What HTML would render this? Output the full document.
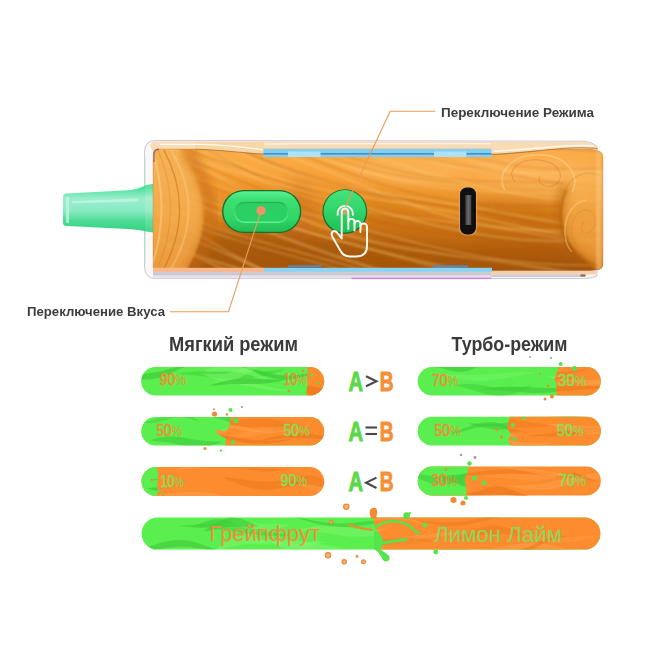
<!DOCTYPE html>
<html><head><meta charset="utf-8">
<style>
html,body{margin:0;padding:0;background:#fff;width:650px;height:650px;overflow:hidden}
svg{display:block}
text{font-family:"Liberation Sans",sans-serif}
</style></head><body>
<svg width="650" height="650" viewBox="0 0 650 650">
<defs>
  <linearGradient id="gBody" x1="0" y1="0" x2="0" y2="1">
    <stop offset="0" stop-color="#f8a63a"/>
    <stop offset="0.25" stop-color="#f39a2e"/>
    <stop offset="0.5" stop-color="#e48a22"/>
    <stop offset="0.75" stop-color="#c8701a"/>
    <stop offset="1" stop-color="#b86418"/>
  </linearGradient>
  <linearGradient id="gMouth" x1="0" y1="0" x2="0" y2="1">
    <stop offset="0" stop-color="#32da8a"/>
    <stop offset="0.1" stop-color="#52e19e"/>
    <stop offset="0.3" stop-color="#9aeecc"/>
    <stop offset="0.55" stop-color="#88eac2"/>
    <stop offset="0.76" stop-color="#4edc96"/>
    <stop offset="1" stop-color="#2cd27e"/>
  </linearGradient>
  <linearGradient id="gGreen" x1="0" y1="0" x2="0" y2="1">
    <stop offset="0" stop-color="#4fdf52"/>
    <stop offset="0.5" stop-color="#5eec5c"/>
    <stop offset="1" stop-color="#4fdc50"/>
  </linearGradient>
  <linearGradient id="gOrange" x1="0" y1="0" x2="0" y2="1">
    <stop offset="0" stop-color="#fb8a2a"/>
    <stop offset="0.5" stop-color="#fd9a44"/>
    <stop offset="1" stop-color="#f8862a"/>
  </linearGradient>
  <linearGradient id="gBtn" x1="0" y1="0" x2="0" y2="1">
    <stop offset="0" stop-color="#44e47c"/>
    <stop offset="0.5" stop-color="#30d468"/>
    <stop offset="1" stop-color="#1fbf55"/>
  </linearGradient>
  <clipPath id="cb1"><rect x="141" y="367" width="183" height="28" rx="14"/></clipPath>
  <clipPath id="cb2"><rect x="141" y="417" width="183" height="28" rx="14"/></clipPath>
  <clipPath id="cb3"><rect x="141" y="467" width="183" height="28" rx="14"/></clipPath>
  <clipPath id="cb4"><rect x="418" y="367" width="183" height="28" rx="14"/></clipPath>
  <clipPath id="cb5"><rect x="418" y="417" width="183" height="28" rx="14"/></clipPath>
  <clipPath id="cb6"><rect x="418" y="467" width="183" height="28" rx="14"/></clipPath>
  <clipPath id="cb7"><rect x="141" y="518" width="460" height="32" rx="16"/></clipPath>
  <clipPath id="cBody"><path d="M158 149 L590 149 L597 150.5 Q603 151.5 603 157 L603 264 Q603 269.5 597 269.8 L590 270.5 L158 271 Q153 271 153 265 L153 156 Q153 149 158 149 Z"/></clipPath>
  <filter id="blur6" x="-20%" y="-20%" width="140%" height="140%"><feGaussianBlur stdDeviation="6"/></filter>
  <filter id="blur2" x="-20%" y="-20%" width="140%" height="140%"><feGaussianBlur stdDeviation="2"/></filter>
  <linearGradient id="gCapL" x1="0" y1="0" x2="0" y2="1">
    <stop offset="0" stop-color="#f6b458"/>
    <stop offset="0.5" stop-color="#f5ae50"/>
    <stop offset="1" stop-color="#f0a040"/>
  </linearGradient>
  <linearGradient id="gCapR" x1="0" y1="0" x2="0" y2="1">
    <stop offset="0" stop-color="#f7b658" stop-opacity="0.9"/>
    <stop offset="0.4" stop-color="#f4a846" stop-opacity="0.95"/>
    <stop offset="1" stop-color="#ee9a36" stop-opacity="1"/>
  </linearGradient>
  <linearGradient id="gPill" x1="0" y1="0" x2="0" y2="1">
    <stop offset="0" stop-color="#58f090"/>
    <stop offset="0.2" stop-color="#3ee074"/>
    <stop offset="0.7" stop-color="#30d466"/>
    <stop offset="1" stop-color="#22bc56"/>
  </linearGradient>
  <linearGradient id="gPillIn" x1="0" y1="0" x2="0" y2="1">
    <stop offset="0" stop-color="#24b452"/>
    <stop offset="0.5" stop-color="#3ed874"/>
    <stop offset="1" stop-color="#5cf090"/>
  </linearGradient>
  <filter id="blur8" x="-20%" y="-20%" width="140%" height="140%"><feGaussianBlur stdDeviation="8"/></filter>
  <filter id="blur3" x="-20%" y="-20%" width="140%" height="140%"><feGaussianBlur stdDeviation="3"/></filter>
<!-- BARDEFS --><clipPath id="cL1"><rect x="141.2" y="367.0" width="183.0" height="28.5" rx="14.25"/></clipPath><clipPath id="cL2"><rect x="141.2" y="417.0" width="183.0" height="28.5" rx="14.25"/></clipPath><clipPath id="cL3"><rect x="141.5" y="467.0" width="182.7" height="29.0" rx="14.50"/></clipPath><clipPath id="cR1"><rect x="417.7" y="367.0" width="183.1" height="28.5" rx="14.25"/></clipPath><clipPath id="cR2"><rect x="417.7" y="416.8" width="183.1" height="28.7" rx="14.35"/></clipPath><clipPath id="cR3"><rect x="417.7" y="466.4" width="183.1" height="29.2" rx="14.60"/></clipPath><clipPath id="cB"><rect x="141.6" y="517.6" width="458.8" height="32.0" rx="16.00"/></clipPath><!-- /BARDEFS -->
  <filter id="blur1" x="-5%" y="-20%" width="110%" height="140%"><feGaussianBlur stdDeviation="0.9"/></filter>
  <filter id="blur05" x="-5%" y="-5%" width="110%" height="110%"><feGaussianBlur stdDeviation="0.5"/></filter>
  <filter id="blur4" x="-30%" y="-20%" width="160%" height="140%"><feGaussianBlur stdDeviation="4"/></filter>
  <linearGradient id="gUsb" x1="0" y1="0" x2="1" y2="0">
    <stop offset="0" stop-color="#3a3a3a"/>
    <stop offset="0.5" stop-color="#6a6a6a"/>
    <stop offset="1" stop-color="#404040"/>
  </linearGradient>
</defs>

<!-- ===== DEVICE ===== -->
<!-- outer shell -->
<path d="M156 140.5 L584 141.2 Q591 141.6 597 146 L597 276 Q591 278.5 583 278.5 L156 278.5 Q144.5 278.5 144.5 266 L144.5 152 Q144.5 140.5 156 140.5 Z" fill="#f6f1f4" fill-opacity="0.55" stroke="#cfc4d4" stroke-width="1"/>
<path d="M145 158 L145 264" stroke="#b8e8c8" stroke-width="1.2" fill="none"/>
<!-- mouthpiece -->
<path d="M66.5 193.5 Q63 193.5 63 197 L63 222.5 Q63 226 66.5 226 L128 229 Q140 229.8 146 231.5 L153 232.5 L153 184 L146 185 Q140 189 128 190.2 Z" fill="url(#gMouth)"/>
<rect x="145" y="184" width="8.5" height="49" fill="#ffffff" opacity="0.12"/>
<path d="M66 197 L69 196.8 L69 223 L66 223 Z" fill="#c8f6e4" opacity="0.7"/>
<path d="M72 201 L138 198.5 L138 201.5 L72 203.5 Z" fill="#d0f8ea" opacity="0.6"/>
<!-- top translucent face -->
<path d="M156 141.5 L584 142 Q591 142.5 597 147 L597 151 L153 151 L150 146 Q151 141.5 156 141.5 Z" fill="#f7d4a8" opacity="0.8"/>
<path d="M262 144 Q280 144 300 143.6 L491 143.6" fill="none" stroke="#fff6ea" stroke-width="1.4" opacity="0.9"/>
<!-- bottom band -->
<rect x="153" y="269.5" width="443" height="5" fill="#f6cfae"/>
<rect x="153" y="272.3" width="338" height="3.4" fill="#c9c9d3"/>
<rect x="491" y="274.5" width="94" height="2.5" fill="#cfcbd6"/>
<rect x="153" y="275.7" width="338" height="2.6" fill="#e6e3ec"/>
<ellipse cx="583" cy="275.5" rx="3" ry="1.2" fill="#6a4a3a" opacity="0.7"/>
<!-- body -->
<!-- BODY START -->
<g clip-path="url(#cBody)">
  <rect x="150" y="146" width="455" height="130" fill="url(#gBody)"/>
  <g filter="url(#blur8)">
    <path d="M185 236 Q260 222 330 236 Q420 250 560 246 L600 262 L600 285 L185 285 Z" fill="#8e4604" opacity="0.5"/>
    <path d="M190 140 L600 140 L600 192 Q520 200 430 186 Q330 172 190 178 Z" fill="#fdb050" opacity="0.55"/>
    <path d="M360 200 Q420 205 470 225 L470 260 L360 262 Z" fill="#b05c10" opacity="0.3"/>
    <path d="M470 150 Q540 150 600 165 L600 200 Q540 195 480 180 Z" fill="#fdba68" opacity="0.5"/>
    <ellipse cx="300" cy="212" rx="16" ry="36" fill="#c06410" opacity="0.35"/>
    <path d="M470 200 Q520 195 556 205 L560 262 L470 262 Z" fill="#b05808" opacity="0.4"/>
    <ellipse cx="410" cy="170" rx="60" ry="14" fill="#fdbc6a" opacity="0.45"/>
  </g>
  <g filter="url(#blur1)">
  <path d="M150 39.6 L160 45.0 L170 50.4 L180 55.6 L190 60.7 L200 65.6 L210 70.3 L220 74.9 L230 79.2 L240 83.3 L250 87.1 L260 90.7 L270 94.1 L280 97.2 L290 100.0 L300 102.7 L310 105.1 L320 107.4 L330 109.5 L340 111.4 L350 113.2 L360 114.9 L370 116.5 L380 118.1 L390 119.6 L400 121.1 L410 122.6 L420 124.2 L430 125.8 L440 127.4 L450 129.1 L460 130.8 L470 132.5 L480 134.3 L490 136.1 L500 137.9 L510 139.7 L520 141.5 L530 143.2 L540 144.9 L550 146.4 L560 147.8 L570 149.1 L580 150.2 L590 151.1 L600 151.8" fill="none" stroke="#a85810" stroke-opacity="0.22" stroke-width="2.0"/>
  <path d="M150 43.5 L160 48.7 L170 53.8 L180 58.9 L190 63.8 L200 68.7 L210 73.3 L220 77.8 L230 82.1 L240 86.2 L250 90.1 L260 93.8 L270 97.3 L280 100.5 L290 103.5 L300 106.3 L310 108.9 L320 111.3 L330 113.5 L340 115.5 L350 117.4 L360 119.2 L370 120.8 L380 122.3 L390 123.8 L400 125.3 L410 126.7 L420 128.1 L430 129.5 L440 130.9 L450 132.3 L460 133.7 L470 135.2 L480 136.7 L490 138.2 L500 139.8 L510 141.3 L520 142.8 L530 144.3 L540 145.7 L550 147.0 L560 148.3 L570 149.4 L580 150.4 L590 151.3 L600 151.9" fill="none" stroke="#ffd27a" stroke-opacity="0.3" stroke-width="2.2"/>
  <path d="M150 45.1 L160 49.5 L170 54.0 L180 58.5 L190 62.9 L200 67.4 L210 71.9 L220 76.4 L230 80.8 L240 85.2 L250 89.5 L260 93.7 L270 97.8 L280 101.7 L290 105.6 L300 109.2 L310 112.7 L320 116.0 L330 119.1 L340 122.0 L350 124.7 L360 127.1 L370 129.4 L380 131.4 L390 133.3 L400 134.9 L410 136.4 L420 137.7 L430 138.9 L440 139.9 L450 140.9 L460 141.7 L470 142.5 L480 143.2 L490 143.9 L500 144.6 L510 145.2 L520 145.9 L530 146.6 L540 147.3 L550 148.0 L560 148.7 L570 149.4 L580 150.1 L590 150.8 L600 151.5" fill="none" stroke="#a85810" stroke-opacity="0.22" stroke-width="1.4"/>
  <path d="M150 55.4 L160 59.2 L170 63.0 L180 66.6 L190 70.3 L200 73.9 L210 77.5 L220 81.1 L230 84.8 L240 88.6 L250 92.5 L260 96.4 L270 100.5 L280 104.6 L290 108.8 L300 113.0 L310 117.3 L320 121.6 L330 125.8 L340 130.1 L350 134.3 L360 138.3 L370 142.3 L380 146.0 L390 149.6 L400 153.0 L410 156.1 L420 159.0 L430 161.6 L440 163.9 L450 165.9 L460 167.7 L470 169.1 L480 170.3 L490 171.3 L500 172.0 L510 172.5 L520 172.8 L530 172.9 L540 173.0 L550 172.9 L560 172.8 L570 172.6 L580 172.5 L590 172.3 L600 172.2" fill="none" stroke="#ffd27a" stroke-opacity="0.3" stroke-width="2.1"/>
  <path d="M150 66.8 L160 71.6 L170 76.2 L180 80.5 L190 84.5 L200 88.2 L210 91.7 L220 95.0 L230 98.0 L240 100.8 L250 103.4 L260 105.9 L270 108.2 L280 110.5 L290 112.6 L300 114.8 L310 116.9 L320 119.0 L330 121.2 L340 123.4 L350 125.6 L360 128.0 L370 130.4 L380 132.9 L390 135.4 L400 138.0 L410 140.7 L420 143.4 L430 146.1 L440 148.7 L450 151.3 L460 153.9 L470 156.3 L480 158.6 L490 160.7 L500 162.6 L510 164.4 L520 165.9 L530 167.1 L540 168.1 L550 168.8 L560 169.2 L570 169.4 L580 169.3 L590 168.9 L600 168.3" fill="none" stroke="#a85810" stroke-opacity="0.22" stroke-width="1.4"/>
  <path d="M150 65.8 L160 71.4 L170 76.7 L180 81.9 L190 86.8 L200 91.4 L210 95.8 L220 99.9 L230 103.7 L240 107.3 L250 110.7 L260 113.7 L270 116.6 L280 119.3 L290 121.7 L300 124.1 L310 126.2 L320 128.3 L330 130.3 L340 132.3 L350 134.3 L360 136.2 L370 138.2 L380 140.2 L390 142.3 L400 144.4 L410 146.6 L420 148.9 L430 151.2 L440 153.6 L450 156.0 L460 158.5 L470 160.9 L480 163.4 L490 165.7 L500 168.1 L510 170.3 L520 172.3 L530 174.2 L540 176.0 L550 177.5 L560 178.8 L570 179.9 L580 180.7 L590 181.2 L600 181.4" fill="none" stroke="#ffd27a" stroke-opacity="0.3" stroke-width="2.4"/>
  <path d="M150 67.9 L160 73.5 L170 78.9 L180 84.2 L190 89.4 L200 94.5 L210 99.4 L220 104.0 L230 108.5 L240 112.8 L250 116.9 L260 120.7 L270 124.3 L280 127.6 L290 130.8 L300 133.7 L310 136.4 L320 138.9 L330 141.3 L340 143.5 L350 145.6 L360 147.5 L370 149.4 L380 151.2 L390 152.9 L400 154.7 L410 156.4 L420 158.1 L430 159.9 L440 161.6 L450 163.4 L460 165.2 L470 167.1 L480 169.0 L490 170.9 L500 172.8 L510 174.6 L520 176.5 L530 178.3 L540 180.0 L550 181.7 L560 183.2 L570 184.6 L580 185.8 L590 186.9 L600 187.7" fill="none" stroke="#a85810" stroke-opacity="0.22" stroke-width="1.3"/>
  <path d="M150 76.5 L160 81.6 L170 86.5 L180 91.2 L190 95.7 L200 100.0 L210 104.1 L220 107.9 L230 111.7 L240 115.2 L250 118.7 L260 122.0 L270 125.2 L280 128.3 L290 131.4 L300 134.4 L310 137.4 L320 140.3 L330 143.3 L340 146.3 L350 149.3 L360 152.3 L370 155.3 L380 158.3 L390 161.4 L400 164.4 L410 167.4 L420 170.4 L430 173.3 L440 176.2 L450 178.9 L460 181.6 L470 184.2 L480 186.6 L490 188.9 L500 190.9 L510 192.8 L520 194.5 L530 196.0 L540 197.3 L550 198.4 L560 199.3 L570 199.9 L580 200.3 L590 200.6 L600 200.7" fill="none" stroke="#ffd27a" stroke-opacity="0.3" stroke-width="2.4"/>
  <path d="M150 74.6 L160 78.5 L170 82.4 L180 86.4 L190 90.4 L200 94.4 L210 98.5 L220 102.7 L230 107.0 L240 111.3 L250 115.6 L260 120.0 L270 124.4 L280 128.7 L290 133.1 L300 137.3 L310 141.5 L320 145.6 L330 149.5 L340 153.3 L350 156.8 L360 160.2 L370 163.3 L380 166.1 L390 168.7 L400 171.1 L410 173.1 L420 175.0 L430 176.5 L440 177.8 L450 178.9 L460 179.8 L470 180.5 L480 181.0 L490 181.4 L500 181.7 L510 181.9 L520 182.1 L530 182.2 L540 182.4 L550 182.5 L560 182.7 L570 183.0 L580 183.3 L590 183.7 L600 184.1" fill="none" stroke="#a85810" stroke-opacity="0.22" stroke-width="1.5"/>
  <path d="M150 78.4 L160 82.5 L170 86.8 L180 91.0 L190 95.4 L200 99.8 L210 104.3 L220 108.9 L230 113.5 L240 118.2 L250 122.9 L260 127.6 L270 132.4 L280 137.1 L290 141.7 L300 146.2 L310 150.6 L320 154.9 L330 158.9 L340 162.8 L350 166.5 L360 169.9 L370 173.0 L380 175.9 L390 178.5 L400 180.8 L410 182.8 L420 184.6 L430 186.2 L440 187.5 L450 188.5 L460 189.4 L470 190.2 L480 190.8 L490 191.3 L500 191.8 L510 192.2 L520 192.5 L530 192.9 L540 193.3 L550 193.8 L560 194.3 L570 194.9 L580 195.6 L590 196.3 L600 197.2" fill="none" stroke="#ffd27a" stroke-opacity="0.3" stroke-width="1.9"/>
  <path d="M150 85.3 L160 89.5 L170 93.7 L180 97.9 L190 102.1 L200 106.4 L210 110.6 L220 114.8 L230 119.1 L240 123.3 L250 127.5 L260 131.7 L270 135.8 L280 139.8 L290 143.7 L300 147.5 L310 151.2 L320 154.7 L330 158.1 L340 161.3 L350 164.2 L360 167.0 L370 169.6 L380 171.9 L390 174.1 L400 176.0 L410 177.7 L420 179.3 L430 180.6 L440 181.8 L450 182.8 L460 183.7 L470 184.5 L480 185.1 L490 185.7 L500 186.2 L510 186.7 L520 187.2 L530 187.6 L540 188.0 L550 188.4 L560 188.9 L570 189.3 L580 189.8 L590 190.3 L600 190.7" fill="none" stroke="#a85810" stroke-opacity="0.22" stroke-width="1.4"/>
  <path d="M150 87.3 L160 91.4 L170 95.4 L180 99.6 L190 103.8 L200 108.0 L210 112.3 L220 116.6 L230 120.9 L240 125.3 L250 129.6 L260 133.9 L270 138.2 L280 142.3 L290 146.4 L300 150.3 L310 154.1 L320 157.7 L330 161.1 L340 164.4 L350 167.3 L360 170.1 L370 172.6 L380 174.8 L390 176.9 L400 178.6 L410 180.1 L420 181.5 L430 182.6 L440 183.5 L450 184.2 L460 184.8 L470 185.3 L480 185.7 L490 186.1 L500 186.4 L510 186.6 L520 186.9 L530 187.1 L540 187.4 L550 187.8 L560 188.2 L570 188.6 L580 189.1 L590 189.6 L600 190.1" fill="none" stroke="#ffd27a" stroke-opacity="0.3" stroke-width="2.4"/>
  <path d="M150 97.9 L160 101.7 L170 105.4 L180 109.1 L190 112.7 L200 116.3 L210 119.9 L220 123.5 L230 127.1 L240 130.8 L250 134.6 L260 138.4 L270 142.2 L280 146.1 L290 150.0 L300 153.9 L310 157.9 L320 161.8 L330 165.7 L340 169.5 L350 173.2 L360 176.8 L370 180.2 L380 183.5 L390 186.6 L400 189.5 L410 192.2 L420 194.6 L430 196.8 L440 198.7 L450 200.4 L460 201.8 L470 203.0 L480 204.0 L490 204.8 L500 205.3 L510 205.7 L520 205.9 L530 206.0 L540 206.0 L550 205.9 L560 205.8 L570 205.6 L580 205.4 L590 205.2 L600 205.1" fill="none" stroke="#a85810" stroke-opacity="0.22" stroke-width="2.0"/>
  <path d="M150 105.8 L160 110.1 L170 114.2 L180 118.1 L190 121.9 L200 125.5 L210 129.0 L220 132.4 L230 135.8 L240 139.2 L250 142.6 L260 146.0 L270 149.5 L280 153.1 L290 156.8 L300 160.5 L310 164.3 L320 168.2 L330 172.2 L340 176.2 L350 180.3 L360 184.4 L370 188.4 L380 192.4 L390 196.4 L400 200.2 L410 203.9 L420 207.4 L430 210.8 L440 213.9 L450 216.8 L460 219.4 L470 221.7 L480 223.8 L490 225.6 L500 227.1 L510 228.3 L520 229.2 L530 229.9 L540 230.4 L550 230.7 L560 230.7 L570 230.7 L580 230.5 L590 230.2 L600 229.8" fill="none" stroke="#ffd27a" stroke-opacity="0.3" stroke-width="2.5"/>
  <path d="M150 100.9 L160 106.6 L170 112.3 L180 117.9 L190 123.5 L200 129.0 L210 134.3 L220 139.6 L230 144.6 L240 149.5 L250 154.2 L260 158.6 L270 162.8 L280 166.8 L290 170.6 L300 174.1 L310 177.3 L320 180.3 L330 183.1 L340 185.7 L350 188.1 L360 190.3 L370 192.4 L380 194.4 L390 196.2 L400 198.0 L410 199.7 L420 201.3 L430 203.0 L440 204.7 L450 206.3 L460 208.1 L470 209.8 L480 211.6 L490 213.5 L500 215.4 L510 217.3 L520 219.2 L530 221.2 L540 223.1 L550 225.0 L560 226.9 L570 228.7 L580 230.4 L590 231.9 L600 233.3" fill="none" stroke="#a85810" stroke-opacity="0.22" stroke-width="2.4"/>
  <path d="M150 106.9 L160 112.4 L170 118.0 L180 123.4 L190 128.7 L200 134.0 L210 139.0 L220 144.0 L230 148.7 L240 153.2 L250 157.5 L260 161.6 L270 165.4 L280 168.9 L290 172.3 L300 175.3 L310 178.2 L320 180.8 L330 183.2 L340 185.4 L350 187.5 L360 189.4 L370 191.1 L380 192.8 L390 194.4 L400 196.0 L410 197.5 L420 199.0 L430 200.5 L440 202.0 L450 203.6 L460 205.2 L470 206.9 L480 208.6 L490 210.4 L500 212.2 L510 214.0 L520 215.8 L530 217.6 L540 219.4 L550 221.1 L560 222.8 L570 224.3 L580 225.7 L590 227.0 L600 228.1" fill="none" stroke="#ffd27a" stroke-opacity="0.3" stroke-width="2.2"/>
  <path d="M150 111.9 L160 116.2 L170 120.6 L180 124.8 L190 129.1 L200 133.3 L210 137.5 L220 141.6 L230 145.7 L240 149.8 L250 153.7 L260 157.6 L270 161.4 L280 165.2 L290 168.8 L300 172.3 L310 175.7 L320 178.9 L330 182.1 L340 185.0 L350 187.8 L360 190.5 L370 193.0 L380 195.3 L390 197.4 L400 199.4 L410 201.3 L420 203.0 L430 204.5 L440 205.9 L450 207.2 L460 208.4 L470 209.4 L480 210.4 L490 211.3 L500 212.1 L510 212.8 L520 213.5 L530 214.2 L540 214.7 L550 215.3 L560 215.8 L570 216.3 L580 216.7 L590 217.1 L600 217.5" fill="none" stroke="#a85810" stroke-opacity="0.22" stroke-width="1.4"/>
  <path d="M150 117.6 L160 123.4 L170 129.2 L180 134.7 L190 140.2 L200 145.4 L210 150.5 L220 155.3 L230 159.8 L240 164.1 L250 168.1 L260 171.9 L270 175.3 L280 178.5 L290 181.5 L300 184.2 L310 186.6 L320 188.9 L330 191.0 L340 192.9 L350 194.7 L360 196.4 L370 198.1 L380 199.7 L390 201.3 L400 202.9 L410 204.5 L420 206.2 L430 208.0 L440 209.8 L450 211.7 L460 213.7 L470 215.8 L480 217.9 L490 220.0 L500 222.2 L510 224.4 L520 226.5 L530 228.6 L540 230.6 L550 232.6 L560 234.3 L570 235.9 L580 237.3 L590 238.5 L600 239.5" fill="none" stroke="#ffd27a" stroke-opacity="0.3" stroke-width="2.2"/>
  <path d="M150 118.1 L160 123.3 L170 128.7 L180 134.1 L190 139.6 L200 145.0 L210 150.5 L220 156.0 L230 161.4 L240 166.8 L250 172.1 L260 177.2 L270 182.2 L280 187.0 L290 191.7 L300 196.0 L310 200.2 L320 204.1 L330 207.7 L340 211.1 L350 214.2 L360 217.0 L370 219.6 L380 222.0 L390 224.1 L400 226.0 L410 227.7 L420 229.3 L430 230.7 L440 232.1 L450 233.3 L460 234.6 L470 235.8 L480 237.0 L490 238.2 L500 239.5 L510 240.9 L520 242.3 L530 243.7 L540 245.3 L550 246.9 L560 248.5 L570 250.2 L580 251.9 L590 253.7 L600 255.4" fill="none" stroke="#a85810" stroke-opacity="0.22" stroke-width="1.6"/>
  <path d="M150 123.2 L160 128.6 L170 134.1 L180 139.5 L190 145.0 L200 150.4 L210 155.7 L220 160.9 L230 165.9 L240 170.8 L250 175.5 L260 180.0 L270 184.2 L280 188.2 L290 191.9 L300 195.3 L310 198.5 L320 201.4 L330 204.0 L340 206.3 L350 208.4 L360 210.3 L370 212.0 L380 213.5 L390 214.9 L400 216.2 L410 217.4 L420 218.5 L430 219.6 L440 220.7 L450 221.8 L460 223.0 L470 224.2 L480 225.5 L490 226.9 L500 228.3 L510 229.9 L520 231.4 L530 233.1 L540 234.8 L550 236.5 L560 238.2 L570 239.8 L580 241.4 L590 242.9 L600 244.3" fill="none" stroke="#ffd27a" stroke-opacity="0.3" stroke-width="1.7"/>
  <path d="M150 134.4 L160 138.6 L170 142.7 L180 146.7 L190 150.5 L200 154.2 L210 157.8 L220 161.3 L230 164.8 L240 168.2 L250 171.6 L260 174.9 L270 178.3 L280 181.6 L290 184.9 L300 188.1 L310 191.4 L320 194.7 L330 197.9 L340 201.1 L350 204.2 L360 207.3 L370 210.4 L380 213.3 L390 216.2 L400 218.9 L410 221.6 L420 224.1 L430 226.4 L440 228.6 L450 230.6 L460 232.4 L470 234.1 L480 235.6 L490 236.8 L500 237.9 L510 238.8 L520 239.6 L530 240.2 L540 240.6 L550 240.8 L560 241.0 L570 241.0 L580 240.9 L590 240.7 L600 240.4" fill="none" stroke="#a85810" stroke-opacity="0.22" stroke-width="2.0"/>
  <path d="M150 141.2 L160 145.5 L170 149.6 L180 153.6 L190 157.3 L200 160.9 L210 164.2 L220 167.5 L230 170.6 L240 173.5 L250 176.4 L260 179.2 L270 181.9 L280 184.6 L290 187.3 L300 189.9 L310 192.6 L320 195.2 L330 197.9 L340 200.5 L350 203.2 L360 205.9 L370 208.6 L380 211.3 L390 214.0 L400 216.6 L410 219.2 L420 221.7 L430 224.1 L440 226.5 L450 228.7 L460 230.7 L470 232.6 L480 234.4 L490 235.9 L500 237.3 L510 238.4 L520 239.4 L530 240.1 L540 240.6 L550 240.9 L560 241.0 L570 240.9 L580 240.6 L590 240.2 L600 239.6" fill="none" stroke="#ffd27a" stroke-opacity="0.3" stroke-width="2.3"/>
  <path d="M150 143.4 L160 147.7 L170 151.9 L180 156.0 L190 160.1 L200 164.2 L210 168.3 L220 172.4 L230 176.5 L240 180.6 L250 184.8 L260 189.0 L270 193.2 L280 197.4 L290 201.6 L300 205.8 L310 210.0 L320 214.1 L330 218.2 L340 222.1 L350 226.0 L360 229.7 L370 233.3 L380 236.7 L390 239.9 L400 242.9 L410 245.7 L420 248.3 L430 250.6 L440 252.7 L450 254.6 L460 256.3 L470 257.8 L480 259.0 L490 260.1 L500 261.0 L510 261.8 L520 262.5 L530 263.0 L540 263.5 L550 263.8 L560 264.2 L570 264.5 L580 264.8 L590 265.1 L600 265.5" fill="none" stroke="#a85810" stroke-opacity="0.22" stroke-width="2.1"/>
  <path d="M150 139.8 L160 145.2 L170 150.6 L180 156.0 L190 161.5 L200 167.1 L210 172.6 L220 178.1 L230 183.5 L240 188.8 L250 194.1 L260 199.2 L270 204.1 L280 208.9 L290 213.5 L300 217.8 L310 221.9 L320 225.7 L330 229.3 L340 232.6 L350 235.7 L360 238.5 L370 241.0 L380 243.4 L390 245.5 L400 247.4 L410 249.1 L420 250.7 L430 252.2 L440 253.6 L450 255.0 L460 256.3 L470 257.5 L480 258.8 L490 260.2 L500 261.5 L510 263.0 L520 264.4 L530 266.0 L540 267.6 L550 269.3 L560 271.0 L570 272.7 L580 274.5 L590 276.2 L600 277.9" fill="none" stroke="#ffd27a" stroke-opacity="0.3" stroke-width="2.7"/>
  <path d="M150 150.8 L160 155.2 L170 159.5 L180 163.7 L190 167.9 L200 172.0 L210 176.1 L220 180.1 L230 184.1 L240 188.1 L250 192.0 L260 196.0 L270 199.8 L280 203.7 L290 207.5 L300 211.2 L310 214.8 L320 218.4 L330 221.9 L340 225.3 L350 228.6 L360 231.7 L370 234.7 L380 237.6 L390 240.3 L400 242.9 L410 245.2 L420 247.5 L430 249.5 L440 251.4 L450 253.1 L460 254.7 L470 256.1 L480 257.3 L490 258.4 L500 259.4 L510 260.2 L520 261.0 L530 261.6 L540 262.2 L550 262.7 L560 263.1 L570 263.5 L580 263.9 L590 264.2 L600 264.4" fill="none" stroke="#a85810" stroke-opacity="0.22" stroke-width="1.3"/>
  <path d="M150 157.7 L160 162.3 L170 166.8 L180 171.0 L190 175.1 L200 179.1 L210 182.9 L220 186.5 L230 190.0 L240 193.3 L250 196.6 L260 199.7 L270 202.8 L280 205.8 L290 208.7 L300 211.6 L310 214.4 L320 217.2 L330 220.0 L340 222.7 L350 225.4 L360 228.1 L370 230.8 L380 233.5 L390 236.1 L400 238.6 L410 241.1 L420 243.6 L430 246.0 L440 248.2 L450 250.4 L460 252.5 L470 254.4 L480 256.2 L490 257.9 L500 259.4 L510 260.7 L520 261.9 L530 262.9 L540 263.7 L550 264.3 L560 264.7 L570 265.0 L580 265.1 L590 265.1 L600 264.9" fill="none" stroke="#ffd27a" stroke-opacity="0.3" stroke-width="1.6"/>
  <path d="M150 161.8 L160 166.3 L170 170.7 L180 174.9 L190 178.9 L200 182.8 L210 186.5 L220 190.1 L230 193.5 L240 196.9 L250 200.2 L260 203.3 L270 206.4 L280 209.4 L290 212.4 L300 215.3 L310 218.2 L320 221.0 L330 223.8 L340 226.5 L350 229.3 L360 232.0 L370 234.7 L380 237.3 L390 239.9 L400 242.4 L410 244.8 L420 247.2 L430 249.5 L440 251.7 L450 253.8 L460 255.7 L470 257.5 L480 259.2 L490 260.7 L500 262.1 L510 263.3 L520 264.3 L530 265.2 L540 265.9 L550 266.4 L560 266.8 L570 267.0 L580 267.1 L590 267.0 L600 266.8" fill="none" stroke="#a85810" stroke-opacity="0.22" stroke-width="1.2"/>
  <path d="M150 168.7 L160 173.9 L170 178.9 L180 183.8 L190 188.4 L200 192.9 L210 197.3 L220 201.4 L230 205.4 L240 209.2 L250 212.9 L260 216.4 L270 219.8 L280 223.1 L290 226.3 L300 229.4 L310 232.4 L320 235.4 L330 238.2 L340 241.1 L350 243.9 L360 246.7 L370 249.4 L380 252.1 L390 254.8 L400 257.5 L410 260.1 L420 262.7 L430 265.3 L440 267.8 L450 270.3 L460 272.7 L470 275.0 L480 277.2 L490 279.2 L500 281.2 L510 283.0 L520 284.7 L530 286.2 L540 287.6 L550 288.8 L560 289.8 L570 290.7 L580 291.4 L590 291.9 L600 292.2" fill="none" stroke="#ffd27a" stroke-opacity="0.3" stroke-width="2.0"/>
  <path d="M150 165.5 L160 170.9 L170 176.3 L180 181.6 L190 186.9 L200 192.1 L210 197.1 L220 202.1 L230 206.8 L240 211.3 L250 215.7 L260 219.7 L270 223.6 L280 227.1 L290 230.4 L300 233.4 L310 236.2 L320 238.6 L330 240.9 L340 242.9 L350 244.7 L360 246.3 L370 247.7 L380 249.0 L390 250.2 L400 251.4 L410 252.5 L420 253.5 L430 254.6 L440 255.7 L450 256.9 L460 258.1 L470 259.3 L480 260.7 L490 262.1 L500 263.5 L510 265.1 L520 266.7 L530 268.3 L540 269.9 L550 271.5 L560 273.1 L570 274.5 L580 275.9 L590 277.2 L600 278.3" fill="none" stroke="#a85810" stroke-opacity="0.22" stroke-width="1.9"/>
  <path d="M150 177.1 L160 181.6 L170 185.9 L180 190.1 L190 194.1 L200 198.0 L210 201.7 L220 205.3 L230 208.7 L240 212.0 L250 215.2 L260 218.3 L270 221.3 L280 224.3 L290 227.1 L300 230.0 L310 232.7 L320 235.5 L330 238.1 L340 240.8 L350 243.4 L360 246.0 L370 248.6 L380 251.1 L390 253.6 L400 256.0 L410 258.4 L420 260.7 L430 262.9 L440 265.1 L450 267.1 L460 269.0 L470 270.8 L480 272.5 L490 274.0 L500 275.4 L510 276.6 L520 277.6 L530 278.5 L540 279.2 L550 279.7 L560 280.1 L570 280.3 L580 280.3 L590 280.2 L600 280.0" fill="none" stroke="#ffd27a" stroke-opacity="0.3" stroke-width="1.9"/>
  <path d="M150 178.4 L160 183.2 L170 188.0 L180 192.7 L190 197.3 L200 201.8 L210 206.2 L220 210.5 L230 214.8 L240 218.9 L250 222.8 L260 226.7 L270 230.3 L280 233.9 L290 237.3 L300 240.5 L310 243.6 L320 246.5 L330 249.2 L340 251.8 L350 254.3 L360 256.6 L370 258.8 L380 260.8 L390 262.7 L400 264.6 L410 266.3 L420 267.9 L430 269.5 L440 271.0 L450 272.4 L460 273.8 L470 275.1 L480 276.4 L490 277.7 L500 278.9 L510 280.0 L520 281.1 L530 282.2 L540 283.2 L550 284.2 L560 285.1 L570 285.9 L580 286.6 L590 287.2 L600 287.7" fill="none" stroke="#a85810" stroke-opacity="0.22" stroke-width="1.9"/>
  <path d="M150 183.7 L160 188.3 L170 192.7 L180 197.1 L190 201.3 L200 205.4 L210 209.5 L220 213.5 L230 217.4 L240 221.3 L250 225.1 L260 228.9 L270 232.6 L280 236.3 L290 240.0 L300 243.6 L310 247.1 L320 250.6 L330 254.1 L340 257.5 L350 260.8 L360 264.0 L370 267.2 L380 270.2 L390 273.1 L400 275.9 L410 278.6 L420 281.1 L430 283.5 L440 285.8 L450 287.9 L460 289.8 L470 291.6 L480 293.2 L490 294.6 L500 295.9 L510 297.1 L520 298.1 L530 299.0 L540 299.7 L550 300.4 L560 300.9 L570 301.3 L580 301.7 L590 301.9 L600 302.1" fill="none" stroke="#ffd27a" stroke-opacity="0.3" stroke-width="3.0"/>
  <path d="M150 192.8 L160 197.7 L170 202.5 L180 207.0 L190 211.4 L200 215.6 L210 219.6 L220 223.5 L230 227.3 L240 231.0 L250 234.5 L260 238.0 L270 241.4 L280 244.8 L290 248.1 L300 251.3 L310 254.6 L320 257.8 L330 261.0 L340 264.2 L350 267.4 L360 270.6 L370 273.8 L380 276.9 L390 280.1 L400 283.1 L410 286.2 L420 289.1 L430 291.9 L440 294.7 L450 297.3 L460 299.8 L470 302.2 L480 304.4 L490 306.4 L500 308.3 L510 310.0 L520 311.4 L530 312.7 L540 313.8 L550 314.7 L560 315.5 L570 316.0 L580 316.4 L590 316.6 L600 316.7" fill="none" stroke="#a85810" stroke-opacity="0.22" stroke-width="1.4"/>
  <path d="M150 199.6 L160 204.6 L170 209.3 L180 213.7 L190 217.9 L200 221.8 L210 225.5 L220 229.0 L230 232.3 L240 235.5 L250 238.5 L260 241.4 L270 244.2 L280 247.0 L290 249.7 L300 252.4 L310 255.1 L320 257.9 L330 260.7 L340 263.5 L350 266.4 L360 269.4 L370 272.5 L380 275.6 L390 278.7 L400 281.9 L410 285.0 L420 288.2 L430 291.3 L440 294.3 L450 297.3 L460 300.1 L470 302.8 L480 305.4 L490 307.7 L500 309.8 L510 311.7 L520 313.3 L530 314.7 L540 315.8 L550 316.6 L560 317.2 L570 317.5 L580 317.6 L590 317.5 L600 317.2" fill="none" stroke="#ffd27a" stroke-opacity="0.3" stroke-width="1.8"/>
  <path d="M150 192.6 L160 197.6 L170 202.6 L180 207.8 L190 213.0 L200 218.3 L210 223.6 L220 229.0 L230 234.3 L240 239.7 L250 245.0 L260 250.3 L270 255.5 L280 260.6 L290 265.5 L300 270.2 L310 274.7 L320 279.1 L330 283.1 L340 287.0 L350 290.5 L360 293.8 L370 296.8 L380 299.5 L390 302.0 L400 304.2 L410 306.2 L420 308.0 L430 309.6 L440 311.1 L450 312.4 L460 313.6 L470 314.7 L480 315.7 L490 316.8 L500 317.9 L510 318.9 L520 320.1 L530 321.2 L540 322.5 L550 323.8 L560 325.2 L570 326.7 L580 328.2 L590 329.8 L600 331.3" fill="none" stroke="#a85810" stroke-opacity="0.22" stroke-width="2.3"/>
  <path d="M150 207.5 L160 212.1 L170 216.4 L180 220.6 L190 224.5 L200 228.2 L210 231.7 L220 235.1 L230 238.3 L240 241.3 L250 244.3 L260 247.2 L270 250.0 L280 252.8 L290 255.5 L300 258.2 L310 261.0 L320 263.7 L330 266.4 L340 269.2 L350 272.0 L360 274.9 L370 277.7 L380 280.6 L390 283.5 L400 286.3 L410 289.1 L420 291.9 L430 294.6 L440 297.2 L450 299.6 L460 302.0 L470 304.2 L480 306.2 L490 308.0 L500 309.6 L510 311.0 L520 312.2 L530 313.2 L540 313.9 L550 314.4 L560 314.7 L570 314.8 L580 314.7 L590 314.4 L600 313.9" fill="none" stroke="#ffd27a" stroke-opacity="0.3" stroke-width="1.5"/>
  <path d="M150 203.7 L160 207.9 L170 212.1 L180 216.3 L190 220.4 L200 224.5 L210 228.6 L220 232.7 L230 236.8 L240 240.9 L250 245.0 L260 249.0 L270 253.0 L280 257.0 L290 260.8 L300 264.7 L310 268.4 L320 272.0 L330 275.5 L340 278.8 L350 282.1 L360 285.1 L370 288.0 L380 290.7 L390 293.2 L400 295.5 L410 297.6 L420 299.6 L430 301.3 L440 302.9 L450 304.3 L460 305.6 L470 306.6 L480 307.6 L490 308.4 L500 309.2 L510 309.8 L520 310.3 L530 310.8 L540 311.3 L550 311.7 L560 312.1 L570 312.4 L580 312.8 L590 313.1 L600 313.5" fill="none" stroke="#a85810" stroke-opacity="0.22" stroke-width="2.5"/>
  <path d="M150 205.6 L160 211.5 L170 217.5 L180 223.5 L190 229.5 L200 235.4 L210 241.3 L220 247.0 L230 252.6 L240 258.1 L250 263.3 L260 268.3 L270 273.0 L280 277.5 L290 281.8 L300 285.7 L310 289.3 L320 292.6 L330 295.7 L340 298.5 L350 301.0 L360 303.3 L370 305.4 L380 307.3 L390 309.1 L400 310.7 L410 312.3 L420 313.8 L430 315.3 L440 316.8 L450 318.3 L460 319.8 L470 321.5 L480 323.2 L490 325.0 L500 326.9 L510 328.9 L520 330.9 L530 333.1 L540 335.3 L550 337.5 L560 339.7 L570 341.9 L580 344.0 L590 346.1 L600 348.0" fill="none" stroke="#ffd27a" stroke-opacity="0.3" stroke-width="2.0"/>
  <path d="M150 216.9 L160 221.9 L170 226.8 L180 231.4 L190 235.9 L200 240.3 L210 244.4 L220 248.4 L230 252.2 L240 255.8 L250 259.2 L260 262.5 L270 265.6 L280 268.6 L290 271.5 L300 274.2 L310 276.8 L320 279.4 L330 281.9 L340 284.3 L350 286.6 L360 289.0 L370 291.2 L380 293.5 L390 295.7 L400 298.0 L410 300.2 L420 302.4 L430 304.5 L440 306.7 L450 308.8 L460 310.8 L470 312.8 L480 314.7 L490 316.5 L500 318.3 L510 319.9 L520 321.4 L530 322.7 L540 323.9 L550 324.9 L560 325.8 L570 326.5 L580 327.0 L590 327.3 L600 327.5" fill="none" stroke="#a85810" stroke-opacity="0.22" stroke-width="2.1"/>
  <path d="M150 220.5 L160 225.0 L170 229.4 L180 233.7 L190 238.1 L200 242.4 L210 246.8 L220 251.2 L230 255.6 L240 260.0 L250 264.5 L260 268.9 L270 273.4 L280 277.8 L290 282.2 L300 286.6 L310 291.0 L320 295.2 L330 299.4 L340 303.4 L350 307.3 L360 311.0 L370 314.6 L380 318.0 L390 321.2 L400 324.1 L410 326.9 L420 329.4 L430 331.7 L440 333.8 L450 335.6 L460 337.3 L470 338.8 L480 340.1 L490 341.3 L500 342.3 L510 343.2 L520 344.0 L530 344.7 L540 345.3 L550 345.9 L560 346.5 L570 347.1 L580 347.7 L590 348.3 L600 348.9" fill="none" stroke="#ffd27a" stroke-opacity="0.3" stroke-width="2.7"/>
  <path d="M150 218.1 L160 222.7 L170 227.3 L180 232.0 L190 236.9 L200 241.7 L210 246.7 L220 251.7 L230 256.7 L240 261.8 L250 266.9 L260 271.9 L270 276.9 L280 281.7 L290 286.5 L300 291.1 L310 295.5 L320 299.7 L330 303.6 L340 307.4 L350 310.8 L360 314.0 L370 316.9 L380 319.5 L390 321.9 L400 324.0 L410 325.8 L420 327.4 L430 328.8 L440 329.9 L450 331.0 L460 331.9 L470 332.7 L480 333.4 L490 334.1 L500 334.7 L510 335.4 L520 336.1 L530 336.8 L540 337.7 L550 338.6 L560 339.5 L570 340.6 L580 341.7 L590 342.9 L600 344.2" fill="none" stroke="#a85810" stroke-opacity="0.22" stroke-width="2.3"/>
  <path d="M150 235.6 L160 240.3 L170 244.7 L180 248.8 L190 252.7 L200 256.3 L210 259.7 L220 262.9 L230 265.9 L240 268.8 L250 271.5 L260 274.1 L270 276.6 L280 279.1 L290 281.5 L300 283.9 L310 286.4 L320 288.9 L330 291.4 L340 294.0 L350 296.7 L360 299.4 L370 302.1 L380 305.0 L390 307.8 L400 310.7 L410 313.7 L420 316.5 L430 319.4 L440 322.2 L450 324.8 L460 327.4 L470 329.8 L480 332.0 L490 334.1 L500 335.9 L510 337.5 L520 338.8 L530 339.9 L540 340.7 L550 341.2 L560 341.5 L570 341.5 L580 341.3 L590 340.9 L600 340.3" fill="none" stroke="#ffd27a" stroke-opacity="0.3" stroke-width="2.7"/>
  <path d="M150 232.4 L160 237.6 L170 242.8 L180 247.9 L190 253.0 L200 258.0 L210 262.9 L220 267.7 L230 272.4 L240 277.0 L250 281.4 L260 285.7 L270 289.8 L280 293.7 L290 297.3 L300 300.8 L310 304.1 L320 307.1 L330 310.0 L340 312.6 L350 315.1 L360 317.3 L370 319.4 L380 321.4 L390 323.2 L400 324.9 L410 326.5 L420 328.0 L430 329.5 L440 330.9 L450 332.3 L460 333.7 L470 335.0 L480 336.4 L490 337.8 L500 339.2 L510 340.6 L520 342.0 L530 343.4 L540 344.8 L550 346.2 L560 347.5 L570 348.8 L580 350.0 L590 351.1 L600 352.2" fill="none" stroke="#a85810" stroke-opacity="0.22" stroke-width="2.2"/>
  <path d="M150 235.4 L160 240.1 L170 244.8 L180 249.5 L190 254.1 L200 258.6 L210 263.1 L220 267.5 L230 271.8 L240 276.0 L250 280.1 L260 284.1 L270 287.9 L280 291.5 L290 295.0 L300 298.4 L310 301.6 L320 304.5 L330 307.4 L340 310.0 L350 312.5 L360 314.8 L370 316.9 L380 318.9 L390 320.7 L400 322.5 L410 324.1 L420 325.6 L430 327.0 L440 328.3 L450 329.5 L460 330.7 L470 331.9 L480 333.0 L490 334.0 L500 335.1 L510 336.1 L520 337.1 L530 338.1 L540 339.0 L550 339.9 L560 340.8 L570 341.6 L580 342.4 L590 343.1 L600 343.7" fill="none" stroke="#ffd27a" stroke-opacity="0.3" stroke-width="2.7"/>
  </g>
  <path d="M150 148 L178 148 Q226 211 184 274 L150 274 Z" fill="url(#gCapL)" opacity="0.9" filter="url(#blur1)"/>
  <path d="M186 150 Q232 211 190 272" fill="none" stroke="#c46a10" stroke-opacity="0.55" stroke-width="13" filter="url(#blur4)"/>
  <g fill="none" filter="url(#blur05)">
    <path d="M152 150 Q172 211 150 272" stroke="#ffdca0" stroke-opacity="0.4" stroke-width="2"/>
    <path d="M158 150 Q184 211 156 272" stroke="#c87a28" stroke-opacity="0.3" stroke-width="1.2"/>
    <path d="M164 150 Q196 211 162 272" stroke="#c06a18" stroke-opacity="0.5" stroke-width="1.4"/>
    <path d="M171 150 Q207 211 169 272" stroke="#ffd49a" stroke-opacity="0.35" stroke-width="2"/>
  </g>
  <path d="M606 170 L566 170 Q560 185 562 200 Q558 232 578 255 Q590 264 600 272 L606 272 Z" fill="url(#gCapR)" opacity="0.85" filter="url(#blur1)"/>
  <path d="M566 185 Q556 205 562 230 Q566 246 578 255 Q588 263 598 268" fill="none" stroke="#a85206" stroke-opacity="0.45" stroke-width="9" filter="url(#blur4)"/>
  <path d="M566 190 Q558 208 562.5 230 Q566.5 245 578 254.5 Q588 262.5 598 267.5" fill="none" stroke="#b05a0a" stroke-opacity="0.5" stroke-width="3" filter="url(#blur1)"/>
  <g fill="none" filter="url(#blur05)">
    <path d="M515 182 C505 170 520 158 540 160 C558 162 566 176 556 184 C548 190 536 184 540 176" stroke="#c87a28" stroke-opacity="0.4" stroke-width="1.2"/>
    <path d="M505 190 C495 175 510 152 545 155 C570 158 580 178 572 192" stroke="#ffe0a0" stroke-opacity="0.4" stroke-width="1.6"/>
    <path d="M578 246 C568 236 570 214 584 210 C596 208 600 226 590 232 C584 236 578 228 584 222" stroke="#d8842c" stroke-opacity="0.4" stroke-width="1.2"/>
    <path d="M572 252 C560 240 562 205 586 200" stroke="#ffd898" stroke-opacity="0.4" stroke-width="1.6"/>
    <path d="M600 175 C585 170 570 176 566 190" stroke="#d08028" stroke-opacity="0.3" stroke-width="1.2"/>
  </g>
  <rect x="596" y="150" width="5" height="120" fill="#ffd8a0" opacity="0.35" filter="url(#blur1)"/>
</g>
<!-- BODY END -->
<path d="M158 149 L590 149 L597 150.5 Q603 151.5 603 157 L603 264 Q603 269.5 597 269.8 L590 270.5 L158 271 Q153 271 153 265 L153 156 Q153 149 158 149 Z" fill="none" stroke="#a06038" stroke-opacity="0.3" stroke-width="0.8"/>

<!-- top left face -->
<path d="M195 147 L195 149.2 C220 149.6 238 152.6 264 154 L264 142 L195 142 Z" fill="#f8d6a6"/>
<path d="M160 144.3 L205 144.3 C226 144.6 242 147.6 263 149.6" fill="none" stroke="#fffaf0" stroke-width="1.3"/>
<path d="M195 149.2 C220 149.6 238 152.6 264 154" fill="none" stroke="#a8703c" stroke-width="1.1" opacity="0.8"/>
<path d="M154 162 L154 154 Q154 149.5 159 149.3" fill="none" stroke="#7a4a6a" stroke-width="1.4" opacity="0.7"/>
<!-- top right face -->
<path d="M491 149 L491 154.2 C515 153.5 535 150.5 560 148.5 C580 147 590 147.2 597.5 148.5 L597.5 146 Q591 142.5 584 142 L491 142 Z" fill="#f9dcb4"/>
<path d="M494 151.2 C515 150.5 535 148 560 146.4 C578 145.2 588 145.2 594 146" fill="none" stroke="#fffaf0" stroke-width="1.4"/>
<path d="M491 154.4 C515 153.7 535 150.7 560 148.7 C580 147.2 590 147.4 597.5 148.7" fill="none" stroke="#a8703c" stroke-width="1.1" opacity="0.8"/>
<!-- blue strips -->
<rect x="263.5" y="149" width="228" height="8" fill="#80d0f4"/>
<rect x="263.5" y="153.2" width="228" height="1.3" fill="#3c7fbc"/>
<rect x="288" y="151.5" width="32.5" height="5.5" fill="#aee2f9"/>
<rect x="434" y="151.5" width="32.3" height="5.5" fill="#aee2f9"/>
<rect x="153" y="267.8" width="111" height="4" fill="#f8b890"/>
<rect x="264" y="267.8" width="228" height="4" fill="#88d4f6"/>
<rect x="288.2" y="265.3" width="33.2" height="1.8" fill="#4a88d0"/>
<rect x="433" y="265.3" width="35" height="1.8" fill="#4a88d0"/>
<rect x="351.5" y="277.6" width="140" height="1.5" fill="#d870e8" opacity="0.85"/>

<!-- buttons -->
<rect x="222" y="190" width="79.3" height="43" rx="21.5" fill="#186e2c"/>
<rect x="223.4" y="191.2" width="76.5" height="40.6" rx="20.3" fill="url(#gPill)"/>
<rect x="234.7" y="202.5" width="53.3" height="19.8" rx="9.9" fill="#2cd062" stroke="url(#gPillIn)" stroke-width="1.4"/>
<circle cx="261" cy="210.6" r="4.6" fill="#f0926a"/>

<circle cx="344.8" cy="211.6" r="22.4" fill="#186e2c"/>
<circle cx="344.8" cy="211.3" r="21.2" fill="url(#gBtn)"/>
<circle cx="345" cy="211.8" r="3" fill="#f09a6a" opacity="0.8"/>
<!-- hand -->
<g fill="none" stroke="#fffaf4" stroke-width="1.9" stroke-linecap="round" stroke-linejoin="round">
  <path d="M337.6 214.8 A7.7 7.7 0 1 1 352.8 214.8"/>
  <path d="M341.7 238 L341.7 211.8 A3.3 3.3 0 0 1 348.3 211.8 L348.3 229"/>
  <path d="M348.3 222 A3.1 3.1 0 0 1 354.5 222 L354.5 230.5"/>
  <path d="M354.5 224 A2.95 2.95 0 0 1 360.4 224 L360.4 232"/>
  <path d="M360.4 226.8 A3.3 3.3 0 0 1 367 226.8 L367 246 Q367 256.5 356 256.5 L350 256.5 Q343 256.5 340 250 L332.2 236.5 Q330.8 233 332.8 231.5 Q334.8 230.2 337 232.5 L341.7 238.5"/>
</g>

<!-- usb-c -->
<rect x="459" y="186.5" width="18" height="49" rx="7" fill="#f8b070" opacity="0.6"/>
<rect x="460" y="187.5" width="16" height="47" rx="6.5" fill="#101010"/>
<rect x="465.3" y="195" width="6" height="30" fill="url(#gUsb)"/>

<!-- callouts -->
<polyline points="435.4,111.3 390.2,111.3 345.3,207" fill="none" stroke="#eb9a55" stroke-width="1.1"/>
<polyline points="170,311.7 228.5,311.7 261,210.7" fill="none" stroke="#ee9c58" stroke-width="1.1"/>
<text x="441" y="117" font-size="13" font-weight="bold" fill="#3c3c3c" textLength="153" lengthAdjust="spacingAndGlyphs">Переключение Режима</text>
<text x="27" y="316" font-size="13" font-weight="bold" fill="#3c3c3c" textLength="138" lengthAdjust="spacingAndGlyphs">Переключение Вкуса</text>

<!-- ===== HEADERS ===== -->
<text x="169" y="350.6" font-size="20" font-weight="bold" fill="#3a3a3a" textLength="129" lengthAdjust="spacingAndGlyphs">Мягкий режим</text>
<text x="451.5" y="350.6" font-size="20" font-weight="bold" fill="#3a3a3a" textLength="116" lengthAdjust="spacingAndGlyphs">Турбо-режим</text>

<!-- ===== BARS ===== -->
<g clip-path="url(#cL1)">
  <rect x="139.2" y="365.0" width="187.0" height="32.5" fill="#5aee4e"/>
  <path d="M177.3 373.9 L181.8 372.9 L186.3 372.2 L190.9 371.7 L195.4 371.4 L199.9 371.2 L204.4 371.2 L208.9 371.2 L213.4 371.4 L217.9 371.6 L222.4 371.8 L226.9 372.0 L231.4 372.2 L235.9 372.3 L240.4 372.4 L244.9 372.4 L249.5 372.3 L254.0 372.1 L258.5 371.8 L263.0 371.4 L267.5 371.0 L272.0 370.6 L276.5 370.1 L281.0 369.7 L285.5 369.4 L285.5 369.4 L281.0 371.1 L276.5 372.6 L272.0 373.9 L267.5 375.2 L263.0 376.3 L258.5 377.3 L254.0 378.1 L249.5 378.7 L244.9 379.1 L240.4 379.4 L235.9 379.5 L231.4 379.4 L226.9 379.2 L222.4 378.8 L217.9 378.3 L213.4 377.8 L208.9 377.2 L204.4 376.6 L199.9 376.1 L195.4 375.5 L190.9 375.1 L186.3 374.6 L181.8 374.3 L177.3 373.9 Z" fill="#40cc3a" fill-opacity="0.47"/>
  <path d="M203.4 371.0 L206.1 370.0 L208.7 369.1 L211.4 368.1 L214.0 367.2 L216.7 366.3 L219.4 365.5 L222.0 364.8 L224.7 364.2 L227.3 363.9 L230.0 363.7 L232.6 363.7 L235.3 364.0 L237.9 364.5 L240.6 365.2 L243.2 366.1 L245.9 367.2 L248.6 368.4 L251.2 369.8 L253.9 371.3 L256.5 372.8 L259.2 374.4 L261.8 375.9 L264.5 377.4 L267.1 379.0 L267.1 379.0 L264.5 378.9 L261.8 378.5 L259.2 378.0 L256.5 377.3 L253.9 376.5 L251.2 375.7 L248.6 374.9 L245.9 374.1 L243.2 373.4 L240.6 372.7 L237.9 372.2 L235.3 371.7 L232.6 371.4 L230.0 371.2 L227.3 371.1 L224.7 371.2 L222.0 371.2 L219.4 371.4 L216.7 371.5 L214.0 371.6 L211.4 371.7 L208.7 371.7 L206.1 371.5 L203.4 371.0 Z" fill="#7cf66e" fill-opacity="0.55"/>
  <path d="M112.6 372.6 L115.8 372.4 L119.0 372.4 L122.2 372.5 L125.4 372.7 L128.6 373.0 L131.8 373.2 L135.0 373.4 L138.2 373.6 L141.4 373.6 L144.6 373.6 L147.8 373.4 L151.0 373.1 L154.2 372.6 L157.4 372.0 L160.6 371.3 L163.8 370.5 L167.0 369.6 L170.2 368.7 L173.4 367.9 L176.6 367.0 L179.8 366.2 L183.0 365.6 L186.2 365.1 L189.4 364.9 L189.4 364.9 L186.2 366.3 L183.0 367.7 L179.8 369.1 L176.6 370.5 L173.4 372.0 L170.2 373.4 L167.0 374.8 L163.8 376.0 L160.6 377.1 L157.4 378.0 L154.2 378.7 L151.0 379.2 L147.8 379.5 L144.6 379.6 L141.4 379.4 L138.2 379.1 L135.0 378.5 L131.8 377.9 L128.6 377.1 L125.4 376.2 L122.2 375.4 L119.0 374.5 L115.8 373.6 L112.6 372.6 Z" fill="#40cc3a" fill-opacity="0.70"/>
  <path d="M211.5 383.0 L214.8 382.3 L218.0 381.8 L221.3 381.3 L224.6 380.9 L227.8 380.7 L231.1 380.5 L234.3 380.5 L237.6 380.6 L240.9 380.9 L244.1 381.3 L247.4 381.8 L250.6 382.4 L253.9 383.1 L257.2 383.8 L260.4 384.6 L263.7 385.4 L266.9 386.2 L270.2 387.0 L273.4 387.7 L276.7 388.4 L280.0 389.0 L283.2 389.6 L286.5 390.0 L289.7 390.5 L289.7 390.5 L286.5 390.8 L283.2 391.0 L280.0 391.0 L276.7 390.8 L273.4 390.5 L270.2 390.2 L266.9 389.7 L263.7 389.1 L260.4 388.5 L257.2 387.9 L253.9 387.2 L250.6 386.6 L247.4 385.9 L244.1 385.4 L240.9 384.8 L237.6 384.4 L234.3 384.0 L231.1 383.7 L227.8 383.5 L224.6 383.3 L221.3 383.2 L218.0 383.2 L214.8 383.2 L211.5 383.0 Z" fill="#7cf66e" fill-opacity="0.49"/>
  <path d="M239.4 366.2 L242.7 366.5 L246.0 367.1 L249.3 367.8 L252.6 368.6 L255.8 369.5 L259.1 370.5 L262.4 371.4 L265.7 372.3 L269.0 373.2 L272.2 373.9 L275.5 374.5 L278.8 375.0 L282.1 375.3 L285.4 375.4 L288.6 375.4 L291.9 375.3 L295.2 375.1 L298.5 374.7 L301.8 374.3 L305.0 373.9 L308.3 373.6 L311.6 373.2 L314.9 373.0 L318.2 373.0 L318.2 373.0 L314.9 373.9 L311.6 374.7 L308.3 375.6 L305.0 376.5 L301.8 377.3 L298.5 378.0 L295.2 378.7 L291.9 379.2 L288.6 379.5 L285.4 379.7 L282.1 379.6 L278.8 379.3 L275.5 378.8 L272.2 378.1 L269.0 377.3 L265.7 376.2 L262.4 375.1 L259.1 373.8 L255.8 372.5 L252.6 371.1 L249.3 369.8 L246.0 368.6 L242.7 367.4 L239.4 366.2 Z" fill="#40cc3a" fill-opacity="0.75"/>
  <path d="M202.8 374.0 L205.4 373.8 L208.0 373.8 L210.6 373.8 L213.2 373.9 L215.8 374.0 L218.4 373.9 L221.0 373.8 L223.6 373.6 L226.2 373.2 L228.9 372.7 L231.5 372.1 L234.1 371.3 L236.7 370.5 L239.3 369.6 L241.9 368.6 L244.5 367.7 L247.1 366.7 L249.7 365.9 L252.3 365.1 L254.9 364.5 L257.5 364.1 L260.1 363.9 L262.7 363.9 L265.3 364.3 L265.3 364.3 L262.7 365.6 L260.1 366.8 L257.5 368.0 L254.9 369.4 L252.3 370.8 L249.7 372.3 L247.1 373.8 L244.5 375.3 L241.9 376.6 L239.3 377.9 L236.7 379.0 L234.1 379.9 L231.5 380.5 L228.9 381.0 L226.2 381.2 L223.6 381.2 L221.0 380.9 L218.4 380.4 L215.8 379.7 L213.2 378.8 L210.6 377.8 L208.0 376.7 L205.4 375.4 L202.8 374.0 Z" fill="#7cf66e" fill-opacity="0.53"/>
  <path d="M209.2 385.6 L212.4 384.4 L215.6 383.4 L218.7 382.4 L221.9 381.6 L225.1 380.9 L228.3 380.3 L231.4 379.7 L234.6 379.3 L237.8 379.0 L240.9 378.8 L244.1 378.7 L247.3 378.7 L250.4 378.7 L253.6 378.8 L256.8 378.9 L259.9 379.0 L263.1 379.2 L266.3 379.3 L269.4 379.4 L272.6 379.5 L275.8 379.6 L279.0 379.6 L282.1 379.6 L285.3 379.6 L285.3 379.6 L282.1 380.6 L279.0 381.4 L275.8 382.0 L272.6 382.6 L269.4 383.0 L266.3 383.3 L263.1 383.6 L259.9 383.8 L256.8 383.9 L253.6 383.9 L250.4 384.0 L247.3 384.0 L244.1 384.0 L240.9 384.0 L237.8 384.0 L234.6 384.1 L231.4 384.1 L228.3 384.3 L225.1 384.5 L221.9 384.7 L218.7 384.9 L215.6 385.2 L212.4 385.4 L209.2 385.6 Z" fill="#40cc3a" fill-opacity="0.75"/>
  <defs><clipPath id="sL1"><path d="M307.5 360 L335 360 L335 400 L307 400 Q306 390 307.8 384 Q306.2 378 307.6 372 Z"/></clipPath></defs>
  <g clip-path="url(#sL1)"><rect x="139.2" y="365.0" width="187.0" height="32.5" fill="#fc8c2e"/>
    <path d="M292.9 388.5 L296.3 388.4 L299.7 388.4 L303.1 388.4 L306.5 388.3 L309.9 388.2 L313.3 388.1 L316.8 387.8 L320.2 387.6 L323.6 387.3 L327.0 386.9 L330.4 386.6 L333.8 386.3 L337.2 386.0 L340.7 385.7 L344.1 385.6 L347.5 385.5 L350.9 385.5 L354.3 385.7 L357.7 386.0 L361.1 386.4 L364.6 387.0 L368.0 387.7 L371.4 388.6 L374.8 389.7 L374.8 389.7 L371.4 389.9 L368.0 390.0 L364.6 390.1 L361.1 390.3 L357.7 390.6 L354.3 390.9 L350.9 391.2 L347.5 391.6 L344.1 392.0 L340.7 392.4 L337.2 392.7 L333.8 393.1 L330.4 393.4 L327.0 393.6 L323.6 393.7 L320.2 393.6 L316.8 393.5 L313.3 393.2 L309.9 392.8 L306.5 392.3 L303.1 391.6 L299.7 390.7 L296.3 389.8 L292.9 388.5 Z" fill="#ee7a1e" fill-opacity="0.49"/>
    <path d="M182.1 393.6 L186.8 392.6 L191.5 391.7 L196.2 390.8 L200.8 389.9 L205.5 389.0 L210.2 388.1 L214.9 387.2 L219.5 386.4 L224.2 385.5 L228.9 384.8 L233.6 384.1 L238.3 383.5 L242.9 383.1 L247.6 382.7 L252.3 382.5 L257.0 382.4 L261.7 382.5 L266.3 382.6 L271.0 382.9 L275.7 383.3 L280.4 383.8 L285.0 384.4 L289.7 385.1 L294.4 386.0 L294.4 386.0 L289.7 386.7 L285.0 387.1 L280.4 387.5 L275.7 387.9 L271.0 388.3 L266.3 388.7 L261.7 389.1 L257.0 389.6 L252.3 390.1 L247.6 390.6 L242.9 391.1 L238.3 391.6 L233.6 392.1 L228.9 392.6 L224.2 393.1 L219.5 393.5 L214.9 393.9 L210.2 394.2 L205.5 394.4 L200.8 394.6 L196.2 394.6 L191.5 394.4 L186.8 394.2 L182.1 393.6 Z" fill="#fea24e" fill-opacity="0.36"/>
    <path d="M153.0 371.8 L155.4 370.7 L157.8 369.7 L160.2 368.8 L162.6 368.0 L165.0 367.2 L167.4 366.5 L169.8 365.9 L172.2 365.5 L174.5 365.2 L176.9 365.0 L179.3 365.0 L181.7 365.1 L184.1 365.3 L186.5 365.7 L188.9 366.2 L191.3 366.8 L193.7 367.5 L196.1 368.2 L198.5 369.0 L200.9 369.8 L203.3 370.6 L205.7 371.4 L208.1 372.2 L210.5 373.1 L210.5 373.1 L208.1 373.6 L205.7 373.9 L203.3 374.1 L200.9 374.1 L198.5 374.0 L196.1 373.9 L193.7 373.7 L191.3 373.5 L188.9 373.3 L186.5 373.0 L184.1 372.8 L181.7 372.6 L179.3 372.4 L176.9 372.3 L174.5 372.2 L172.2 372.2 L169.8 372.2 L167.4 372.2 L165.0 372.3 L162.6 372.3 L160.2 372.3 L157.8 372.3 L155.4 372.1 L153.0 371.8 Z" fill="#ee7a1e" fill-opacity="0.67"/>
    <path d="M188.2 385.1 L192.6 384.2 L197.0 383.6 L201.3 382.9 L205.7 382.2 L210.1 381.6 L214.5 381.1 L218.8 380.6 L223.2 380.3 L227.6 380.1 L232.0 380.0 L236.3 380.0 L240.7 380.2 L245.1 380.6 L249.5 381.1 L253.9 381.7 L258.2 382.5 L262.6 383.3 L267.0 384.2 L271.4 385.2 L275.7 386.3 L280.1 387.3 L284.5 388.4 L288.9 389.5 L293.2 390.6 L293.2 390.6 L288.9 390.8 L284.5 390.7 L280.1 390.4 L275.7 390.1 L271.4 389.7 L267.0 389.3 L262.6 388.9 L258.2 388.4 L253.9 388.0 L249.5 387.6 L245.1 387.2 L240.7 386.9 L236.3 386.7 L232.0 386.5 L227.6 386.3 L223.2 386.3 L218.8 386.2 L214.5 386.2 L210.1 386.1 L205.7 386.1 L201.3 386.0 L197.0 385.8 L192.6 385.6 L188.2 385.1 Z" fill="#fea24e" fill-opacity="0.59"/>
    <path d="M225.9 374.0 L229.4 373.5 L232.9 373.2 L236.3 372.9 L239.8 372.7 L243.3 372.5 L246.7 372.2 L250.2 371.9 L253.7 371.5 L257.1 371.1 L260.6 370.7 L264.1 370.2 L267.5 369.7 L271.0 369.2 L274.5 368.7 L278.0 368.2 L281.4 367.8 L284.9 367.5 L288.4 367.2 L291.8 367.0 L295.3 367.0 L298.8 367.1 L302.2 367.3 L305.7 367.7 L309.2 368.5 L309.2 368.5 L305.7 369.4 L302.2 370.2 L298.8 371.0 L295.3 371.8 L291.8 372.7 L288.4 373.5 L284.9 374.4 L281.4 375.3 L278.0 376.1 L274.5 376.8 L271.0 377.5 L267.5 378.1 L264.1 378.5 L260.6 378.8 L257.1 379.0 L253.7 379.0 L250.2 378.8 L246.7 378.5 L243.3 378.1 L239.8 377.5 L236.3 376.8 L232.9 376.0 L229.4 375.1 L225.9 374.0 Z" fill="#ee7a1e" fill-opacity="0.72"/>
    <path d="M209.3 376.4 L213.4 375.5 L217.6 374.8 L221.7 374.0 L225.9 373.3 L230.0 372.7 L234.2 372.1 L238.3 371.7 L242.5 371.3 L246.6 371.1 L250.8 370.9 L254.9 370.9 L259.1 371.0 L263.2 371.3 L267.4 371.6 L271.5 372.0 L275.7 372.5 L279.8 373.0 L284.0 373.6 L288.1 374.2 L292.3 374.8 L296.4 375.4 L300.6 376.0 L304.7 376.5 L308.9 377.1 L308.9 377.1 L304.7 377.5 L300.6 377.7 L296.4 377.7 L292.3 377.6 L288.1 377.5 L284.0 377.3 L279.8 377.1 L275.7 376.9 L271.5 376.6 L267.4 376.3 L263.2 376.1 L259.1 375.9 L254.9 375.8 L250.8 375.7 L246.6 375.7 L242.5 375.7 L238.3 375.7 L234.2 375.9 L230.0 376.0 L225.9 376.1 L221.7 376.3 L217.6 376.4 L213.4 376.5 L209.3 376.4 Z" fill="#fea24e" fill-opacity="0.37"/>
    <path d="M281.8 390.3 L284.2 389.2 L286.5 388.3 L288.9 387.6 L291.3 386.9 L293.6 386.3 L296.0 385.9 L298.4 385.6 L300.7 385.4 L303.1 385.4 L305.5 385.5 L307.8 385.7 L310.2 386.1 L312.6 386.5 L314.9 387.1 L317.3 387.8 L319.6 388.5 L322.0 389.3 L324.4 390.1 L326.7 390.9 L329.1 391.7 L331.5 392.5 L333.8 393.4 L336.2 394.2 L338.6 395.1 L338.6 395.1 L336.2 395.9 L333.8 396.4 L331.5 396.7 L329.1 396.9 L326.7 396.9 L324.4 396.9 L322.0 396.7 L319.6 396.5 L317.3 396.2 L314.9 395.9 L312.6 395.5 L310.2 395.1 L307.8 394.6 L305.5 394.2 L303.1 393.8 L300.7 393.4 L298.4 393.1 L296.0 392.7 L293.6 392.4 L291.3 392.1 L288.9 391.7 L286.5 391.4 L284.2 391.0 L281.8 390.3 Z" fill="#ee7a1e" fill-opacity="0.75"/>
  </g>
</g>
<g clip-path="url(#cL2)">
  <rect x="139.2" y="415.0" width="187.0" height="32.5" fill="#5aee4e"/>
  <path d="M279.2 437.0 L283.3 436.2 L287.4 435.6 L291.5 435.3 L295.6 435.1 L299.7 435.1 L303.8 435.2 L307.8 435.4 L311.9 435.8 L316.0 436.3 L320.1 437.0 L324.2 437.6 L328.3 438.4 L332.3 439.2 L336.4 439.9 L340.5 440.7 L344.6 441.5 L348.7 442.2 L352.8 442.9 L356.9 443.5 L360.9 444.1 L365.0 444.6 L369.1 445.1 L373.2 445.6 L377.3 446.3 L377.3 446.3 L373.2 447.3 L369.1 448.0 L365.0 448.5 L360.9 449.0 L356.9 449.2 L352.8 449.3 L348.7 449.3 L344.6 449.0 L340.5 448.7 L336.4 448.2 L332.3 447.6 L328.3 446.9 L324.2 446.1 L320.1 445.2 L316.0 444.3 L311.9 443.4 L307.8 442.5 L303.8 441.6 L299.7 440.8 L295.6 440.0 L291.5 439.2 L287.4 438.5 L283.3 437.8 L279.2 437.0 Z" fill="#40cc3a" fill-opacity="0.71"/>
  <path d="M217.5 430.4 L220.1 429.7 L222.7 429.1 L225.2 428.6 L227.8 428.1 L230.4 427.6 L233.0 427.2 L235.6 426.8 L238.1 426.5 L240.7 426.3 L243.3 426.3 L245.9 426.3 L248.4 426.5 L251.0 426.8 L253.6 427.3 L256.2 427.9 L258.7 428.6 L261.3 429.5 L263.9 430.4 L266.5 431.5 L269.1 432.6 L271.6 433.8 L274.2 435.1 L276.8 436.4 L279.4 437.9 L279.4 437.9 L276.8 438.1 L274.2 438.1 L271.6 437.9 L269.1 437.7 L266.5 437.4 L263.9 437.1 L261.3 436.7 L258.7 436.4 L256.2 436.1 L253.6 435.8 L251.0 435.5 L248.4 435.2 L245.9 435.0 L243.3 434.7 L240.7 434.5 L238.1 434.3 L235.6 434.1 L233.0 433.8 L230.4 433.5 L227.8 433.1 L225.2 432.6 L222.7 432.1 L220.1 431.4 L217.5 430.4 Z" fill="#7cf66e" fill-opacity="0.46"/>
  <path d="M149.9 440.7 L152.9 439.5 L155.9 438.5 L158.9 437.8 L161.9 437.2 L165.0 436.8 L168.0 436.6 L171.0 436.5 L174.0 436.6 L177.0 436.9 L180.0 437.2 L183.0 437.6 L186.0 438.1 L189.0 438.6 L192.0 439.2 L195.0 439.7 L198.0 440.1 L201.0 440.6 L204.1 440.9 L207.1 441.1 L210.1 441.3 L213.1 441.4 L216.1 441.4 L219.1 441.4 L222.1 441.6 L222.1 441.6 L219.1 443.0 L216.1 444.1 L213.1 445.1 L210.1 445.9 L207.1 446.5 L204.1 446.9 L201.0 447.1 L198.0 447.2 L195.0 447.1 L192.0 446.9 L189.0 446.5 L186.0 446.1 L183.0 445.5 L180.0 444.9 L177.0 444.3 L174.0 443.7 L171.0 443.1 L168.0 442.6 L165.0 442.1 L161.9 441.7 L158.9 441.4 L155.9 441.2 L152.9 441.0 L149.9 440.7 Z" fill="#40cc3a" fill-opacity="0.60"/>
  <path d="M126.3 416.0 L130.1 415.1 L133.8 414.4 L137.6 413.9 L141.3 413.5 L145.1 413.3 L148.8 413.1 L152.6 413.0 L156.4 413.0 L160.1 413.1 L163.9 413.2 L167.6 413.3 L171.4 413.4 L175.1 413.5 L178.9 413.6 L182.6 413.6 L186.4 413.6 L190.2 413.5 L193.9 413.3 L197.7 413.1 L201.4 412.8 L205.2 412.5 L208.9 412.2 L212.7 411.8 L216.4 411.6 L216.4 411.6 L212.7 412.8 L208.9 413.9 L205.2 414.8 L201.4 415.7 L197.7 416.5 L193.9 417.1 L190.2 417.7 L186.4 418.1 L182.6 418.3 L178.9 418.5 L175.1 418.5 L171.4 418.5 L167.6 418.3 L163.9 418.1 L160.1 417.8 L156.4 417.6 L152.6 417.2 L148.8 416.9 L145.1 416.7 L141.3 416.5 L137.6 416.3 L133.8 416.2 L130.1 416.1 L126.3 416.0 Z" fill="#7cf66e" fill-opacity="0.52"/>
  <path d="M141.5 422.1 L143.9 421.8 L146.4 421.5 L148.8 421.0 L151.2 420.4 L153.6 419.7 L156.1 418.8 L158.5 417.9 L160.9 417.0 L163.3 416.1 L165.8 415.2 L168.2 414.5 L170.6 413.8 L173.1 413.4 L175.5 413.1 L177.9 413.0 L180.3 413.2 L182.8 413.6 L185.2 414.2 L187.6 415.1 L190.0 416.1 L192.5 417.2 L194.9 418.6 L197.3 420.0 L199.7 421.5 L199.7 421.5 L197.3 420.9 L194.9 420.2 L192.5 419.5 L190.0 418.8 L187.6 418.3 L185.2 417.9 L182.8 417.6 L180.3 417.5 L177.9 417.6 L175.5 417.8 L173.1 418.1 L170.6 418.6 L168.2 419.2 L165.8 419.9 L163.3 420.6 L160.9 421.3 L158.5 421.9 L156.1 422.5 L153.6 422.9 L151.2 423.2 L148.8 423.3 L146.4 423.1 L143.9 422.8 L141.5 422.1 Z" fill="#40cc3a" fill-opacity="0.45"/>
  <path d="M230.9 422.1 L233.8 421.0 L236.8 420.0 L239.7 419.1 L242.7 418.3 L245.7 417.6 L248.6 417.0 L251.6 416.5 L254.5 416.2 L257.5 416.1 L260.5 416.2 L263.4 416.5 L266.4 417.0 L269.3 417.6 L272.3 418.3 L275.3 419.2 L278.2 420.1 L281.2 421.1 L284.1 422.1 L287.1 423.0 L290.1 424.0 L293.0 424.8 L296.0 425.6 L298.9 426.2 L301.9 426.8 L301.9 426.8 L298.9 427.1 L296.0 427.1 L293.0 426.8 L290.1 426.5 L287.1 426.0 L284.1 425.4 L281.2 424.7 L278.2 424.0 L275.3 423.2 L272.3 422.5 L269.3 421.9 L266.4 421.3 L263.4 420.8 L260.5 420.5 L257.5 420.2 L254.5 420.1 L251.6 420.1 L248.6 420.3 L245.7 420.5 L242.7 420.8 L239.7 421.2 L236.8 421.5 L233.8 421.9 L230.9 422.1 Z" fill="#7cf66e" fill-opacity="0.51"/>
  <path d="M214.3 417.5 L217.7 416.6 L221.0 416.2 L224.3 416.1 L227.7 416.2 L231.0 416.6 L234.4 417.1 L237.7 417.9 L241.1 418.7 L244.4 419.8 L247.8 420.8 L251.1 421.9 L254.5 423.0 L257.8 424.1 L261.2 425.1 L264.5 426.0 L267.8 426.7 L271.2 427.3 L274.5 427.8 L277.9 428.2 L281.2 428.4 L284.6 428.5 L287.9 428.6 L291.3 428.6 L294.6 428.9 L294.6 428.9 L291.3 430.4 L287.9 431.6 L284.6 432.7 L281.2 433.5 L277.9 434.2 L274.5 434.6 L271.2 434.8 L267.8 434.7 L264.5 434.4 L261.2 433.8 L257.8 433.0 L254.5 432.0 L251.1 430.9 L247.8 429.6 L244.4 428.2 L241.1 426.8 L237.7 425.3 L234.4 423.9 L231.0 422.6 L227.7 421.4 L224.3 420.2 L221.0 419.3 L217.7 418.4 L214.3 417.5 Z" fill="#40cc3a" fill-opacity="0.62"/>
  <defs><clipPath id="sL2"><path d="M232 410 L335 410 L335 450 L226 450 Q224.5 443 226.5 439 Q222.5 436.5 218.5 434.5 Q215 432.8 216.6 430.6 Q219 429.4 224 431.2 Q228.6 430 229.6 425.5 Q230.6 420 232 410 Z"/></clipPath></defs>
  <g clip-path="url(#sL2)"><rect x="139.2" y="415.0" width="187.0" height="32.5" fill="#fc8c2e"/>
    <path d="M181.1 437.6 L185.9 436.5 L190.7 435.7 L195.5 435.1 L200.3 434.7 L205.1 434.5 L209.9 434.6 L214.7 434.8 L219.4 435.2 L224.2 435.8 L229.0 436.4 L233.8 437.2 L238.6 437.9 L243.4 438.6 L248.2 439.3 L252.9 439.9 L257.7 440.3 L262.5 440.6 L267.3 440.7 L272.1 440.7 L276.9 440.5 L281.7 440.1 L286.4 439.5 L291.2 438.9 L296.0 438.2 L296.0 438.2 L291.2 439.6 L286.4 440.8 L281.7 441.8 L276.9 442.6 L272.1 443.2 L267.3 443.6 L262.5 443.7 L257.7 443.6 L252.9 443.4 L248.2 442.9 L243.4 442.3 L238.6 441.6 L233.8 440.9 L229.0 440.1 L224.2 439.3 L219.4 438.6 L214.7 437.9 L209.9 437.4 L205.1 437.0 L200.3 436.8 L195.5 436.8 L190.7 436.9 L185.9 437.2 L181.1 437.6 Z" fill="#ee7a1e" fill-opacity="0.74"/>
    <path d="M158.6 427.3 L161.6 426.5 L164.6 425.9 L167.6 425.5 L170.5 425.2 L173.5 425.1 L176.5 425.1 L179.5 425.2 L182.4 425.4 L185.4 425.7 L188.4 426.0 L191.4 426.4 L194.3 426.8 L197.3 427.2 L200.3 427.6 L203.3 428.0 L206.3 428.3 L209.2 428.7 L212.2 429.0 L215.2 429.2 L218.2 429.5 L221.1 429.7 L224.1 430.0 L227.1 430.2 L230.1 430.7 L230.1 430.7 L227.1 431.8 L224.1 432.7 L221.1 433.5 L218.2 434.1 L215.2 434.7 L212.2 435.1 L209.2 435.4 L206.3 435.5 L203.3 435.5 L200.3 435.4 L197.3 435.2 L194.3 434.8 L191.4 434.4 L188.4 433.8 L185.4 433.2 L182.4 432.6 L179.5 431.9 L176.5 431.2 L173.5 430.6 L170.5 429.9 L167.6 429.3 L164.6 428.6 L161.6 428.0 L158.6 427.3 Z" fill="#fea24e" fill-opacity="0.48"/>
    <path d="M258.6 441.0 L262.5 439.9 L266.4 438.8 L270.3 437.8 L274.2 436.8 L278.1 436.0 L282.0 435.3 L286.0 434.7 L289.9 434.2 L293.8 433.9 L297.7 433.8 L301.6 433.8 L305.5 433.9 L309.4 434.1 L313.3 434.5 L317.2 434.9 L321.1 435.3 L325.0 435.8 L328.9 436.3 L332.8 436.8 L336.7 437.2 L340.6 437.5 L344.5 437.8 L348.5 438.0 L352.4 438.1 L352.4 438.1 L348.5 438.8 L344.5 439.2 L340.6 439.4 L336.7 439.5 L332.8 439.5 L328.9 439.4 L325.0 439.2 L321.1 439.0 L317.2 438.7 L313.3 438.4 L309.4 438.2 L305.5 438.0 L301.6 437.8 L297.7 437.8 L293.8 437.8 L289.9 437.9 L286.0 438.1 L282.0 438.4 L278.1 438.7 L274.2 439.2 L270.3 439.7 L266.4 440.2 L262.5 440.7 L258.6 441.0 Z" fill="#ee7a1e" fill-opacity="0.74"/>
    <path d="M229.2 435.4 L231.6 435.0 L234.0 434.6 L236.3 434.2 L238.7 433.7 L241.1 433.2 L243.4 432.6 L245.8 432.0 L248.2 431.4 L250.5 430.8 L252.9 430.2 L255.3 429.6 L257.7 429.1 L260.0 428.7 L262.4 428.3 L264.8 428.1 L267.1 428.0 L269.5 428.0 L271.9 428.1 L274.2 428.4 L276.6 428.8 L279.0 429.4 L281.4 430.0 L283.7 430.8 L286.1 431.7 L286.1 431.7 L283.7 431.9 L281.4 432.0 L279.0 432.2 L276.6 432.3 L274.2 432.5 L271.9 432.7 L269.5 433.0 L267.1 433.4 L264.8 433.8 L262.4 434.2 L260.0 434.7 L257.7 435.1 L255.3 435.6 L252.9 436.1 L250.5 436.5 L248.2 436.8 L245.8 437.1 L243.4 437.2 L241.1 437.3 L238.7 437.2 L236.3 437.0 L234.0 436.7 L231.6 436.2 L229.2 435.4 Z" fill="#fea24e" fill-opacity="0.37"/>
    <path d="M215.7 422.1 L219.3 421.7 L222.8 421.4 L226.4 421.1 L230.0 420.9 L233.6 420.6 L237.2 420.3 L240.8 420.0 L244.4 419.7 L247.9 419.4 L251.5 419.2 L255.1 419.0 L258.7 418.9 L262.3 418.9 L265.9 419.0 L269.5 419.2 L273.0 419.5 L276.6 419.9 L280.2 420.5 L283.8 421.1 L287.4 421.9 L291.0 422.8 L294.6 423.8 L298.1 425.0 L301.7 426.3 L301.7 426.3 L298.1 426.5 L294.6 426.6 L291.0 426.5 L287.4 426.5 L283.8 426.5 L280.2 426.5 L276.6 426.6 L273.0 426.6 L269.5 426.7 L265.9 426.8 L262.3 426.8 L258.7 426.9 L255.1 426.9 L251.5 427.0 L247.9 426.9 L244.4 426.8 L240.8 426.6 L237.2 426.3 L233.6 426.0 L230.0 425.5 L226.4 424.9 L222.8 424.1 L219.3 423.2 L215.7 422.1 Z" fill="#ee7a1e" fill-opacity="0.52"/>
    <path d="M189.9 429.8 L193.6 428.7 L197.3 427.8 L201.1 426.9 L204.8 426.1 L208.5 425.5 L212.2 425.0 L215.9 424.6 L219.6 424.4 L223.4 424.4 L227.1 424.5 L230.8 424.8 L234.5 425.3 L238.2 425.8 L241.9 426.5 L245.6 427.2 L249.4 428.0 L253.1 428.8 L256.8 429.5 L260.5 430.2 L264.2 430.9 L267.9 431.4 L271.7 431.9 L275.4 432.2 L279.1 432.5 L279.1 432.5 L275.4 433.0 L271.7 433.2 L267.9 433.2 L264.2 433.1 L260.5 432.8 L256.8 432.4 L253.1 431.9 L249.4 431.4 L245.6 430.8 L241.9 430.2 L238.2 429.6 L234.5 429.1 L230.8 428.6 L227.1 428.2 L223.4 428.0 L219.6 427.8 L215.9 427.8 L212.2 427.9 L208.5 428.0 L204.8 428.3 L201.1 428.7 L197.3 429.1 L193.6 429.5 L189.9 429.8 Z" fill="#fea24e" fill-opacity="0.55"/>
    <path d="M163.7 429.6 L165.9 428.5 L168.1 427.5 L170.4 426.5 L172.6 425.7 L174.8 425.0 L177.0 424.5 L179.2 424.1 L181.5 423.9 L183.7 423.9 L185.9 424.2 L188.1 424.6 L190.4 425.2 L192.6 426.0 L194.8 426.9 L197.0 427.9 L199.2 429.0 L201.5 430.2 L203.7 431.4 L205.9 432.5 L208.1 433.7 L210.4 434.7 L212.6 435.7 L214.8 436.5 L217.0 437.4 L217.0 437.4 L214.8 437.7 L212.6 437.7 L210.4 437.5 L208.1 437.2 L205.9 436.7 L203.7 436.0 L201.5 435.3 L199.2 434.5 L197.0 433.7 L194.8 432.8 L192.6 432.1 L190.4 431.3 L188.1 430.7 L185.9 430.1 L183.7 429.7 L181.5 429.4 L179.2 429.2 L177.0 429.1 L174.8 429.1 L172.6 429.2 L170.4 429.4 L168.1 429.5 L165.9 429.7 L163.7 429.6 Z" fill="#ee7a1e" fill-opacity="0.52"/>
  </g>
</g>
<g clip-path="url(#cL3)">
  <rect x="139.5" y="465.0" width="186.7" height="33.0" fill="#fc8c2e"/>
  <path d="M216.2 467.2 L219.3 466.5 L222.3 465.9 L225.4 465.5 L228.5 465.2 L231.5 465.1 L234.6 465.0 L237.7 465.1 L240.8 465.3 L243.8 465.5 L246.9 465.9 L250.0 466.3 L253.0 466.7 L256.1 467.1 L259.2 467.5 L262.2 467.9 L265.3 468.2 L268.4 468.5 L271.4 468.7 L274.5 468.8 L277.6 468.8 L280.6 468.8 L283.7 468.6 L286.8 468.5 L289.8 468.4 L289.8 468.4 L286.8 469.2 L283.7 469.9 L280.6 470.5 L277.6 471.0 L274.5 471.3 L271.4 471.5 L268.4 471.6 L265.3 471.6 L262.2 471.4 L259.2 471.2 L256.1 470.8 L253.0 470.4 L250.0 470.0 L246.9 469.5 L243.8 469.1 L240.8 468.6 L237.7 468.2 L234.6 467.9 L231.5 467.6 L228.5 467.4 L225.4 467.2 L222.3 467.2 L219.3 467.2 L216.2 467.2 Z" fill="#ee7a1e" fill-opacity="0.51"/>
  <path d="M171.5 471.1 L175.6 469.5 L179.6 468.1 L183.7 466.7 L187.7 465.4 L191.8 464.2 L195.8 463.2 L199.8 462.3 L203.9 461.6 L207.9 461.0 L212.0 460.7 L216.0 460.5 L220.1 460.5 L224.1 460.7 L228.1 461.0 L232.2 461.4 L236.2 462.0 L240.3 462.6 L244.3 463.2 L248.4 463.8 L252.4 464.4 L256.4 464.9 L260.5 465.4 L264.5 465.8 L268.6 466.2 L268.6 466.2 L264.5 467.0 L260.5 467.4 L256.4 467.7 L252.4 467.8 L248.4 467.8 L244.3 467.7 L240.3 467.5 L236.2 467.3 L232.2 467.0 L228.1 466.8 L224.1 466.6 L220.1 466.4 L216.0 466.4 L212.0 466.4 L207.9 466.6 L203.9 466.9 L199.8 467.2 L195.8 467.7 L191.8 468.2 L187.7 468.8 L183.7 469.5 L179.6 470.1 L175.6 470.7 L171.5 471.1 Z" fill="#fea24e" fill-opacity="0.37"/>
  <path d="M282.6 486.5 L285.0 484.5 L287.3 482.6 L289.7 481.0 L292.1 479.5 L294.5 478.1 L296.9 477.1 L299.3 476.2 L301.7 475.6 L304.1 475.2 L306.5 475.1 L308.8 475.3 L311.2 475.6 L313.6 476.2 L316.0 476.8 L318.4 477.6 L320.8 478.5 L323.2 479.4 L325.6 480.3 L328.0 481.1 L330.3 481.8 L332.7 482.5 L335.1 483.0 L337.5 483.4 L339.9 483.8 L339.9 483.8 L337.5 485.1 L335.1 486.0 L332.7 486.6 L330.3 487.0 L328.0 487.1 L325.6 487.0 L323.2 486.8 L320.8 486.5 L318.4 486.0 L316.0 485.5 L313.6 485.0 L311.2 484.6 L308.8 484.2 L306.5 483.9 L304.1 483.7 L301.7 483.6 L299.3 483.6 L296.9 483.8 L294.5 484.2 L292.1 484.6 L289.7 485.1 L287.3 485.7 L285.0 486.2 L282.6 486.5 Z" fill="#ee7a1e" fill-opacity="0.47"/>
  <path d="M294.1 483.0 L298.2 483.2 L302.2 483.7 L306.2 484.4 L310.3 485.2 L314.3 486.1 L318.3 487.0 L322.4 487.9 L326.4 488.7 L330.4 489.5 L334.5 490.2 L338.5 490.7 L342.5 491.0 L346.6 491.2 L350.6 491.2 L354.6 491.1 L358.7 490.8 L362.7 490.5 L366.8 490.1 L370.8 489.6 L374.8 489.2 L378.9 488.8 L382.9 488.5 L386.9 488.4 L391.0 488.7 L391.0 488.7 L386.9 489.9 L382.9 491.1 L378.9 492.3 L374.8 493.5 L370.8 494.6 L366.8 495.7 L362.7 496.7 L358.7 497.5 L354.6 498.1 L350.6 498.5 L346.6 498.6 L342.5 498.5 L338.5 498.1 L334.5 497.4 L330.4 496.5 L326.4 495.4 L322.4 494.1 L318.3 492.6 L314.3 491.1 L310.3 489.5 L306.2 487.8 L302.2 486.2 L298.2 484.6 L294.1 483.0 Z" fill="#fea24e" fill-opacity="0.38"/>
  <path d="M221.7 477.1 L225.2 477.2 L228.7 477.5 L232.3 477.9 L235.8 478.4 L239.3 478.9 L242.8 479.4 L246.3 479.9 L249.8 480.4 L253.4 480.8 L256.9 481.1 L260.4 481.3 L263.9 481.5 L267.4 481.6 L270.9 481.6 L274.4 481.5 L278.0 481.4 L281.5 481.3 L285.0 481.2 L288.5 481.2 L292.0 481.2 L295.5 481.3 L299.1 481.6 L302.6 482.0 L306.1 482.8 L306.1 482.8 L302.6 483.6 L299.1 484.4 L295.5 485.1 L292.0 485.9 L288.5 486.7 L285.0 487.4 L281.5 488.1 L278.0 488.7 L274.4 489.2 L270.9 489.5 L267.4 489.7 L263.9 489.7 L260.4 489.5 L256.9 489.1 L253.4 488.5 L249.8 487.7 L246.3 486.8 L242.8 485.7 L239.3 484.4 L235.8 483.1 L232.3 481.7 L228.7 480.3 L225.2 478.8 L221.7 477.1 Z" fill="#ee7a1e" fill-opacity="0.60"/>
  <path d="M146.5 496.1 L150.2 495.6 L153.9 495.2 L157.5 494.8 L161.2 494.3 L164.9 493.9 L168.6 493.5 L172.3 493.0 L176.0 492.7 L179.6 492.3 L183.3 492.1 L187.0 491.9 L190.7 491.8 L194.4 491.8 L198.1 491.9 L201.8 492.1 L205.4 492.5 L209.1 493.0 L212.8 493.6 L216.5 494.3 L220.2 495.1 L223.9 496.0 L227.5 497.0 L231.2 498.0 L234.9 499.3 L234.9 499.3 L231.2 499.5 L227.5 499.5 L223.9 499.4 L220.2 499.3 L216.5 499.2 L212.8 499.1 L209.1 499.1 L205.4 499.0 L201.8 499.0 L198.1 499.0 L194.4 499.0 L190.7 499.1 L187.0 499.1 L183.3 499.2 L179.6 499.2 L176.0 499.2 L172.3 499.1 L168.6 499.0 L164.9 498.8 L161.2 498.5 L157.5 498.1 L153.9 497.6 L150.2 497.0 L146.5 496.1 Z" fill="#fea24e" fill-opacity="0.57"/>
  <path d="M119.6 471.8 L123.8 470.6 L128.0 469.4 L132.2 468.1 L136.3 466.8 L140.5 465.5 L144.7 464.3 L148.9 463.1 L153.1 462.0 L157.3 461.2 L161.5 460.4 L165.7 459.9 L169.9 459.6 L174.1 459.6 L178.3 459.7 L182.4 460.1 L186.6 460.6 L190.8 461.3 L195.0 462.1 L199.2 463.0 L203.4 464.0 L207.6 465.0 L211.8 465.9 L216.0 466.8 L220.2 467.7 L220.2 467.7 L216.0 467.8 L211.8 467.5 L207.6 467.2 L203.4 466.8 L199.2 466.3 L195.0 465.8 L190.8 465.3 L186.6 464.9 L182.4 464.6 L178.3 464.4 L174.1 464.4 L169.9 464.5 L165.7 464.7 L161.5 465.1 L157.3 465.7 L153.1 466.4 L148.9 467.1 L144.7 467.9 L140.5 468.7 L136.3 469.6 L132.2 470.3 L128.0 471.0 L123.8 471.5 L119.6 471.8 Z" fill="#ee7a1e" fill-opacity="0.53"/>
  <defs><clipPath id="sL3"><path d="M130 460 L156.3 460 Q158.6 474 157.8 481 Q157 489 157.2 500 L130 500 Z"/></clipPath></defs>
  <g clip-path="url(#sL3)"><rect x="139.5" y="465.0" width="186.7" height="33.0" fill="#5aee4e"/>
    <path d="M147.3 488.7 L149.6 488.2 L151.9 487.8 L154.2 487.5 L156.4 487.4 L158.7 487.4 L161.0 487.5 L163.3 487.7 L165.6 488.0 L167.8 488.4 L170.1 488.8 L172.4 489.4 L174.7 490.0 L176.9 490.6 L179.2 491.3 L181.5 492.0 L183.8 492.6 L186.1 493.3 L188.3 493.9 L190.6 494.5 L192.9 495.1 L195.2 495.6 L197.4 496.0 L199.7 496.5 L202.0 497.1 L202.0 497.1 L199.7 497.7 L197.4 498.1 L195.2 498.3 L192.9 498.5 L190.6 498.5 L188.3 498.4 L186.1 498.2 L183.8 497.9 L181.5 497.5 L179.2 497.1 L176.9 496.5 L174.7 495.9 L172.4 495.3 L170.1 494.6 L167.8 493.9 L165.6 493.2 L163.3 492.6 L161.0 492.0 L158.7 491.4 L156.4 490.8 L154.2 490.3 L151.9 489.8 L149.6 489.3 L147.3 488.7 Z" fill="#40cc3a" fill-opacity="0.74"/>
    <path d="M176.8 479.9 L179.6 479.8 L182.5 480.1 L185.4 480.5 L188.2 481.0 L191.1 481.6 L193.9 482.2 L196.8 482.8 L199.7 483.4 L202.5 483.8 L205.4 484.1 L208.3 484.3 L211.1 484.3 L214.0 484.1 L216.9 483.7 L219.7 483.2 L222.6 482.5 L225.5 481.7 L228.3 480.8 L231.2 479.8 L234.0 478.9 L236.9 478.0 L239.8 477.2 L242.6 476.5 L245.5 476.1 L245.5 476.1 L242.6 477.6 L239.8 479.0 L236.9 480.5 L234.0 482.0 L231.2 483.5 L228.3 484.9 L225.5 486.2 L222.6 487.4 L219.7 488.3 L216.9 489.0 L214.0 489.5 L211.1 489.7 L208.3 489.7 L205.4 489.5 L202.5 488.9 L199.7 488.2 L196.8 487.4 L193.9 486.4 L191.1 485.3 L188.2 484.1 L185.4 483.0 L182.5 481.9 L179.6 480.9 L176.8 479.9 Z" fill="#7cf66e" fill-opacity="0.56"/>
    <path d="M147.9 480.0 L152.7 479.3 L157.4 478.9 L162.2 478.7 L166.9 478.7 L171.7 478.9 L176.4 479.3 L181.2 479.7 L185.9 480.3 L190.7 480.9 L195.4 481.4 L200.2 482.0 L204.9 482.4 L209.7 482.7 L214.4 482.9 L219.2 482.9 L223.9 482.7 L228.6 482.4 L233.4 481.9 L238.1 481.2 L242.9 480.4 L247.6 479.5 L252.4 478.6 L257.1 477.6 L261.9 476.7 L261.9 476.7 L257.1 478.4 L252.4 479.9 L247.6 481.4 L242.9 482.7 L238.1 483.9 L233.4 484.9 L228.6 485.7 L223.9 486.2 L219.2 486.6 L214.4 486.7 L209.7 486.6 L204.9 486.3 L200.2 485.8 L195.4 485.2 L190.7 484.5 L185.9 483.8 L181.2 483.0 L176.4 482.2 L171.7 481.5 L166.9 480.9 L162.2 480.5 L157.4 480.2 L152.7 480.0 L147.9 480.0 Z" fill="#40cc3a" fill-opacity="0.52"/>
    <path d="M282.9 494.4 L285.1 492.9 L287.2 491.4 L289.3 489.9 L291.5 488.4 L293.6 487.0 L295.8 485.8 L297.9 484.7 L300.0 483.7 L302.2 483.0 L304.3 482.5 L306.5 482.3 L308.6 482.3 L310.7 482.5 L312.9 482.9 L315.0 483.6 L317.2 484.4 L319.3 485.3 L321.5 486.3 L323.6 487.4 L325.7 488.5 L327.9 489.5 L330.0 490.4 L332.2 491.3 L334.3 492.1 L334.3 492.1 L332.2 492.4 L330.0 492.4 L327.9 492.2 L325.7 491.8 L323.6 491.3 L321.5 490.7 L319.3 490.1 L317.2 489.6 L315.0 489.0 L312.9 488.6 L310.7 488.3 L308.6 488.1 L306.5 488.0 L304.3 488.2 L302.2 488.5 L300.0 488.9 L297.9 489.5 L295.8 490.2 L293.6 491.0 L291.5 491.8 L289.3 492.6 L287.2 493.3 L285.1 494.0 L282.9 494.4 Z" fill="#7cf66e" fill-opacity="0.49"/>
    <path d="M278.5 470.5 L281.9 469.6 L285.2 468.7 L288.5 467.9 L291.8 467.0 L295.2 466.2 L298.5 465.4 L301.8 464.7 L305.1 464.1 L308.5 463.6 L311.8 463.3 L315.1 463.1 L318.4 463.1 L321.8 463.3 L325.1 463.6 L328.4 464.1 L331.7 464.7 L335.1 465.3 L338.4 466.1 L341.7 466.9 L345.0 467.8 L348.4 468.6 L351.7 469.4 L355.0 470.1 L358.3 470.8 L358.3 470.8 L355.0 470.8 L351.7 470.6 L348.4 470.3 L345.0 469.8 L341.7 469.4 L338.4 468.9 L335.1 468.4 L331.7 467.9 L328.4 467.5 L325.1 467.1 L321.8 466.9 L318.4 466.7 L315.1 466.7 L311.8 466.8 L308.5 467.0 L305.1 467.3 L301.8 467.7 L298.5 468.1 L295.2 468.6 L291.8 469.1 L288.5 469.6 L285.2 470.0 L281.9 470.3 L278.5 470.5 Z" fill="#40cc3a" fill-opacity="0.52"/>
    <path d="M233.4 493.6 L235.6 492.4 L237.8 491.2 L240.0 490.0 L242.2 488.8 L244.4 487.6 L246.6 486.6 L248.8 485.6 L251.0 484.8 L253.2 484.3 L255.4 483.9 L257.6 483.7 L259.8 483.8 L262.0 484.1 L264.2 484.7 L266.4 485.4 L268.6 486.2 L270.8 487.2 L273.0 488.3 L275.2 489.4 L277.4 490.4 L279.6 491.5 L281.8 492.5 L284.0 493.3 L286.2 494.1 L286.2 494.1 L284.0 494.0 L281.8 493.6 L279.6 493.1 L277.4 492.5 L275.2 491.7 L273.0 490.9 L270.8 490.1 L268.6 489.4 L266.4 488.7 L264.2 488.1 L262.0 487.6 L259.8 487.4 L257.6 487.3 L255.4 487.3 L253.2 487.6 L251.0 488.0 L248.8 488.6 L246.6 489.2 L244.4 490.0 L242.2 490.8 L240.0 491.7 L237.8 492.4 L235.6 493.1 L233.4 493.6 Z" fill="#7cf66e" fill-opacity="0.36"/>
    <path d="M223.7 474.4 L228.1 474.2 L232.5 474.0 L236.9 473.7 L241.3 473.3 L245.7 472.8 L250.1 472.1 L254.5 471.4 L258.9 470.5 L263.3 469.5 L267.7 468.4 L272.2 467.3 L276.6 466.2 L281.0 465.2 L285.4 464.2 L289.8 463.3 L294.2 462.6 L298.6 462.0 L303.0 461.6 L307.4 461.3 L311.8 461.3 L316.2 461.5 L320.6 461.8 L325.0 462.4 L329.4 463.2 L329.4 463.2 L325.0 463.4 L320.6 463.6 L316.2 463.9 L311.8 464.3 L307.4 464.9 L303.0 465.5 L298.6 466.3 L294.2 467.3 L289.8 468.3 L285.4 469.3 L281.0 470.4 L276.6 471.5 L272.2 472.5 L267.7 473.5 L263.3 474.4 L258.9 475.1 L254.5 475.7 L250.1 476.1 L245.7 476.3 L241.3 476.3 L236.9 476.2 L232.5 475.8 L228.1 475.2 L223.7 474.4 Z" fill="#40cc3a" fill-opacity="0.74"/>
  </g>
</g>
<g clip-path="url(#cR1)">
  <rect x="415.7" y="365.0" width="187.1" height="32.5" fill="#5aee4e"/>
  <path d="M481.6 389.5 L485.7 388.6 L489.7 388.0 L493.7 387.5 L497.8 387.1 L501.8 386.8 L505.8 386.7 L509.9 386.6 L513.9 386.7 L517.9 386.8 L522.0 386.9 L526.0 387.1 L530.0 387.3 L534.1 387.5 L538.1 387.7 L542.1 387.8 L546.2 387.9 L550.2 388.0 L554.3 388.0 L558.3 387.9 L562.3 387.8 L566.4 387.6 L570.4 387.5 L574.4 387.3 L578.5 387.2 L578.5 387.2 L574.4 388.3 L570.4 389.3 L566.4 390.2 L562.3 390.9 L558.3 391.5 L554.3 392.1 L550.2 392.5 L546.2 392.8 L542.1 392.9 L538.1 392.9 L534.1 392.9 L530.0 392.7 L526.0 392.5 L522.0 392.2 L517.9 391.8 L513.9 391.5 L509.9 391.1 L505.8 390.8 L501.8 390.5 L497.8 390.2 L493.7 390.0 L489.7 389.8 L485.7 389.7 L481.6 389.5 Z" fill="#40cc3a" fill-opacity="0.66"/>
  <path d="M545.2 376.4 L547.5 376.2 L549.8 376.2 L552.0 376.3 L554.3 376.3 L556.5 376.4 L558.8 376.4 L561.0 376.3 L563.3 376.2 L565.5 376.0 L567.8 375.7 L570.1 375.4 L572.3 374.9 L574.6 374.4 L576.8 373.8 L579.1 373.2 L581.3 372.6 L583.6 372.0 L585.9 371.4 L588.1 370.8 L590.4 370.4 L592.6 370.0 L594.9 369.7 L597.1 369.6 L599.4 369.7 L599.4 369.7 L597.1 370.5 L594.9 371.3 L592.6 372.1 L590.4 373.0 L588.1 373.9 L585.9 374.9 L583.6 375.8 L581.3 376.7 L579.1 377.5 L576.8 378.3 L574.6 379.0 L572.3 379.5 L570.1 379.9 L567.8 380.2 L565.5 380.3 L563.3 380.3 L561.0 380.2 L558.8 379.9 L556.5 379.5 L554.3 379.0 L552.0 378.4 L549.8 377.8 L547.5 377.1 L545.2 376.4 Z" fill="#7cf66e" fill-opacity="0.45"/>
  <path d="M423.1 366.1 L425.7 365.0 L428.2 364.2 L430.7 363.7 L433.2 363.4 L435.7 363.3 L438.3 363.4 L440.8 363.6 L443.3 364.0 L445.8 364.4 L448.3 364.9 L450.9 365.4 L453.4 365.9 L455.9 366.3 L458.4 366.6 L460.9 366.9 L463.5 366.9 L466.0 366.8 L468.5 366.6 L471.0 366.2 L473.5 365.7 L476.0 365.1 L478.6 364.4 L481.1 363.6 L483.6 363.0 L483.6 363.0 L481.1 364.7 L478.6 366.2 L476.0 367.6 L473.5 368.8 L471.0 369.8 L468.5 370.7 L466.0 371.3 L463.5 371.7 L460.9 371.9 L458.4 371.9 L455.9 371.7 L453.4 371.3 L450.9 370.8 L448.3 370.2 L445.8 369.5 L443.3 368.8 L440.8 368.1 L438.3 367.5 L435.7 366.9 L433.2 366.5 L430.7 366.2 L428.2 366.0 L425.7 366.0 L423.1 366.1 Z" fill="#40cc3a" fill-opacity="0.68"/>
  <path d="M559.2 387.5 L562.0 386.3 L564.9 385.2 L567.7 384.1 L570.5 383.0 L573.3 381.9 L576.2 380.9 L579.0 379.9 L581.8 379.1 L584.6 378.4 L587.5 377.8 L590.3 377.4 L593.1 377.1 L596.0 377.0 L598.8 377.0 L601.6 377.2 L604.4 377.5 L607.3 377.9 L610.1 378.3 L612.9 378.9 L615.7 379.4 L618.6 380.0 L621.4 380.6 L624.2 381.2 L627.0 381.8 L627.0 381.8 L624.2 382.4 L621.4 382.7 L618.6 382.8 L615.7 382.9 L612.9 382.9 L610.1 382.9 L607.3 382.9 L604.4 382.8 L601.6 382.9 L598.8 382.9 L596.0 383.0 L593.1 383.2 L590.3 383.4 L587.5 383.7 L584.6 384.1 L581.8 384.5 L579.0 385.0 L576.2 385.4 L573.3 385.9 L570.5 386.4 L567.7 386.9 L564.9 387.2 L562.0 387.5 L559.2 387.5 Z" fill="#7cf66e" fill-opacity="0.51"/>
  <path d="M455.9 385.4 L459.1 384.6 L462.2 384.1 L465.4 383.9 L468.5 383.9 L471.7 384.0 L474.8 384.3 L478.0 384.7 L481.1 385.2 L484.3 385.7 L487.4 386.2 L490.6 386.7 L493.7 387.2 L496.9 387.5 L500.0 387.8 L503.2 388.0 L506.3 388.0 L509.5 388.0 L512.6 387.8 L515.8 387.5 L518.9 387.2 L522.1 386.9 L525.2 386.5 L528.4 386.2 L531.5 386.1 L531.5 386.1 L528.4 387.9 L525.2 389.4 L522.1 390.8 L518.9 392.1 L515.8 393.2 L512.6 394.2 L509.5 395.0 L506.3 395.6 L503.2 395.9 L500.0 396.1 L496.9 396.0 L493.7 395.6 L490.6 395.1 L487.4 394.5 L484.3 393.6 L481.1 392.7 L478.0 391.7 L474.8 390.7 L471.7 389.7 L468.5 388.7 L465.4 387.8 L462.2 387.0 L459.1 386.2 L455.9 385.4 Z" fill="#40cc3a" fill-opacity="0.52"/>
  <path d="M433.7 373.7 L438.0 373.6 L442.3 373.7 L446.5 373.8 L450.8 374.0 L455.1 374.2 L459.4 374.4 L463.7 374.6 L468.0 374.7 L472.3 374.7 L476.6 374.7 L480.9 374.6 L485.1 374.4 L489.4 374.1 L493.7 373.9 L498.0 373.5 L502.3 373.2 L506.6 372.9 L510.9 372.5 L515.2 372.3 L519.4 372.1 L523.7 372.0 L528.0 372.0 L532.3 372.2 L536.6 372.6 L536.6 372.6 L532.3 373.4 L528.0 374.1 L523.7 374.9 L519.4 375.7 L515.2 376.5 L510.9 377.3 L506.6 378.0 L502.3 378.8 L498.0 379.4 L493.7 379.9 L489.4 380.3 L485.1 380.6 L480.9 380.8 L476.6 380.7 L472.3 380.6 L468.0 380.2 L463.7 379.7 L459.4 379.1 L455.1 378.4 L450.8 377.6 L446.5 376.7 L442.3 375.8 L438.0 374.8 L433.7 373.7 Z" fill="#7cf66e" fill-opacity="0.40"/>
  <path d="M555.6 372.4 L557.8 371.9 L559.9 371.7 L562.0 371.6 L564.2 371.7 L566.3 371.9 L568.5 372.2 L570.6 372.6 L572.7 373.0 L574.9 373.3 L577.0 373.7 L579.1 374.1 L581.3 374.4 L583.4 374.6 L585.6 374.8 L587.7 374.9 L589.8 375.0 L592.0 375.1 L594.1 375.1 L596.2 375.1 L598.4 375.0 L600.5 375.1 L602.7 375.2 L604.8 375.3 L606.9 375.8 L606.9 375.8 L604.8 377.1 L602.7 378.2 L600.5 379.2 L598.4 380.2 L596.2 381.0 L594.1 381.8 L592.0 382.5 L589.8 383.0 L587.7 383.3 L585.6 383.5 L583.4 383.5 L581.3 383.3 L579.1 382.9 L577.0 382.4 L574.9 381.7 L572.7 380.9 L570.6 380.0 L568.5 379.0 L566.3 377.9 L564.2 376.8 L562.0 375.8 L559.9 374.7 L557.8 373.6 L555.6 372.4 Z" fill="#40cc3a" fill-opacity="0.61"/>
  <defs><clipPath id="sR1"><path d="M559 360 L610 360 L610 400 L557 400 Q556 390 556.6 384 Q553.6 379 555.4 376.5 Q558.4 372 559 360 Z"/></clipPath></defs>
  <g clip-path="url(#sR1)"><rect x="415.7" y="365.0" width="187.1" height="32.5" fill="#fc8c2e"/>
    <path d="M461.3 390.0 L466.2 389.6 L471.2 389.3 L476.1 388.8 L481.1 388.2 L486.0 387.5 L491.0 386.6 L495.9 385.7 L500.8 384.7 L505.8 383.6 L510.7 382.6 L515.7 381.5 L520.6 380.5 L525.6 379.6 L530.5 378.8 L535.5 378.1 L540.4 377.5 L545.4 377.1 L550.3 376.9 L555.3 376.9 L560.2 377.0 L565.2 377.3 L570.1 377.8 L575.1 378.4 L580.0 379.1 L580.0 379.1 L575.1 379.1 L570.1 379.1 L565.2 379.1 L560.2 379.2 L555.3 379.4 L550.3 379.8 L545.4 380.3 L540.4 380.9 L535.5 381.6 L530.5 382.4 L525.6 383.3 L520.6 384.3 L515.7 385.3 L510.7 386.2 L505.8 387.2 L500.8 388.0 L495.9 388.8 L491.0 389.5 L486.0 390.0 L481.1 390.4 L476.1 390.5 L471.2 390.6 L466.2 390.4 L461.3 390.0 Z" fill="#ee7a1e" fill-opacity="0.70"/>
    <path d="M570.9 387.0 L574.5 386.2 L578.1 385.5 L581.7 384.8 L585.3 384.0 L588.9 383.2 L592.5 382.4 L596.1 381.7 L599.7 380.9 L603.3 380.3 L606.9 379.7 L610.5 379.1 L614.1 378.7 L617.7 378.4 L621.3 378.1 L624.9 378.0 L628.6 378.0 L632.2 378.1 L635.8 378.2 L639.4 378.5 L643.0 378.8 L646.6 379.1 L650.2 379.5 L653.8 379.9 L657.4 380.4 L657.4 380.4 L653.8 380.6 L650.2 380.8 L646.6 380.9 L643.0 381.0 L639.4 381.1 L635.8 381.2 L632.2 381.3 L628.6 381.4 L624.9 381.7 L621.3 381.9 L617.7 382.2 L614.1 382.6 L610.5 383.0 L606.9 383.4 L603.3 383.9 L599.7 384.4 L596.1 384.9 L592.5 385.4 L588.9 385.8 L585.3 386.2 L581.7 386.6 L578.1 386.8 L574.5 387.0 L570.9 387.0 Z" fill="#fea24e" fill-opacity="0.54"/>
    <path d="M417.5 368.4 L420.9 367.1 L424.3 366.0 L427.8 365.0 L431.2 364.1 L434.7 363.4 L438.1 362.8 L441.6 362.3 L445.0 362.0 L448.5 361.8 L451.9 361.8 L455.3 361.9 L458.8 362.1 L462.2 362.4 L465.7 362.8 L469.1 363.2 L472.6 363.7 L476.0 364.2 L479.5 364.6 L482.9 365.1 L486.3 365.4 L489.8 365.7 L493.2 365.9 L496.7 366.0 L500.1 366.2 L500.1 366.2 L496.7 367.0 L493.2 367.6 L489.8 368.1 L486.3 368.3 L482.9 368.5 L479.5 368.5 L476.0 368.4 L472.6 368.3 L469.1 368.0 L465.7 367.8 L462.2 367.5 L458.8 367.2 L455.3 366.9 L451.9 366.7 L448.5 366.6 L445.0 366.5 L441.6 366.5 L438.1 366.6 L434.7 366.8 L431.2 367.1 L427.8 367.4 L424.3 367.7 L420.9 368.1 L417.5 368.4 Z" fill="#ee7a1e" fill-opacity="0.62"/>
    <path d="M499.8 379.4 L502.3 378.7 L504.9 378.3 L507.4 378.1 L510.0 378.1 L512.5 378.2 L515.1 378.3 L517.6 378.5 L520.2 378.7 L522.7 378.9 L525.3 379.0 L527.8 379.1 L530.4 379.1 L532.9 379.0 L535.5 378.7 L538.1 378.4 L540.6 377.9 L543.2 377.4 L545.7 376.9 L548.3 376.2 L550.8 375.6 L553.4 375.0 L555.9 374.5 L558.5 374.2 L561.0 374.1 L561.0 374.1 L558.5 375.9 L555.9 377.5 L553.4 379.1 L550.8 380.6 L548.3 382.1 L545.7 383.4 L543.2 384.6 L540.6 385.7 L538.1 386.5 L535.5 387.1 L532.9 387.6 L530.4 387.7 L527.8 387.7 L525.3 387.5 L522.7 387.0 L520.2 386.4 L517.6 385.7 L515.1 384.9 L512.5 384.0 L510.0 383.1 L507.4 382.1 L504.9 381.2 L502.3 380.4 L499.8 379.4 Z" fill="#fea24e" fill-opacity="0.57"/>
    <path d="M497.2 387.4 L502.0 387.3 L506.9 387.4 L511.7 387.4 L516.5 387.4 L521.4 387.4 L526.2 387.4 L531.0 387.3 L535.9 387.2 L540.7 387.0 L545.5 386.8 L550.4 386.6 L555.2 386.3 L560.1 386.1 L564.9 385.9 L569.7 385.8 L574.6 385.7 L579.4 385.6 L584.2 385.7 L589.1 385.8 L593.9 386.0 L598.7 386.3 L603.6 386.8 L608.4 387.3 L613.3 388.1 L613.3 388.1 L608.4 388.3 L603.6 388.4 L598.7 388.6 L593.9 388.8 L589.1 389.1 L584.2 389.4 L579.4 389.7 L574.6 390.0 L569.7 390.4 L564.9 390.7 L560.1 391.0 L555.2 391.2 L550.4 391.4 L545.5 391.6 L540.7 391.6 L535.9 391.5 L531.0 391.4 L526.2 391.1 L521.4 390.7 L516.5 390.3 L511.7 389.7 L506.9 389.0 L502.0 388.3 L497.2 387.4 Z" fill="#ee7a1e" fill-opacity="0.72"/>
    <path d="M554.9 379.8 L559.3 379.7 L563.8 379.7 L568.3 379.8 L572.8 379.9 L577.3 379.9 L581.7 379.9 L586.2 379.9 L590.7 379.7 L595.2 379.5 L599.7 379.2 L604.2 378.8 L608.6 378.4 L613.1 377.8 L617.6 377.2 L622.1 376.6 L626.6 375.9 L631.0 375.3 L635.5 374.7 L640.0 374.1 L644.5 373.6 L649.0 373.3 L653.5 373.1 L657.9 373.0 L662.4 373.1 L662.4 373.1 L657.9 373.9 L653.5 374.7 L649.0 375.5 L644.5 376.4 L640.0 377.3 L635.5 378.3 L631.0 379.3 L626.6 380.2 L622.1 381.1 L617.6 381.9 L613.1 382.6 L608.6 383.2 L604.2 383.6 L599.7 383.9 L595.2 384.1 L590.7 384.0 L586.2 383.9 L581.7 383.6 L577.3 383.2 L572.8 382.6 L568.3 382.0 L563.8 381.3 L559.3 380.6 L554.9 379.8 Z" fill="#fea24e" fill-opacity="0.57"/>
    <path d="M501.3 372.2 L504.9 371.9 L508.6 371.8 L512.3 371.8 L515.9 371.9 L519.6 372.1 L523.2 372.2 L526.9 372.4 L530.5 372.6 L534.2 372.8 L537.9 372.9 L541.5 373.0 L545.2 373.0 L548.8 372.9 L552.5 372.8 L556.1 372.5 L559.8 372.2 L563.5 371.9 L567.1 371.4 L570.8 371.0 L574.4 370.5 L578.1 370.1 L581.8 369.7 L585.4 369.3 L589.1 369.1 L589.1 369.1 L585.4 370.1 L581.8 370.9 L578.1 371.8 L574.4 372.7 L570.8 373.5 L567.1 374.2 L563.5 374.9 L559.8 375.5 L556.1 376.0 L552.5 376.3 L548.8 376.6 L545.2 376.7 L541.5 376.7 L537.9 376.5 L534.2 376.3 L530.5 375.9 L526.9 375.5 L523.2 375.0 L519.6 374.5 L515.9 374.0 L512.3 373.5 L508.6 373.0 L504.9 372.6 L501.3 372.2 Z" fill="#ee7a1e" fill-opacity="0.56"/>
  </g>
</g>
<g clip-path="url(#cR2)">
  <rect x="415.7" y="414.8" width="187.1" height="32.7" fill="#5aee4e"/>
  <path d="M544.9 417.9 L548.0 416.8 L551.2 416.0 L554.3 415.3 L557.4 414.8 L560.5 414.5 L563.7 414.3 L566.8 414.2 L569.9 414.3 L573.1 414.6 L576.2 414.9 L579.3 415.4 L582.4 416.0 L585.6 416.6 L588.7 417.3 L591.8 417.9 L594.9 418.6 L598.1 419.2 L601.2 419.8 L604.3 420.4 L607.5 420.9 L610.6 421.3 L613.7 421.6 L616.8 421.9 L620.0 422.4 L620.0 422.4 L616.8 423.3 L613.7 424.0 L610.6 424.5 L607.5 424.9 L604.3 425.1 L601.2 425.2 L598.1 425.1 L594.9 424.9 L591.8 424.5 L588.7 424.1 L585.6 423.6 L582.4 423.0 L579.3 422.4 L576.2 421.8 L573.1 421.2 L569.9 420.6 L566.8 420.1 L563.7 419.6 L560.5 419.2 L557.4 418.9 L554.3 418.6 L551.2 418.4 L548.0 418.2 L544.9 417.9 Z" fill="#40cc3a" fill-opacity="0.49"/>
  <path d="M544.7 424.6 L548.2 423.2 L551.7 422.1 L555.2 421.2 L558.7 420.4 L562.2 419.8 L565.7 419.5 L569.2 419.3 L572.7 419.4 L576.2 419.7 L579.6 420.3 L583.1 421.0 L586.6 421.8 L590.1 422.9 L593.6 424.0 L597.1 425.1 L600.6 426.2 L604.1 427.4 L607.6 428.4 L611.1 429.3 L614.6 430.1 L618.1 430.7 L621.6 431.2 L625.1 431.5 L628.6 431.8 L628.6 431.8 L625.1 432.5 L621.6 432.9 L618.1 433.0 L614.6 432.9 L611.1 432.6 L607.6 432.1 L604.1 431.4 L600.6 430.6 L597.1 429.7 L593.6 428.7 L590.1 427.7 L586.6 426.8 L583.1 425.8 L579.6 425.0 L576.2 424.3 L572.7 423.8 L569.2 423.4 L565.7 423.2 L562.2 423.1 L558.7 423.2 L555.2 423.5 L551.7 423.8 L548.2 424.2 L544.7 424.6 Z" fill="#7cf66e" fill-opacity="0.51"/>
  <path d="M468.4 423.4 L473.2 423.5 L477.9 423.7 L482.7 423.9 L487.4 423.9 L492.1 423.8 L496.9 423.6 L501.6 423.3 L506.4 422.8 L511.1 422.2 L515.8 421.6 L520.6 420.8 L525.3 420.1 L530.1 419.3 L534.8 418.5 L539.5 417.9 L544.3 417.3 L549.0 416.9 L553.8 416.7 L558.5 416.6 L563.2 416.8 L568.0 417.2 L572.7 417.8 L577.5 418.7 L582.2 419.9 L582.2 419.9 L577.5 420.2 L572.7 420.4 L568.0 420.7 L563.2 421.2 L558.5 421.7 L553.8 422.4 L549.0 423.2 L544.3 424.1 L539.5 425.0 L534.8 425.9 L530.1 426.8 L525.3 427.6 L520.6 428.4 L515.8 429.0 L511.1 429.4 L506.4 429.6 L501.6 429.6 L496.9 429.4 L492.1 428.9 L487.4 428.3 L482.7 427.4 L477.9 426.3 L473.2 425.0 L468.4 423.4 Z" fill="#40cc3a" fill-opacity="0.63"/>
  <path d="M500.0 416.4 L504.2 415.9 L508.5 415.6 L512.7 415.4 L516.9 415.3 L521.2 415.3 L525.4 415.2 L529.7 415.1 L533.9 415.1 L538.1 414.9 L542.4 414.7 L546.6 414.5 L550.8 414.2 L555.1 413.8 L559.3 413.4 L563.6 412.9 L567.8 412.4 L572.0 411.9 L576.3 411.4 L580.5 411.0 L584.8 410.6 L589.0 410.3 L593.2 410.2 L597.5 410.1 L601.7 410.4 L601.7 410.4 L597.5 411.6 L593.2 412.7 L589.0 413.9 L584.8 415.0 L580.5 416.1 L576.3 417.2 L572.0 418.3 L567.8 419.2 L563.6 420.1 L559.3 420.8 L555.1 421.4 L550.8 421.8 L546.6 422.0 L542.4 422.1 L538.1 422.1 L533.9 421.9 L529.7 421.5 L525.4 421.0 L521.2 420.4 L516.9 419.7 L512.7 419.0 L508.5 418.2 L504.2 417.4 L500.0 416.4 Z" fill="#7cf66e" fill-opacity="0.47"/>
  <path d="M447.7 433.8 L450.9 432.9 L454.0 432.0 L457.2 430.9 L460.3 429.7 L463.4 428.5 L466.6 427.4 L469.7 426.2 L472.8 425.1 L476.0 424.2 L479.1 423.4 L482.3 422.8 L485.4 422.4 L488.5 422.3 L491.7 422.3 L494.8 422.6 L498.0 423.2 L501.1 423.9 L504.2 424.8 L507.4 425.8 L510.5 426.9 L513.6 428.1 L516.8 429.2 L519.9 430.4 L523.1 431.6 L523.1 431.6 L519.9 431.2 L516.8 430.6 L513.6 429.9 L510.5 429.1 L507.4 428.4 L504.2 427.7 L501.1 427.1 L498.0 426.6 L494.8 426.3 L491.7 426.1 L488.5 426.1 L485.4 426.3 L482.3 426.7 L479.1 427.2 L476.0 427.8 L472.8 428.6 L469.7 429.4 L466.6 430.3 L463.4 431.2 L460.3 432.0 L457.2 432.7 L454.0 433.3 L450.9 433.7 L447.7 433.8 Z" fill="#40cc3a" fill-opacity="0.64"/>
  <path d="M532.0 422.3 L534.1 421.4 L536.2 420.9 L538.3 420.7 L540.4 420.6 L542.5 420.8 L544.6 421.2 L546.7 421.8 L548.8 422.6 L550.9 423.5 L553.0 424.5 L555.1 425.6 L557.2 426.8 L559.3 427.9 L561.4 429.0 L563.5 430.0 L565.6 430.9 L567.7 431.7 L569.8 432.4 L571.9 432.9 L574.0 433.3 L576.1 433.6 L578.2 433.8 L580.4 434.0 L582.5 434.2 L582.5 434.2 L580.4 435.4 L578.2 436.4 L576.1 437.1 L574.0 437.6 L571.9 438.0 L569.8 438.1 L567.7 437.9 L565.6 437.6 L563.5 437.0 L561.4 436.3 L559.3 435.3 L557.2 434.3 L555.1 433.1 L553.0 431.8 L550.9 430.6 L548.8 429.3 L546.7 428.1 L544.6 426.9 L542.5 425.9 L540.4 424.9 L538.3 424.1 L536.2 423.5 L534.1 422.9 L532.0 422.3 Z" fill="#7cf66e" fill-opacity="0.57"/>
  <path d="M546.6 421.8 L549.0 420.6 L551.5 419.5 L553.9 418.5 L556.3 417.6 L558.8 416.9 L561.2 416.3 L563.6 415.8 L566.1 415.6 L568.5 415.5 L570.9 415.5 L573.4 415.7 L575.8 416.0 L578.2 416.4 L580.7 416.9 L583.1 417.4 L585.5 418.0 L588.0 418.5 L590.4 419.1 L592.8 419.6 L595.3 420.0 L597.7 420.3 L600.1 420.6 L602.6 420.7 L605.0 420.9 L605.0 420.9 L602.6 421.8 L600.1 422.3 L597.7 422.7 L595.3 423.0 L592.8 423.1 L590.4 423.0 L588.0 422.9 L585.5 422.6 L583.1 422.3 L580.7 421.9 L578.2 421.6 L575.8 421.2 L573.4 420.9 L570.9 420.6 L568.5 420.3 L566.1 420.2 L563.6 420.2 L561.2 420.2 L558.8 420.4 L556.3 420.6 L553.9 420.9 L551.5 421.2 L549.0 421.6 L546.6 421.8 Z" fill="#40cc3a" fill-opacity="0.69"/>
  <defs><clipPath id="sR2"><path d="M510.5 410 L610 410 L610 450 L513.5 450 Q509 443 508.2 440 Q511 436.5 510.5 433.6 Q507 429 507.6 425 Q509.6 420 510.5 410 Z"/></clipPath></defs>
  <g clip-path="url(#sR2)"><rect x="415.7" y="414.8" width="187.1" height="32.7" fill="#fc8c2e"/>
    <path d="M528.7 435.5 L533.2 435.0 L537.7 434.6 L542.2 434.2 L546.7 433.7 L551.2 433.1 L555.7 432.4 L560.2 431.7 L564.7 431.0 L569.2 430.2 L573.7 429.5 L578.2 428.9 L582.7 428.3 L587.2 427.8 L591.7 427.4 L596.2 427.1 L600.7 427.0 L605.2 427.0 L609.7 427.1 L614.2 427.4 L618.7 427.8 L623.2 428.4 L627.7 429.1 L632.2 429.8 L636.7 430.8 L636.7 430.8 L632.2 430.9 L627.7 430.9 L623.2 430.9 L618.7 430.9 L614.2 431.0 L609.7 431.2 L605.2 431.4 L600.7 431.7 L596.2 432.1 L591.7 432.6 L587.2 433.1 L582.7 433.6 L578.2 434.2 L573.7 434.7 L569.2 435.2 L564.7 435.7 L560.2 436.1 L555.7 436.4 L551.2 436.6 L546.7 436.7 L542.2 436.7 L537.7 436.4 L533.2 436.1 L528.7 435.5 Z" fill="#ee7a1e" fill-opacity="0.64"/>
    <path d="M548.2 424.5 L552.1 424.2 L556.0 424.2 L559.9 424.3 L563.8 424.5 L567.7 424.8 L571.6 425.1 L575.5 425.3 L579.4 425.6 L583.2 425.8 L587.1 425.9 L591.0 425.9 L594.9 425.8 L598.8 425.7 L602.7 425.4 L606.6 425.1 L610.5 424.7 L614.4 424.3 L618.3 423.8 L622.1 423.4 L626.0 423.1 L629.9 422.8 L633.8 422.7 L637.7 422.7 L641.6 423.1 L641.6 423.1 L637.7 424.4 L633.8 425.5 L629.9 426.7 L626.0 427.9 L622.1 429.1 L618.3 430.2 L614.4 431.2 L610.5 432.2 L606.6 432.9 L602.7 433.6 L598.8 434.0 L594.9 434.2 L591.0 434.2 L587.1 434.0 L583.2 433.6 L579.4 433.1 L575.5 432.3 L571.6 431.4 L567.7 430.4 L563.8 429.3 L559.9 428.2 L556.0 427.0 L552.1 425.8 L548.2 424.5 Z" fill="#fea24e" fill-opacity="0.53"/>
    <path d="M430.3 439.2 L434.2 437.9 L438.1 436.6 L442.0 435.4 L445.8 434.1 L449.7 432.9 L453.6 431.6 L457.5 430.5 L461.4 429.4 L465.2 428.5 L469.1 427.6 L473.0 427.0 L476.9 426.5 L480.7 426.1 L484.6 425.9 L488.5 425.9 L492.4 426.1 L496.2 426.4 L500.1 426.9 L504.0 427.4 L507.9 428.1 L511.7 428.8 L515.6 429.5 L519.5 430.3 L523.4 431.3 L523.4 431.3 L519.5 431.9 L515.6 432.2 L511.7 432.4 L507.9 432.6 L504.0 432.7 L500.1 432.9 L496.2 433.0 L492.4 433.2 L488.5 433.4 L484.6 433.6 L480.7 434.0 L476.9 434.4 L473.0 434.8 L469.1 435.4 L465.2 435.9 L461.4 436.5 L457.5 437.1 L453.6 437.7 L449.7 438.2 L445.8 438.7 L442.0 439.0 L438.1 439.3 L434.2 439.4 L430.3 439.2 Z" fill="#ee7a1e" fill-opacity="0.65"/>
    <path d="M452.9 431.5 L457.3 431.0 L461.6 430.9 L465.9 431.0 L470.3 431.3 L474.6 431.9 L478.9 432.6 L483.3 433.5 L487.6 434.5 L491.9 435.6 L496.3 436.8 L500.6 437.9 L504.9 439.0 L509.3 440.0 L513.6 440.9 L518.0 441.7 L522.3 442.3 L526.6 442.7 L531.0 443.0 L535.3 443.1 L539.6 443.0 L544.0 442.8 L548.3 442.6 L552.6 442.2 L557.0 442.0 L557.0 442.0 L552.6 443.1 L548.3 444.1 L544.0 444.9 L539.6 445.6 L535.3 446.1 L531.0 446.4 L526.6 446.5 L522.3 446.3 L518.0 445.9 L513.6 445.3 L509.3 444.5 L504.9 443.5 L500.6 442.4 L496.3 441.2 L491.9 439.9 L487.6 438.6 L483.3 437.3 L478.9 436.1 L474.6 434.9 L470.3 434.0 L465.9 433.1 L461.6 432.4 L457.3 431.9 L452.9 431.5 Z" fill="#fea24e" fill-opacity="0.56"/>
    <path d="M404.6 440.9 L407.2 440.9 L409.9 441.2 L412.6 441.6 L415.2 442.1 L417.9 442.7 L420.5 443.4 L423.2 444.1 L425.9 444.7 L428.5 445.4 L431.2 446.0 L433.9 446.5 L436.5 446.9 L439.2 447.2 L441.8 447.4 L444.5 447.5 L447.2 447.4 L449.8 447.3 L452.5 447.1 L455.2 446.8 L457.8 446.5 L460.5 446.2 L463.1 445.9 L465.8 445.7 L468.5 445.7 L468.5 445.7 L465.8 446.5 L463.1 447.3 L460.5 448.1 L457.8 448.9 L455.2 449.6 L452.5 450.3 L449.8 450.8 L447.2 451.2 L444.5 451.4 L441.8 451.5 L439.2 451.3 L436.5 451.1 L433.9 450.6 L431.2 450.0 L428.5 449.3 L425.9 448.4 L423.2 447.5 L420.5 446.5 L417.9 445.5 L415.2 444.5 L412.6 443.5 L409.9 442.6 L407.2 441.7 L404.6 440.9 Z" fill="#ee7a1e" fill-opacity="0.63"/>
    <path d="M448.9 441.2 L451.9 440.2 L454.9 439.3 L458.0 438.5 L461.0 437.6 L464.0 436.8 L467.0 435.9 L470.1 435.1 L473.1 434.4 L476.1 433.7 L479.1 433.1 L482.1 432.6 L485.2 432.2 L488.2 431.9 L491.2 431.7 L494.2 431.6 L497.3 431.7 L500.3 431.9 L503.3 432.2 L506.3 432.6 L509.3 433.1 L512.4 433.6 L515.4 434.3 L518.4 435.0 L521.4 435.9 L521.4 435.9 L518.4 436.5 L515.4 436.9 L512.4 437.3 L509.3 437.6 L506.3 437.9 L503.3 438.1 L500.3 438.4 L497.3 438.7 L494.2 439.0 L491.2 439.3 L488.2 439.7 L485.2 440.0 L482.1 440.4 L479.1 440.7 L476.1 441.1 L473.1 441.4 L470.1 441.7 L467.0 441.9 L464.0 442.0 L461.0 442.1 L458.0 442.1 L454.9 442.0 L451.9 441.8 L448.9 441.2 Z" fill="#fea24e" fill-opacity="0.45"/>
    <path d="M434.4 424.0 L439.2 422.8 L444.1 421.8 L449.0 420.9 L453.9 420.0 L458.8 419.3 L463.7 418.7 L468.6 418.2 L473.5 417.8 L478.4 417.6 L483.3 417.5 L488.2 417.5 L493.1 417.7 L498.0 418.0 L502.9 418.4 L507.8 419.0 L512.7 419.6 L517.6 420.3 L522.5 421.0 L527.4 421.8 L532.3 422.6 L537.2 423.3 L542.1 424.1 L547.0 424.9 L551.9 425.9 L551.9 425.9 L547.0 426.6 L542.1 427.1 L537.2 427.4 L532.3 427.5 L527.4 427.6 L522.5 427.6 L517.6 427.5 L512.7 427.3 L507.8 427.1 L502.9 426.9 L498.0 426.6 L493.1 426.4 L488.2 426.2 L483.3 425.9 L478.4 425.7 L473.5 425.6 L468.6 425.4 L463.7 425.3 L458.8 425.2 L453.9 425.0 L449.0 424.9 L444.1 424.7 L439.2 424.5 L434.4 424.0 Z" fill="#ee7a1e" fill-opacity="0.48"/>
  </g>
</g>
<g clip-path="url(#cR3)">
  <rect x="415.7" y="464.4" width="187.1" height="33.2" fill="#fc8c2e"/>
  <path d="M457.8 475.3 L461.9 474.5 L466.0 473.9 L470.1 473.2 L474.2 472.5 L478.3 471.9 L482.4 471.3 L486.5 470.8 L490.6 470.3 L494.7 469.9 L498.8 469.6 L502.9 469.4 L507.0 469.3 L511.1 469.3 L515.2 469.4 L519.3 469.6 L523.4 469.9 L527.5 470.3 L531.6 470.7 L535.7 471.2 L539.8 471.7 L543.9 472.3 L548.0 472.8 L552.1 473.3 L556.2 474.0 L556.2 474.0 L552.1 474.2 L548.0 474.3 L543.9 474.4 L539.8 474.3 L535.7 474.3 L531.6 474.2 L527.5 474.1 L523.4 474.0 L519.3 473.9 L515.2 473.8 L511.1 473.8 L507.0 473.8 L502.9 473.9 L498.8 474.0 L494.7 474.2 L490.6 474.3 L486.5 474.5 L482.4 474.7 L478.3 475.0 L474.2 475.1 L470.1 475.3 L466.0 475.4 L461.9 475.4 L457.8 475.3 Z" fill="#ee7a1e" fill-opacity="0.56"/>
  <path d="M497.9 467.2 L502.8 467.0 L507.7 467.0 L512.5 467.1 L517.4 467.4 L522.2 467.8 L527.1 468.3 L532.0 468.9 L536.8 469.6 L541.7 470.3 L546.5 471.1 L551.4 471.8 L556.3 472.6 L561.1 473.3 L566.0 474.0 L570.8 474.5 L575.7 475.1 L580.6 475.5 L585.4 475.8 L590.3 476.1 L595.1 476.3 L600.0 476.5 L604.9 476.6 L609.7 476.7 L614.6 477.0 L614.6 477.0 L609.7 477.7 L604.9 478.2 L600.0 478.6 L595.1 479.0 L590.3 479.2 L585.4 479.4 L580.6 479.3 L575.7 479.2 L570.8 478.9 L566.0 478.5 L561.1 477.9 L556.3 477.2 L551.4 476.4 L546.5 475.6 L541.7 474.7 L536.8 473.7 L532.0 472.8 L527.1 471.8 L522.2 470.9 L517.4 470.1 L512.5 469.3 L507.7 468.6 L502.8 467.9 L497.9 467.2 Z" fill="#fea24e" fill-opacity="0.48"/>
  <path d="M414.7 494.0 L419.4 494.1 L424.2 494.1 L429.0 494.2 L433.8 494.1 L438.6 494.0 L443.4 493.9 L448.1 493.7 L452.9 493.5 L457.7 493.2 L462.5 492.9 L467.3 492.7 L472.1 492.5 L476.8 492.3 L481.6 492.1 L486.4 492.1 L491.2 492.1 L496.0 492.2 L500.8 492.4 L505.6 492.7 L510.3 493.2 L515.1 493.7 L519.9 494.3 L524.7 495.0 L529.5 495.8 L529.5 495.8 L524.7 495.7 L519.9 495.5 L515.1 495.3 L510.3 495.2 L505.6 495.1 L500.8 495.1 L496.0 495.1 L491.2 495.2 L486.4 495.4 L481.6 495.5 L476.8 495.8 L472.1 496.0 L467.3 496.2 L462.5 496.4 L457.7 496.5 L452.9 496.6 L448.1 496.6 L443.4 496.6 L438.6 496.4 L433.8 496.1 L429.0 495.8 L424.2 495.3 L419.4 494.8 L414.7 494.0 Z" fill="#ee7a1e" fill-opacity="0.65"/>
  <path d="M506.8 485.6 L511.3 485.4 L515.9 485.4 L520.4 485.3 L525.0 485.2 L529.5 485.0 L534.1 484.6 L538.6 484.1 L543.1 483.5 L547.7 482.7 L552.2 481.8 L556.8 480.8 L561.3 479.7 L565.9 478.6 L570.4 477.5 L575.0 476.4 L579.5 475.4 L584.1 474.5 L588.6 473.7 L593.2 473.0 L597.7 472.6 L602.2 472.4 L606.8 472.4 L611.3 472.7 L615.9 473.4 L615.9 473.4 L611.3 474.1 L606.8 474.9 L602.2 475.8 L597.7 476.8 L593.2 477.9 L588.6 479.1 L584.1 480.5 L579.5 481.8 L575.0 483.2 L570.4 484.5 L565.9 485.8 L561.3 487.0 L556.8 488.0 L552.2 488.9 L547.7 489.5 L543.1 489.9 L538.6 490.1 L534.1 490.1 L529.5 489.8 L525.0 489.4 L520.4 488.7 L515.9 487.8 L511.3 486.8 L506.8 485.6 Z" fill="#fea24e" fill-opacity="0.47"/>
  <path d="M538.1 480.2 L540.5 480.0 L542.9 479.8 L545.3 479.5 L547.7 479.0 L550.2 478.4 L552.6 477.8 L555.0 477.0 L557.4 476.3 L559.8 475.6 L562.2 474.9 L564.7 474.3 L567.1 473.8 L569.5 473.5 L571.9 473.3 L574.3 473.3 L576.7 473.6 L579.2 474.0 L581.6 474.7 L584.0 475.5 L586.4 476.5 L588.8 477.7 L591.2 479.0 L593.6 480.4 L596.1 481.9 L596.1 481.9 L593.6 481.4 L591.2 480.7 L588.8 480.0 L586.4 479.4 L584.0 478.8 L581.6 478.4 L579.2 478.1 L576.7 478.0 L574.3 478.0 L571.9 478.1 L569.5 478.4 L567.1 478.7 L564.7 479.2 L562.2 479.7 L559.8 480.2 L557.4 480.7 L555.0 481.1 L552.6 481.5 L550.2 481.8 L547.7 481.8 L545.3 481.8 L542.9 481.5 L540.5 481.0 L538.1 480.2 Z" fill="#ee7a1e" fill-opacity="0.62"/>
  <path d="M482.9 477.0 L487.0 476.0 L491.1 475.3 L495.2 474.7 L499.3 474.3 L503.4 473.9 L507.4 473.7 L511.5 473.6 L515.6 473.6 L519.7 473.8 L523.8 474.0 L527.9 474.3 L532.0 474.6 L536.1 475.1 L540.2 475.5 L544.3 475.9 L548.4 476.3 L552.4 476.7 L556.5 477.1 L560.6 477.4 L564.7 477.7 L568.8 477.9 L572.9 478.1 L577.0 478.3 L581.1 478.6 L581.1 478.6 L577.0 479.5 L572.9 480.2 L568.8 480.8 L564.7 481.2 L560.6 481.6 L556.5 481.8 L552.4 481.9 L548.4 481.8 L544.3 481.7 L540.2 481.5 L536.1 481.2 L532.0 480.8 L527.9 480.4 L523.8 480.0 L519.7 479.5 L515.6 479.1 L511.5 478.7 L507.4 478.4 L503.4 478.1 L499.3 477.8 L495.2 477.6 L491.1 477.4 L487.0 477.2 L482.9 477.0 Z" fill="#fea24e" fill-opacity="0.37"/>
  <path d="M470.6 495.2 L473.0 493.8 L475.5 492.7 L477.9 491.5 L480.3 490.4 L482.8 489.4 L485.2 488.5 L487.7 487.7 L490.1 487.1 L492.5 486.7 L495.0 486.4 L497.4 486.4 L499.9 486.6 L502.3 486.9 L504.7 487.4 L507.2 488.1 L509.6 488.9 L512.1 489.8 L514.5 490.7 L516.9 491.7 L519.4 492.7 L521.8 493.6 L524.3 494.5 L526.7 495.3 L529.1 496.1 L529.1 496.1 L526.7 496.5 L524.3 496.6 L521.8 496.5 L519.4 496.3 L516.9 495.9 L514.5 495.5 L512.1 495.0 L509.6 494.5 L507.2 494.0 L504.7 493.6 L502.3 493.2 L499.9 492.9 L497.4 492.7 L495.0 492.6 L492.5 492.6 L490.1 492.7 L487.7 492.9 L485.2 493.3 L482.8 493.6 L480.3 494.0 L477.9 494.4 L475.5 494.8 L473.0 495.1 L470.6 495.2 Z" fill="#ee7a1e" fill-opacity="0.74"/>
  <defs><clipPath id="sR3"><path d="M410 460 L468 460 Q469.6 470 466.6 474 Q464 478 465 482 Q467 488 466 500 L410 500 Z"/></clipPath></defs>
  <g clip-path="url(#sR3)"><rect x="415.7" y="464.4" width="187.1" height="33.2" fill="#5aee4e"/>
    <path d="M438.0 476.6 L440.2 476.0 L442.4 475.7 L444.6 475.5 L446.9 475.4 L449.1 475.2 L451.3 475.1 L453.5 475.0 L455.8 474.9 L458.0 474.6 L460.2 474.4 L462.4 474.1 L464.7 473.7 L466.9 473.3 L469.1 472.8 L471.3 472.3 L473.6 471.8 L475.8 471.3 L478.0 470.8 L480.2 470.4 L482.4 470.1 L484.7 469.9 L486.9 469.8 L489.1 469.8 L491.3 470.2 L491.3 470.2 L489.1 471.4 L486.9 472.6 L484.7 473.7 L482.4 474.9 L480.2 476.0 L478.0 477.2 L475.8 478.2 L473.6 479.2 L471.3 480.1 L469.1 480.9 L466.9 481.6 L464.7 482.0 L462.4 482.4 L460.2 482.5 L458.0 482.5 L455.8 482.3 L453.5 481.9 L451.3 481.5 L449.1 480.9 L446.9 480.2 L444.6 479.4 L442.4 478.5 L440.2 477.6 L438.0 476.6 Z" fill="#40cc3a" fill-opacity="0.69"/>
    <path d="M566.1 479.2 L570.5 477.6 L574.8 476.1 L579.2 474.6 L583.5 473.2 L587.8 472.0 L592.2 470.8 L596.5 469.7 L600.8 468.8 L605.2 468.1 L609.5 467.6 L613.9 467.3 L618.2 467.1 L622.5 467.1 L626.9 467.3 L631.2 467.6 L635.5 468.1 L639.9 468.6 L644.2 469.2 L648.6 469.9 L652.9 470.5 L657.2 471.2 L661.6 471.8 L665.9 472.3 L670.2 473.0 L670.2 473.0 L665.9 473.8 L661.6 474.4 L657.2 474.7 L652.9 475.0 L648.6 475.1 L644.2 475.1 L639.9 475.0 L635.5 475.0 L631.2 474.9 L626.9 474.8 L622.5 474.8 L618.2 474.8 L613.9 474.9 L609.5 475.1 L605.2 475.4 L600.8 475.7 L596.5 476.1 L592.2 476.6 L587.8 477.1 L583.5 477.7 L579.2 478.2 L574.8 478.7 L570.5 479.1 L566.1 479.2 Z" fill="#7cf66e" fill-opacity="0.58"/>
    <path d="M442.0 477.5 L444.8 477.7 L447.7 478.1 L450.5 478.7 L453.3 479.3 L456.1 480.0 L459.0 480.7 L461.8 481.4 L464.6 482.1 L467.4 482.7 L470.2 483.3 L473.1 483.7 L475.9 484.1 L478.7 484.4 L481.5 484.6 L484.4 484.7 L487.2 484.7 L490.0 484.6 L492.8 484.5 L495.6 484.4 L498.5 484.3 L501.3 484.2 L504.1 484.2 L506.9 484.4 L509.8 484.7 L509.8 484.7 L506.9 485.4 L504.1 486.0 L501.3 486.6 L498.5 487.3 L495.6 487.9 L492.8 488.4 L490.0 488.9 L487.2 489.3 L484.4 489.5 L481.5 489.6 L478.7 489.5 L475.9 489.2 L473.1 488.8 L470.2 488.3 L467.4 487.5 L464.6 486.6 L461.8 485.7 L459.0 484.6 L456.1 483.4 L453.3 482.2 L450.5 481.0 L447.7 479.9 L444.8 478.7 L442.0 477.5 Z" fill="#40cc3a" fill-opacity="0.66"/>
    <path d="M560.7 492.2 L563.3 491.7 L565.9 491.3 L568.5 490.8 L571.1 490.3 L573.7 489.8 L576.3 489.3 L579.0 488.8 L581.6 488.4 L584.2 488.1 L586.8 487.9 L589.4 487.8 L592.0 487.9 L594.6 488.1 L597.2 488.5 L599.9 489.0 L602.5 489.7 L605.1 490.5 L607.7 491.4 L610.3 492.5 L612.9 493.5 L615.5 494.7 L618.1 495.8 L620.8 497.0 L623.4 498.2 L623.4 498.2 L620.8 497.9 L618.1 497.4 L615.5 496.9 L612.9 496.3 L610.3 495.6 L607.7 495.0 L605.1 494.5 L602.5 493.9 L599.9 493.5 L597.2 493.1 L594.6 492.8 L592.0 492.6 L589.4 492.5 L586.8 492.5 L584.2 492.5 L581.6 492.6 L579.0 492.7 L576.3 492.8 L573.7 492.9 L571.1 493.0 L568.5 493.0 L565.9 492.9 L563.3 492.6 L560.7 492.2 Z" fill="#7cf66e" fill-opacity="0.55"/>
    <path d="M404.2 473.3 L407.3 472.9 L410.3 472.9 L413.4 473.1 L416.5 473.4 L419.5 473.9 L422.6 474.5 L425.7 475.1 L428.7 475.7 L431.8 476.2 L434.9 476.7 L438.0 477.0 L441.0 477.2 L444.1 477.3 L447.2 477.2 L450.2 476.9 L453.3 476.5 L456.4 476.0 L459.4 475.3 L462.5 474.6 L465.6 473.8 L468.6 473.1 L471.7 472.4 L474.8 471.8 L477.8 471.6 L477.8 471.6 L474.8 473.3 L471.7 475.0 L468.6 476.6 L465.6 478.2 L462.5 479.6 L459.4 481.0 L456.4 482.2 L453.3 483.2 L450.2 484.0 L447.2 484.5 L444.1 484.8 L441.0 484.8 L438.0 484.5 L434.9 484.0 L431.8 483.3 L428.7 482.4 L425.7 481.3 L422.6 480.2 L419.5 479.0 L416.5 477.7 L413.4 476.6 L410.3 475.4 L407.3 474.4 L404.2 473.3 Z" fill="#40cc3a" fill-opacity="0.55"/>
    <path d="M532.9 483.7 L537.0 482.3 L541.2 481.3 L545.3 480.7 L549.5 480.2 L553.6 480.0 L557.8 480.1 L561.9 480.4 L566.1 481.0 L570.2 481.7 L574.4 482.5 L578.6 483.5 L582.7 484.6 L586.9 485.6 L591.0 486.7 L595.2 487.7 L599.3 488.6 L603.5 489.4 L607.6 490.1 L611.8 490.6 L615.9 491.0 L620.1 491.2 L624.2 491.3 L628.4 491.3 L632.6 491.4 L632.6 491.4 L628.4 493.0 L624.2 494.2 L620.1 495.1 L615.9 495.8 L611.8 496.3 L607.6 496.5 L603.5 496.4 L599.3 496.1 L595.2 495.6 L591.0 494.9 L586.9 494.0 L582.7 493.0 L578.6 491.9 L574.4 490.7 L570.2 489.6 L566.1 488.5 L561.9 487.4 L557.8 486.5 L553.6 485.7 L549.5 485.1 L545.3 484.6 L541.2 484.2 L537.0 484.0 L532.9 483.7 Z" fill="#7cf66e" fill-opacity="0.48"/>
    <path d="M518.8 475.4 L522.5 475.2 L526.3 474.9 L530.0 474.5 L533.8 474.0 L537.5 473.4 L541.2 472.7 L545.0 472.0 L548.7 471.3 L552.5 470.6 L556.2 470.0 L559.9 469.4 L563.7 469.0 L567.4 468.7 L571.1 468.6 L574.9 468.6 L578.6 468.8 L582.4 469.2 L586.1 469.8 L589.8 470.5 L593.6 471.4 L597.3 472.5 L601.1 473.6 L604.8 474.8 L608.5 476.1 L608.5 476.1 L604.8 475.7 L601.1 475.2 L597.3 474.6 L593.6 474.1 L589.8 473.7 L586.1 473.3 L582.4 473.1 L578.6 472.9 L574.9 472.9 L571.1 473.1 L567.4 473.3 L563.7 473.6 L559.9 474.0 L556.2 474.5 L552.5 475.0 L548.7 475.4 L545.0 475.9 L541.2 476.2 L537.5 476.5 L533.8 476.6 L530.0 476.6 L526.3 476.5 L522.5 476.1 L518.8 475.4 Z" fill="#40cc3a" fill-opacity="0.69"/>
  </g>
</g>
<g clip-path="url(#cB)">
  <rect x="139.6" y="515.6" width="462.8" height="36.0" fill="#5aee4e"/>
  <path d="M191.1 526.7 L193.2 525.9 L195.4 525.1 L197.6 524.4 L199.8 523.6 L201.9 522.8 L204.1 522.0 L206.3 521.3 L208.5 520.7 L210.7 520.1 L212.8 519.7 L215.0 519.4 L217.2 519.3 L219.4 519.3 L221.5 519.4 L223.7 519.7 L225.9 520.2 L228.1 520.7 L230.2 521.4 L232.4 522.2 L234.6 523.1 L236.8 524.0 L239.0 525.0 L241.1 526.0 L243.3 527.2 L243.3 527.2 L241.1 527.4 L239.0 527.3 L236.8 527.2 L234.6 527.0 L232.4 526.8 L230.2 526.5 L228.1 526.3 L225.9 526.2 L223.7 526.0 L221.5 526.0 L219.4 526.0 L217.2 526.0 L215.0 526.1 L212.8 526.3 L210.7 526.5 L208.5 526.7 L206.3 526.9 L204.1 527.1 L201.9 527.3 L199.8 527.4 L197.6 527.5 L195.4 527.4 L193.2 527.2 L191.1 526.7 Z" fill="#40cc3a" fill-opacity="0.65"/>
  <path d="M479.5 532.5 L482.5 532.1 L485.6 532.1 L488.6 532.4 L491.6 532.8 L494.6 533.5 L497.6 534.2 L500.6 535.0 L503.6 535.9 L506.7 536.8 L509.7 537.6 L512.7 538.3 L515.7 538.9 L518.7 539.4 L521.7 539.8 L524.7 540.0 L527.8 540.0 L530.8 539.9 L533.8 539.6 L536.8 539.3 L539.8 538.9 L542.8 538.5 L545.8 538.1 L548.8 537.8 L551.9 537.7 L551.9 537.7 L548.8 539.3 L545.8 540.8 L542.8 542.2 L539.8 543.5 L536.8 544.7 L533.8 545.7 L530.8 546.5 L527.8 547.1 L524.7 547.5 L521.7 547.6 L518.7 547.4 L515.7 547.0 L512.7 546.3 L509.7 545.4 L506.7 544.3 L503.6 543.1 L500.6 541.7 L497.6 540.3 L494.6 538.9 L491.6 537.5 L488.6 536.1 L485.6 534.8 L482.5 533.7 L479.5 532.5 Z" fill="#7cf66e" fill-opacity="0.54"/>
  <path d="M132.9 551.2 L136.5 550.3 L140.0 549.3 L143.6 548.3 L147.1 547.2 L150.7 546.1 L154.2 544.9 L157.8 543.8 L161.4 542.8 L164.9 541.9 L168.5 541.1 L172.0 540.5 L175.6 540.1 L179.1 540.0 L182.7 540.1 L186.2 540.4 L189.8 541.0 L193.3 541.7 L196.9 542.7 L200.5 543.9 L204.0 545.1 L207.6 546.5 L211.1 547.9 L214.7 549.3 L218.2 550.9 L218.2 550.9 L214.7 550.7 L211.1 550.2 L207.6 549.7 L204.0 549.1 L200.5 548.5 L196.9 547.9 L193.3 547.5 L189.8 547.1 L186.2 546.9 L182.7 546.8 L179.1 546.8 L175.6 547.0 L172.0 547.3 L168.5 547.8 L164.9 548.3 L161.4 548.9 L157.8 549.5 L154.2 550.1 L150.7 550.7 L147.1 551.2 L143.6 551.5 L140.0 551.7 L136.5 551.6 L132.9 551.2 Z" fill="#40cc3a" fill-opacity="0.64"/>
  <path d="M215.1 549.5 L217.4 547.9 L219.7 546.5 L222.0 545.1 L224.3 543.6 L226.5 542.2 L228.8 540.9 L231.1 539.6 L233.4 538.5 L235.7 537.5 L238.0 536.7 L240.3 536.1 L242.6 535.8 L244.9 535.6 L247.1 535.6 L249.4 535.9 L251.7 536.4 L254.0 537.0 L256.3 537.8 L258.6 538.6 L260.9 539.6 L263.2 540.6 L265.5 541.6 L267.7 542.7 L270.0 543.8 L270.0 543.8 L267.7 544.4 L265.5 544.6 L263.2 544.6 L260.9 544.6 L258.6 544.5 L256.3 544.3 L254.0 544.2 L251.7 544.1 L249.4 544.0 L247.1 544.1 L244.9 544.2 L242.6 544.4 L240.3 544.7 L238.0 545.2 L235.7 545.7 L233.4 546.2 L231.1 546.8 L228.8 547.4 L226.5 548.0 L224.3 548.6 L222.0 549.1 L219.7 549.4 L217.4 549.6 L215.1 549.5 Z" fill="#7cf66e" fill-opacity="0.56"/>
  <path d="M430.2 550.5 L435.0 549.9 L439.9 549.3 L444.7 548.7 L449.6 548.1 L454.4 547.3 L459.3 546.6 L464.1 545.8 L469.0 544.9 L473.8 544.1 L478.7 543.3 L483.5 542.5 L488.4 541.8 L493.2 541.1 L498.1 540.5 L502.9 540.0 L507.8 539.6 L512.6 539.4 L517.5 539.2 L522.3 539.2 L527.2 539.3 L532.0 539.5 L536.9 539.8 L541.7 540.3 L546.6 540.8 L546.6 540.8 L541.7 541.2 L536.9 541.5 L532.0 541.8 L527.2 542.1 L522.3 542.5 L517.5 543.0 L512.6 543.5 L507.8 544.0 L502.9 544.6 L498.1 545.3 L493.2 546.0 L488.4 546.7 L483.5 547.4 L478.7 548.1 L473.8 548.7 L469.0 549.3 L464.1 549.9 L459.3 550.3 L454.4 550.7 L449.6 550.9 L444.7 551.0 L439.9 551.0 L435.0 550.8 L430.2 550.5 Z" fill="#40cc3a" fill-opacity="0.59"/>
  <path d="M218.0 525.2 L221.0 524.5 L224.0 524.0 L227.1 523.7 L230.1 523.4 L233.1 523.3 L236.2 523.2 L239.2 523.2 L242.2 523.2 L245.3 523.3 L248.3 523.4 L251.3 523.5 L254.4 523.5 L257.4 523.6 L260.4 523.7 L263.5 523.8 L266.5 523.8 L269.5 523.8 L272.6 523.9 L275.6 523.9 L278.6 524.0 L281.7 524.1 L284.7 524.2 L287.7 524.5 L290.8 525.0 L290.8 525.0 L287.7 526.1 L284.7 527.1 L281.7 528.0 L278.6 528.8 L275.6 529.6 L272.6 530.3 L269.5 530.9 L266.5 531.3 L263.5 531.7 L260.4 531.9 L257.4 532.0 L254.4 532.0 L251.3 531.9 L248.3 531.6 L245.3 531.2 L242.2 530.8 L239.2 530.2 L236.2 529.6 L233.1 529.0 L230.1 528.3 L227.1 527.6 L224.0 526.9 L221.0 526.1 L218.0 525.2 Z" fill="#7cf66e" fill-opacity="0.46"/>
  <path d="M481.3 533.7 L486.2 532.4 L491.1 531.4 L496.0 530.4 L501.0 529.5 L505.9 528.8 L510.8 528.3 L515.7 528.0 L520.7 528.0 L525.6 528.1 L530.5 528.6 L535.4 529.2 L540.4 530.0 L545.3 531.1 L550.2 532.3 L555.1 533.6 L560.0 535.0 L565.0 536.4 L569.9 537.8 L574.8 539.2 L579.7 540.5 L584.7 541.6 L589.6 542.7 L594.5 543.6 L599.4 544.4 L599.4 544.4 L594.5 544.7 L589.6 544.7 L584.7 544.4 L579.7 543.9 L574.8 543.2 L569.9 542.3 L565.0 541.3 L560.0 540.2 L555.1 539.1 L550.2 538.0 L545.3 537.0 L540.4 536.0 L535.4 535.1 L530.5 534.3 L525.6 533.7 L520.7 533.3 L515.7 533.0 L510.8 532.8 L505.9 532.8 L501.0 532.9 L496.0 533.1 L491.1 533.4 L486.2 533.6 L481.3 533.7 Z" fill="#40cc3a" fill-opacity="0.74"/>
  <path d="M248.8 541.3 L253.3 540.5 L257.8 539.9 L262.4 539.5 L266.9 539.2 L271.4 539.0 L275.9 539.0 L280.4 539.0 L284.9 539.2 L289.4 539.5 L294.0 540.0 L298.5 540.5 L303.0 541.1 L307.5 541.9 L312.0 542.6 L316.5 543.4 L321.0 544.3 L325.6 545.1 L330.1 545.9 L334.6 546.7 L339.1 547.5 L343.6 548.2 L348.1 548.9 L352.6 549.6 L357.2 550.4 L357.2 550.4 L352.6 551.0 L348.1 551.4 L343.6 551.6 L339.1 551.6 L334.6 551.5 L330.1 551.3 L325.6 551.0 L321.0 550.6 L316.5 550.1 L312.0 549.6 L307.5 549.0 L303.0 548.3 L298.5 547.6 L294.0 546.9 L289.4 546.3 L284.9 545.6 L280.4 545.0 L275.9 544.4 L271.4 543.8 L266.9 543.3 L262.4 542.8 L257.8 542.4 L253.3 541.9 L248.8 541.3 Z" fill="#7cf66e" fill-opacity="0.57"/>
  <path d="M469.7 547.6 L474.1 547.0 L478.4 546.6 L482.7 546.1 L487.1 545.6 L491.4 545.2 L495.7 544.7 L500.1 544.2 L504.4 543.8 L508.7 543.5 L513.0 543.2 L517.4 543.1 L521.7 543.0 L526.0 543.1 L530.4 543.2 L534.7 543.5 L539.0 543.9 L543.4 544.5 L547.7 545.1 L552.0 545.8 L556.4 546.7 L560.7 547.6 L565.0 548.5 L569.4 549.5 L573.7 550.7 L573.7 550.7 L569.4 550.8 L565.0 550.7 L560.7 550.6 L556.4 550.4 L552.0 550.2 L547.7 550.0 L543.4 549.9 L539.0 549.7 L534.7 549.6 L530.4 549.5 L526.0 549.5 L521.7 549.5 L517.4 549.5 L513.0 549.6 L508.7 549.6 L504.4 549.6 L500.1 549.6 L495.7 549.6 L491.4 549.5 L487.1 549.4 L482.7 549.1 L478.4 548.8 L474.1 548.3 L469.7 547.6 Z" fill="#40cc3a" fill-opacity="0.50"/>
  <path d="M445.8 523.2 L449.3 521.6 L452.7 520.3 L456.2 519.2 L459.7 518.2 L463.2 517.3 L466.7 516.6 L470.2 516.1 L473.7 515.7 L477.1 515.5 L480.6 515.3 L484.1 515.3 L487.6 515.4 L491.1 515.6 L494.6 515.9 L498.1 516.1 L501.6 516.4 L505.0 516.7 L508.5 517.0 L512.0 517.2 L515.5 517.4 L519.0 517.6 L522.5 517.7 L526.0 517.8 L529.4 518.0 L529.4 518.0 L526.0 519.5 L522.5 520.6 L519.0 521.6 L515.5 522.4 L512.0 523.1 L508.5 523.6 L505.0 524.0 L501.6 524.2 L498.1 524.3 L494.6 524.3 L491.1 524.3 L487.6 524.2 L484.1 524.0 L480.6 523.8 L477.1 523.7 L473.7 523.5 L470.2 523.4 L466.7 523.3 L463.2 523.2 L459.7 523.2 L456.2 523.2 L452.7 523.3 L449.3 523.4 L445.8 523.2 Z" fill="#7cf66e" fill-opacity="0.42"/>
  <path d="M434.8 529.2 L439.5 528.9 L444.3 528.8 L449.0 528.8 L453.7 528.8 L458.5 529.0 L463.2 529.2 L468.0 529.4 L472.7 529.7 L477.4 530.0 L482.2 530.3 L486.9 530.6 L491.6 530.9 L496.4 531.1 L501.1 531.3 L505.9 531.5 L510.6 531.7 L515.3 531.8 L520.1 531.9 L524.8 532.0 L529.5 532.1 L534.3 532.2 L539.0 532.4 L543.7 532.6 L548.5 533.0 L548.5 533.0 L543.7 533.7 L539.0 534.4 L534.3 534.9 L529.5 535.4 L524.8 535.9 L520.1 536.3 L515.3 536.6 L510.6 536.8 L505.9 537.0 L501.1 537.0 L496.4 536.9 L491.6 536.7 L486.9 536.3 L482.2 535.9 L477.4 535.4 L472.7 534.9 L468.0 534.2 L463.2 533.6 L458.5 532.9 L453.7 532.2 L449.0 531.4 L444.3 530.7 L439.5 530.0 L434.8 529.2 Z" fill="#40cc3a" fill-opacity="0.47"/>
  <path d="M268.2 539.4 L270.6 539.9 L272.9 540.6 L275.3 541.3 L277.7 542.0 L280.0 542.7 L282.4 543.2 L284.8 543.7 L287.2 544.0 L289.5 544.2 L291.9 544.3 L294.3 544.2 L296.6 544.0 L299.0 543.7 L301.4 543.3 L303.8 542.9 L306.1 542.4 L308.5 542.0 L310.9 541.6 L313.2 541.3 L315.6 541.2 L318.0 541.2 L320.3 541.4 L322.7 541.8 L325.1 542.6 L325.1 542.6 L322.7 543.0 L320.3 543.4 L318.0 544.0 L315.6 544.6 L313.2 545.3 L310.9 546.1 L308.5 546.9 L306.1 547.7 L303.8 548.4 L301.4 549.0 L299.0 549.5 L296.6 549.9 L294.3 550.1 L291.9 550.0 L289.5 549.8 L287.2 549.3 L284.8 548.6 L282.4 547.7 L280.0 546.6 L277.7 545.4 L275.3 544.1 L272.9 542.6 L270.6 541.1 L268.2 539.4 Z" fill="#7cf66e" fill-opacity="0.59"/>
  <path d="M293.6 516.5 L298.0 517.3 L302.5 518.3 L307.0 519.3 L311.5 520.2 L316.0 521.0 L320.5 521.8 L324.9 522.4 L329.4 522.9 L333.9 523.2 L338.4 523.4 L342.9 523.4 L347.4 523.2 L351.8 522.9 L356.3 522.6 L360.8 522.1 L365.3 521.6 L369.8 521.2 L374.3 520.7 L378.7 520.4 L383.2 520.2 L387.7 520.1 L392.2 520.2 L396.7 520.5 L401.2 521.1 L401.2 521.1 L396.7 521.2 L392.2 521.5 L387.7 521.8 L383.2 522.3 L378.7 522.9 L374.3 523.6 L369.8 524.3 L365.3 525.0 L360.8 525.6 L356.3 526.2 L351.8 526.7 L347.4 527.0 L342.9 527.1 L338.4 527.0 L333.9 526.7 L329.4 526.2 L324.9 525.5 L320.5 524.6 L316.0 523.6 L311.5 522.3 L307.0 521.0 L302.5 519.6 L298.0 518.1 L293.6 516.5 Z" fill="#40cc3a" fill-opacity="0.67"/>
  <path d="M395.4 539.6 L398.8 540.1 L402.2 540.6 L405.6 541.0 L409.1 541.3 L412.5 541.4 L415.9 541.4 L419.3 541.2 L422.8 540.8 L426.2 540.2 L429.6 539.6 L433.0 538.7 L436.4 537.9 L439.9 536.9 L443.3 536.0 L446.7 535.1 L450.1 534.3 L453.6 533.6 L457.0 533.1 L460.4 532.8 L463.8 532.7 L467.3 532.8 L470.7 533.2 L474.1 533.8 L477.5 534.8 L477.5 534.8 L474.1 534.9 L470.7 535.1 L467.3 535.4 L463.8 535.9 L460.4 536.5 L457.0 537.3 L453.6 538.2 L450.1 539.2 L446.7 540.3 L443.3 541.4 L439.9 542.4 L436.4 543.4 L433.0 544.3 L429.6 545.0 L426.2 545.5 L422.8 545.7 L419.3 545.8 L415.9 545.6 L412.5 545.1 L409.1 544.5 L405.6 543.6 L402.2 542.4 L398.8 541.2 L395.4 539.6 Z" fill="#7cf66e" fill-opacity="0.58"/>
  <path d="M178.2 526.2 L183.0 525.6 L187.8 525.1 L192.6 524.7 L197.5 524.3 L202.3 524.1 L207.1 524.0 L212.0 524.0 L216.8 524.2 L221.6 524.4 L226.4 524.8 L231.3 525.4 L236.1 526.0 L240.9 526.7 L245.7 527.5 L250.6 528.3 L255.4 529.2 L260.2 530.1 L265.0 531.0 L269.9 531.9 L274.7 532.8 L279.5 533.6 L284.3 534.4 L289.2 535.1 L294.0 535.9 L294.0 535.9 L289.2 536.2 L284.3 536.3 L279.5 536.3 L274.7 536.1 L269.9 535.8 L265.0 535.4 L260.2 534.9 L255.4 534.3 L250.6 533.7 L245.7 533.0 L240.9 532.4 L236.1 531.7 L231.3 531.0 L226.4 530.4 L221.6 529.8 L216.8 529.3 L212.0 528.8 L207.1 528.3 L202.3 528.0 L197.5 527.6 L192.6 527.3 L187.8 527.0 L183.0 526.7 L178.2 526.2 Z" fill="#40cc3a" fill-opacity="0.48"/>
  <path d="M298.9 530.0 L302.7 528.7 L306.5 527.8 L310.3 527.1 L314.1 526.5 L317.9 526.1 L321.7 525.9 L325.5 525.8 L329.3 525.9 L333.1 526.1 L336.8 526.4 L340.6 526.7 L344.4 527.2 L348.2 527.6 L352.0 528.1 L355.8 528.6 L359.6 529.0 L363.4 529.5 L367.2 529.8 L371.0 530.1 L374.8 530.3 L378.6 530.5 L382.4 530.7 L386.2 530.8 L390.0 531.1 L390.0 531.1 L386.2 532.5 L382.4 533.7 L378.6 534.6 L374.8 535.4 L371.0 536.0 L367.2 536.5 L363.4 536.7 L359.6 536.9 L355.8 536.8 L352.0 536.7 L348.2 536.4 L344.4 536.0 L340.6 535.5 L336.8 534.9 L333.1 534.3 L329.3 533.7 L325.5 533.1 L321.7 532.6 L317.9 532.0 L314.1 531.6 L310.3 531.2 L306.5 530.8 L302.7 530.5 L298.9 530.0 Z" fill="#7cf66e" fill-opacity="0.53"/>
  <path d="M509.1 540.3 L511.8 541.1 L514.4 542.1 L517.0 543.2 L519.6 544.3 L522.2 545.4 L524.8 546.4 L527.4 547.4 L530.0 548.2 L532.6 548.8 L535.2 549.3 L537.8 549.7 L540.4 549.8 L543.0 549.8 L545.6 549.6 L548.3 549.2 L550.9 548.8 L553.5 548.3 L556.1 547.8 L558.7 547.3 L561.3 546.9 L563.9 546.5 L566.5 546.3 L569.1 546.3 L571.7 546.6 L571.7 546.6 L569.1 547.0 L566.5 547.6 L563.9 548.2 L561.3 548.9 L558.7 549.7 L556.1 550.5 L553.5 551.3 L550.9 552.0 L548.3 552.6 L545.6 553.1 L543.0 553.3 L540.4 553.4 L537.8 553.2 L535.2 552.9 L532.6 552.2 L530.0 551.4 L527.4 550.4 L524.8 549.2 L522.2 547.8 L519.6 546.4 L517.0 544.8 L514.4 543.3 L511.8 541.8 L509.1 540.3 Z" fill="#40cc3a" fill-opacity="0.56"/>
  <path d="M484.4 545.8 L489.2 545.7 L493.9 545.6 L498.7 545.5 L503.4 545.4 L508.2 545.1 L512.9 544.7 L517.7 544.3 L522.5 543.8 L527.2 543.2 L532.0 542.6 L536.7 542.0 L541.5 541.4 L546.2 540.8 L551.0 540.3 L555.8 540.0 L560.5 539.7 L565.3 539.6 L570.0 539.7 L574.8 540.0 L579.5 540.4 L584.3 541.1 L589.1 541.9 L593.8 542.9 L598.6 544.3 L598.6 544.3 L593.8 544.4 L589.1 544.5 L584.3 544.6 L579.5 544.8 L574.8 545.1 L570.0 545.5 L565.3 546.0 L560.5 546.6 L555.8 547.2 L551.0 547.8 L546.2 548.4 L541.5 549.0 L536.7 549.6 L532.0 550.0 L527.2 550.4 L522.5 550.6 L517.7 550.7 L512.9 550.5 L508.2 550.2 L503.4 549.8 L498.7 549.1 L493.9 548.2 L489.2 547.2 L484.4 545.8 Z" fill="#7cf66e" fill-opacity="0.45"/>
  <path d="M204.1 531.1 L206.3 529.5 L208.6 527.9 L210.8 526.5 L213.0 525.0 L215.2 523.6 L217.5 522.3 L219.7 521.0 L221.9 520.0 L224.2 519.1 L226.4 518.4 L228.6 517.9 L230.9 517.6 L233.1 517.6 L235.3 517.7 L237.5 518.1 L239.8 518.6 L242.0 519.3 L244.2 520.1 L246.5 520.9 L248.7 521.9 L250.9 522.9 L253.1 523.8 L255.4 524.8 L257.6 525.9 L257.6 525.9 L255.4 526.5 L253.1 526.8 L250.9 527.0 L248.7 527.0 L246.5 526.9 L244.2 526.8 L242.0 526.6 L239.8 526.5 L237.5 526.4 L235.3 526.3 L233.1 526.4 L230.9 526.5 L228.6 526.7 L226.4 527.0 L224.2 527.4 L221.9 527.9 L219.7 528.4 L217.5 529.0 L215.2 529.5 L213.0 530.1 L210.8 530.6 L208.6 530.9 L206.3 531.2 L204.1 531.1 Z" fill="#40cc3a" fill-opacity="0.67"/>
  <defs><clipPath id="sB"><path d="M374.5 510 L610 510 L610 555 L380 555 Q378 545 376 540 Q378.6 535 377 530 Q372.6 524 374.5 510 Z"/></clipPath></defs>
  <g clip-path="url(#sB)"><rect x="139.6" y="515.6" width="462.8" height="36.0" fill="#fc8c2e"/>
    <path d="M134.3 546.9 L137.8 545.4 L141.3 544.2 L144.8 543.0 L148.3 542.0 L151.8 541.2 L155.3 540.4 L158.8 539.8 L162.4 539.4 L165.9 539.1 L169.4 538.9 L172.9 538.9 L176.4 539.0 L179.9 539.2 L183.4 539.4 L186.9 539.7 L190.4 540.1 L194.0 540.4 L197.5 540.7 L201.0 541.0 L204.5 541.2 L208.0 541.4 L211.5 541.5 L215.0 541.6 L218.5 541.7 L218.5 541.7 L215.0 542.8 L211.5 543.6 L208.0 544.3 L204.5 544.8 L201.0 545.2 L197.5 545.5 L194.0 545.6 L190.4 545.7 L186.9 545.6 L183.4 545.5 L179.9 545.4 L176.4 545.3 L172.9 545.1 L169.4 545.0 L165.9 545.0 L162.4 545.0 L158.8 545.0 L155.3 545.2 L151.8 545.4 L148.3 545.6 L144.8 546.0 L141.3 546.3 L137.8 546.7 L134.3 546.9 Z" fill="#ee7a1e" fill-opacity="0.63"/>
    <path d="M250.7 520.8 L253.9 520.9 L257.2 521.1 L260.4 521.2 L263.7 521.2 L266.9 521.0 L270.1 520.7 L273.4 520.3 L276.6 519.7 L279.9 519.0 L283.1 518.3 L286.4 517.5 L289.6 516.7 L292.8 516.0 L296.1 515.3 L299.3 514.8 L302.6 514.4 L305.8 514.2 L309.1 514.1 L312.3 514.3 L315.5 514.7 L318.8 515.4 L322.0 516.2 L325.3 517.3 L328.5 518.7 L328.5 518.7 L325.3 518.6 L322.0 518.5 L318.8 518.5 L315.5 518.6 L312.3 518.8 L309.1 519.2 L305.8 519.7 L302.6 520.3 L299.3 521.1 L296.1 521.8 L292.8 522.6 L289.6 523.4 L286.4 524.1 L283.1 524.8 L279.9 525.3 L276.6 525.7 L273.4 525.8 L270.1 525.8 L266.9 525.5 L263.7 525.0 L260.4 524.3 L257.2 523.4 L253.9 522.3 L250.7 520.8 Z" fill="#fea24e" fill-opacity="0.44"/>
    <path d="M249.5 528.4 L252.4 527.5 L255.2 526.9 L258.1 526.4 L260.9 526.0 L263.8 525.7 L266.6 525.5 L269.4 525.5 L272.3 525.6 L275.1 525.7 L278.0 526.0 L280.8 526.3 L283.7 526.8 L286.5 527.2 L289.4 527.8 L292.2 528.3 L295.1 528.9 L297.9 529.4 L300.8 530.0 L303.6 530.5 L306.4 531.1 L309.3 531.6 L312.1 532.1 L315.0 532.6 L317.8 533.3 L317.8 533.3 L315.0 534.2 L312.1 534.8 L309.3 535.3 L306.4 535.7 L303.6 536.0 L300.8 536.1 L297.9 536.2 L295.1 536.1 L292.2 535.9 L289.4 535.6 L286.5 535.3 L283.7 534.9 L280.8 534.4 L278.0 533.9 L275.1 533.3 L272.3 532.8 L269.4 532.2 L266.6 531.7 L263.8 531.1 L260.9 530.6 L258.1 530.1 L255.2 529.6 L252.4 529.1 L249.5 528.4 Z" fill="#ee7a1e" fill-opacity="0.52"/>
    <path d="M505.6 532.1 L509.7 532.2 L513.9 532.6 L518.1 533.1 L522.2 533.7 L526.4 534.3 L530.6 534.9 L534.8 535.4 L538.9 536.0 L543.1 536.4 L547.3 536.8 L551.4 537.1 L555.6 537.3 L559.8 537.3 L563.9 537.3 L568.1 537.1 L572.3 536.9 L576.4 536.6 L580.6 536.3 L584.8 536.0 L588.9 535.8 L593.1 535.6 L597.3 535.5 L601.4 535.5 L605.6 535.8 L605.6 535.8 L601.4 536.6 L597.3 537.3 L593.1 538.1 L588.9 538.9 L584.8 539.8 L580.6 540.5 L576.4 541.2 L572.3 541.8 L568.1 542.3 L563.9 542.6 L559.8 542.8 L555.6 542.8 L551.4 542.6 L547.3 542.2 L543.1 541.6 L538.9 540.9 L534.8 540.0 L530.6 539.0 L526.4 538.0 L522.2 536.8 L518.1 535.6 L513.9 534.5 L509.7 533.3 L505.6 532.1 Z" fill="#fea24e" fill-opacity="0.36"/>
    <path d="M319.0 521.1 L321.3 521.3 L323.6 521.6 L326.0 521.9 L328.3 522.2 L330.6 522.5 L332.9 522.7 L335.3 522.9 L337.6 523.1 L339.9 523.2 L342.3 523.3 L344.6 523.3 L346.9 523.4 L349.3 523.3 L351.6 523.3 L353.9 523.3 L356.3 523.3 L358.6 523.4 L360.9 523.5 L363.2 523.6 L365.6 523.8 L367.9 524.1 L370.2 524.5 L372.6 525.0 L374.9 525.7 L374.9 525.7 L372.6 525.8 L370.2 525.9 L367.9 526.0 L365.6 526.1 L363.2 526.3 L360.9 526.5 L358.6 526.7 L356.3 526.9 L353.9 527.1 L351.6 527.3 L349.3 527.4 L346.9 527.4 L344.6 527.3 L342.3 527.2 L339.9 527.0 L337.6 526.7 L335.3 526.3 L332.9 525.8 L330.6 525.2 L328.3 524.5 L326.0 523.8 L323.6 523.0 L321.3 522.1 L319.0 521.1 Z" fill="#ee7a1e" fill-opacity="0.53"/>
    <path d="M482.3 550.0 L486.4 549.4 L490.5 548.7 L494.6 548.0 L498.7 547.2 L502.8 546.4 L506.9 545.6 L511.0 544.9 L515.1 544.2 L519.2 543.7 L523.4 543.2 L527.5 542.9 L531.6 542.8 L535.7 542.9 L539.8 543.2 L543.9 543.6 L548.0 544.2 L552.1 545.0 L556.2 546.0 L560.3 547.0 L564.4 548.2 L568.5 549.4 L572.6 550.7 L576.7 551.9 L580.8 553.3 L580.8 553.3 L576.7 553.0 L572.6 552.6 L568.5 552.0 L564.4 551.4 L560.3 550.8 L556.2 550.2 L552.1 549.7 L548.0 549.3 L543.9 548.9 L539.8 548.6 L535.7 548.5 L531.6 548.5 L527.5 548.5 L523.4 548.7 L519.2 548.9 L515.1 549.2 L511.0 549.6 L506.9 549.9 L502.8 550.2 L498.7 550.4 L494.6 550.6 L490.5 550.6 L486.4 550.5 L482.3 550.0 Z" fill="#fea24e" fill-opacity="0.52"/>
    <path d="M504.8 550.1 L507.4 550.2 L510.1 550.3 L512.7 550.3 L515.4 550.2 L518.0 549.9 L520.7 549.4 L523.3 548.7 L526.0 547.8 L528.6 546.8 L531.3 545.7 L533.9 544.5 L536.6 543.3 L539.2 542.0 L541.9 540.8 L544.5 539.6 L547.2 538.6 L549.8 537.7 L552.5 537.0 L555.1 536.5 L557.8 536.2 L560.4 536.1 L563.1 536.3 L565.7 536.7 L568.3 537.4 L568.3 537.4 L565.7 537.5 L563.1 537.6 L560.4 538.0 L557.8 538.4 L555.1 539.1 L552.5 540.0 L549.8 540.9 L547.2 542.1 L544.5 543.3 L541.9 544.6 L539.2 545.9 L536.6 547.2 L533.9 548.4 L531.3 549.6 L528.6 550.5 L526.0 551.4 L523.3 552.0 L520.7 552.4 L518.0 552.5 L515.4 552.5 L512.7 552.2 L510.1 551.7 L507.4 551.0 L504.8 550.1 Z" fill="#ee7a1e" fill-opacity="0.62"/>
    <path d="M258.2 540.1 L260.5 539.4 L262.8 539.1 L265.0 538.9 L267.3 538.9 L269.6 539.0 L271.8 539.2 L274.1 539.5 L276.3 539.8 L278.6 540.2 L280.9 540.6 L283.1 541.0 L285.4 541.4 L287.7 541.7 L289.9 542.0 L292.2 542.2 L294.5 542.3 L296.7 542.4 L299.0 542.5 L301.3 542.5 L303.5 542.5 L305.8 542.4 L308.0 542.4 L310.3 542.5 L312.6 542.8 L312.6 542.8 L310.3 544.0 L308.0 545.1 L305.8 546.1 L303.5 547.0 L301.3 547.8 L299.0 548.4 L296.7 549.0 L294.5 549.3 L292.2 549.5 L289.9 549.6 L287.7 549.5 L285.4 549.2 L283.1 548.8 L280.9 548.2 L278.6 547.6 L276.3 546.8 L274.1 546.0 L271.8 545.2 L269.6 544.3 L267.3 543.4 L265.0 542.6 L262.8 541.7 L260.5 541.0 L258.2 540.1 Z" fill="#fea24e" fill-opacity="0.51"/>
    <path d="M243.3 526.9 L248.0 525.4 L252.8 524.2 L257.5 523.3 L262.3 522.6 L267.0 522.1 L271.8 521.9 L276.5 521.9 L281.2 522.1 L286.0 522.5 L290.7 523.0 L295.5 523.6 L300.2 524.3 L305.0 525.0 L309.7 525.7 L314.5 526.3 L319.2 526.8 L323.9 527.1 L328.7 527.3 L333.4 527.3 L338.2 527.1 L342.9 526.8 L347.7 526.2 L352.4 525.6 L357.2 524.8 L357.2 524.8 L352.4 526.4 L347.7 527.6 L342.9 528.7 L338.2 529.5 L333.4 530.1 L328.7 530.4 L323.9 530.5 L319.2 530.4 L314.5 530.1 L309.7 529.7 L305.0 529.1 L300.2 528.4 L295.5 527.7 L290.7 527.0 L286.0 526.3 L281.2 525.8 L276.5 525.3 L271.8 525.0 L267.0 524.9 L262.3 525.0 L257.5 525.2 L252.8 525.6 L248.0 526.2 L243.3 526.9 Z" fill="#ee7a1e" fill-opacity="0.66"/>
    <path d="M370.8 537.8 L375.2 537.7 L379.7 537.7 L384.1 537.7 L388.5 537.6 L393.0 537.4 L397.4 537.1 L401.8 536.8 L406.3 536.5 L410.7 536.0 L415.2 535.5 L419.6 535.0 L424.0 534.5 L428.5 533.9 L432.9 533.4 L437.3 533.0 L441.8 532.6 L446.2 532.2 L450.7 532.0 L455.1 531.9 L459.5 531.9 L464.0 532.0 L468.4 532.2 L472.8 532.6 L477.3 533.1 L477.3 533.1 L472.8 533.3 L468.4 533.5 L464.0 533.8 L459.5 534.1 L455.1 534.5 L450.7 534.9 L446.2 535.4 L441.8 536.0 L437.3 536.6 L432.9 537.2 L428.5 537.7 L424.0 538.3 L419.6 538.8 L415.2 539.3 L410.7 539.6 L406.3 539.9 L401.8 540.0 L397.4 540.1 L393.0 540.0 L388.5 539.8 L384.1 539.4 L379.7 539.0 L375.2 538.5 L370.8 537.8 Z" fill="#fea24e" fill-opacity="0.51"/>
    <path d="M299.2 547.7 L301.7 546.5 L304.2 545.4 L306.8 544.4 L309.3 543.4 L311.9 542.6 L314.4 541.8 L317.0 541.3 L319.5 540.9 L322.1 540.7 L324.6 540.7 L327.2 540.9 L329.7 541.3 L332.2 541.9 L334.8 542.6 L337.3 543.5 L339.9 544.4 L342.4 545.4 L345.0 546.4 L347.5 547.4 L350.1 548.3 L352.6 549.2 L355.2 549.9 L357.7 550.6 L360.2 551.1 L360.2 551.1 L357.7 551.4 L355.2 551.3 L352.6 551.1 L350.1 550.7 L347.5 550.1 L345.0 549.5 L342.4 548.8 L339.9 548.0 L337.3 547.3 L334.8 546.5 L332.2 545.9 L329.7 545.3 L327.2 544.9 L324.6 544.6 L322.1 544.5 L319.5 544.5 L317.0 544.6 L314.4 544.9 L311.9 545.3 L309.3 545.7 L306.8 546.3 L304.2 546.8 L301.7 547.3 L299.2 547.7 Z" fill="#ee7a1e" fill-opacity="0.68"/>
    <path d="M290.9 545.0 L293.9 543.5 L296.9 542.1 L300.0 540.7 L303.0 539.4 L306.0 538.0 L309.1 536.7 L312.1 535.4 L315.1 534.3 L318.1 533.3 L321.2 532.5 L324.2 531.9 L327.2 531.6 L330.3 531.4 L333.3 531.4 L336.3 531.7 L339.4 532.1 L342.4 532.8 L345.4 533.5 L348.5 534.4 L351.5 535.4 L354.5 536.4 L357.6 537.4 L360.6 538.4 L363.6 539.5 L363.6 539.5 L360.6 539.9 L357.6 540.0 L354.5 540.0 L351.5 539.8 L348.5 539.6 L345.4 539.4 L342.4 539.2 L339.4 539.1 L336.3 539.0 L333.3 539.0 L330.3 539.1 L327.2 539.4 L324.2 539.7 L321.2 540.1 L318.1 540.6 L315.1 541.2 L312.1 541.9 L309.1 542.6 L306.0 543.2 L303.0 543.8 L300.0 544.4 L296.9 544.8 L293.9 545.0 L290.9 545.0 Z" fill="#fea24e" fill-opacity="0.53"/>
    <path d="M415.9 520.4 L420.0 520.7 L424.0 521.1 L428.1 521.4 L432.2 521.8 L436.2 522.1 L440.3 522.3 L444.4 522.4 L448.4 522.4 L452.5 522.3 L456.6 522.0 L460.6 521.6 L464.7 521.1 L468.8 520.4 L472.8 519.7 L476.9 519.0 L481.0 518.2 L485.0 517.5 L489.1 516.7 L493.2 516.1 L497.2 515.6 L501.3 515.2 L505.4 515.0 L509.4 514.9 L513.5 515.2 L513.5 515.2 L509.4 515.7 L505.4 516.3 L501.3 517.0 L497.2 517.9 L493.2 518.8 L489.1 519.7 L485.0 520.7 L481.0 521.7 L476.9 522.7 L472.8 523.6 L468.8 524.3 L464.7 525.0 L460.6 525.5 L456.6 525.8 L452.5 526.0 L448.4 525.9 L444.4 525.7 L440.3 525.3 L436.2 524.7 L432.2 524.1 L428.1 523.3 L424.0 522.4 L420.0 521.4 L415.9 520.4 Z" fill="#ee7a1e" fill-opacity="0.51"/>
    <path d="M359.0 543.6 L361.9 543.8 L364.7 544.0 L367.6 544.0 L370.4 544.0 L373.3 543.8 L376.1 543.5 L379.0 543.1 L381.9 542.6 L384.7 542.1 L387.6 541.4 L390.4 540.8 L393.3 540.2 L396.1 539.6 L399.0 539.1 L401.8 538.8 L404.7 538.5 L407.5 538.5 L410.4 538.6 L413.2 538.9 L416.1 539.5 L419.0 540.2 L421.8 541.1 L424.7 542.2 L427.5 543.6 L427.5 543.6 L424.7 543.4 L421.8 543.1 L419.0 543.0 L416.1 542.9 L413.2 543.0 L410.4 543.1 L407.5 543.5 L404.7 543.9 L401.8 544.4 L399.0 544.9 L396.1 545.5 L393.3 546.2 L390.4 546.7 L387.6 547.3 L384.7 547.7 L381.9 548.0 L379.0 548.1 L376.1 548.1 L373.3 547.8 L370.4 547.4 L367.6 546.8 L364.7 546.0 L361.9 545.0 L359.0 543.6 Z" fill="#fea24e" fill-opacity="0.44"/>
    <path d="M265.5 518.3 L269.2 517.6 L272.8 517.0 L276.5 516.5 L280.1 516.1 L283.8 515.8 L287.4 515.6 L291.1 515.6 L294.7 515.7 L298.4 516.0 L302.0 516.4 L305.7 516.9 L309.3 517.6 L313.0 518.4 L316.6 519.2 L320.3 520.2 L323.9 521.1 L327.6 522.1 L331.2 523.0 L334.9 523.9 L338.5 524.7 L342.2 525.5 L345.8 526.2 L349.5 526.7 L353.1 527.3 L353.1 527.3 L349.5 527.5 L345.8 527.5 L342.2 527.3 L338.5 527.0 L334.9 526.6 L331.2 526.0 L327.6 525.4 L323.9 524.7 L320.3 523.9 L316.6 523.1 L313.0 522.3 L309.3 521.6 L305.7 520.9 L302.0 520.3 L298.4 519.7 L294.7 519.2 L291.1 518.9 L287.4 518.6 L283.8 518.5 L280.1 518.4 L276.5 518.3 L272.8 518.3 L269.2 518.4 L265.5 518.3 Z" fill="#ee7a1e" fill-opacity="0.60"/>
    <path d="M345.5 522.5 L349.1 522.3 L352.7 522.1 L356.3 521.7 L359.8 521.2 L363.4 520.6 L367.0 519.9 L370.6 519.1 L374.2 518.4 L377.8 517.7 L381.3 517.1 L384.9 516.6 L388.5 516.2 L392.1 516.1 L395.7 516.1 L399.3 516.3 L402.8 516.8 L406.4 517.5 L410.0 518.3 L413.6 519.4 L417.2 520.6 L420.8 521.9 L424.3 523.4 L427.9 524.8 L431.5 526.4 L431.5 526.4 L427.9 525.5 L424.3 524.6 L420.8 523.6 L417.2 522.7 L413.6 521.8 L410.0 521.0 L406.4 520.4 L402.8 520.0 L399.3 519.7 L395.7 519.5 L392.1 519.6 L388.5 519.8 L384.9 520.1 L381.3 520.5 L377.8 521.0 L374.2 521.5 L370.6 522.1 L367.0 522.6 L363.4 523.0 L359.8 523.2 L356.3 523.4 L352.7 523.3 L349.1 523.0 L345.5 522.5 Z" fill="#fea24e" fill-opacity="0.41"/>
    <path d="M317.6 548.9 L322.5 547.8 L327.4 546.9 L332.3 546.0 L337.2 545.1 L342.1 544.2 L347.0 543.3 L351.9 542.4 L356.8 541.6 L361.6 540.8 L366.5 540.0 L371.4 539.3 L376.3 538.7 L381.2 538.2 L386.1 537.9 L391.0 537.6 L395.9 537.5 L400.8 537.5 L405.7 537.6 L410.6 537.9 L415.5 538.2 L420.4 538.7 L425.3 539.3 L430.2 540.0 L435.1 540.9 L435.1 540.9 L430.2 541.7 L425.3 542.2 L420.4 542.7 L415.5 543.2 L410.6 543.7 L405.7 544.2 L400.8 544.7 L395.9 545.2 L391.0 545.8 L386.1 546.3 L381.2 546.9 L376.3 547.4 L371.4 548.0 L366.5 548.5 L361.6 548.9 L356.8 549.3 L351.9 549.7 L347.0 549.9 L342.1 550.1 L337.2 550.1 L332.3 550.0 L327.4 549.9 L322.5 549.5 L317.6 548.9 Z" fill="#ee7a1e" fill-opacity="0.47"/>
    <path d="M309.5 527.1 L312.8 526.0 L316.1 525.4 L319.3 524.9 L322.6 524.6 L325.9 524.5 L329.2 524.6 L332.5 524.8 L335.8 525.0 L339.0 525.4 L342.3 525.9 L345.6 526.3 L348.9 526.8 L352.2 527.2 L355.5 527.7 L358.8 528.0 L362.0 528.3 L365.3 528.5 L368.6 528.6 L371.9 528.6 L375.2 528.6 L378.5 528.5 L381.7 528.4 L385.0 528.4 L388.3 528.5 L388.3 528.5 L385.0 530.0 L381.7 531.3 L378.5 532.4 L375.2 533.4 L371.9 534.2 L368.6 534.9 L365.3 535.4 L362.0 535.7 L358.8 535.8 L355.5 535.8 L352.2 535.5 L348.9 535.1 L345.6 534.6 L342.3 534.0 L339.0 533.2 L335.8 532.5 L332.5 531.7 L329.2 530.9 L325.9 530.1 L322.6 529.4 L319.3 528.8 L316.1 528.2 L312.8 527.7 L309.5 527.1 Z" fill="#fea24e" fill-opacity="0.48"/>
    <path d="M455.3 538.6 L458.4 537.2 L461.4 535.9 L464.5 534.5 L467.5 533.1 L470.5 531.8 L473.6 530.4 L476.6 529.2 L479.7 528.0 L482.7 527.1 L485.8 526.3 L488.8 525.7 L491.9 525.4 L494.9 525.4 L497.9 525.6 L501.0 526.0 L504.0 526.7 L507.1 527.5 L510.1 528.6 L513.2 529.8 L516.2 531.1 L519.2 532.5 L522.3 533.9 L525.3 535.3 L528.4 536.8 L528.4 536.8 L525.3 536.9 L522.3 536.7 L519.2 536.4 L516.2 536.0 L513.2 535.5 L510.1 535.0 L507.1 534.6 L504.0 534.2 L501.0 533.9 L497.9 533.8 L494.9 533.8 L491.9 533.9 L488.8 534.1 L485.8 534.5 L482.7 535.0 L479.7 535.6 L476.6 536.2 L473.6 536.8 L470.5 537.5 L467.5 538.0 L464.5 538.5 L461.4 538.8 L458.4 538.9 L455.3 538.6 Z" fill="#ee7a1e" fill-opacity="0.52"/>
  </g>
</g>
<g>
<circle cx="303" cy="371" r="1.2" fill="#f28a34"/>
<circle cx="289" cy="391" r="1.3" fill="#f28a34"/>
<circle cx="311.5" cy="375" r="1.6" fill="#56e44c"/>
<circle cx="318" cy="383" r="1.2" fill="#56e44c"/>
<circle cx="296" cy="380" r="1" fill="#f28a34"/>
<circle cx="214.5" cy="414" r="2.6" fill="#f28a34"/>
<circle cx="230.5" cy="410" r="2" fill="#56e44c"/>
<circle cx="214" cy="409.3" r="1" fill="#9a9a9a"/>
<circle cx="242" cy="407" r="1.1" fill="#9a9a9a"/>
<circle cx="205" cy="448.5" r="1.5" fill="#f28a34"/>
<circle cx="221" cy="450.6" r="1.2" fill="#56e44c"/>
<circle cx="236" cy="420.5" r="2.6" fill="#56e44c"/>
<circle cx="233" cy="442" r="2.2" fill="#56e44c"/>
<circle cx="227" cy="414.5" r="1.2" fill="#f28a34"/>
<circle cx="152" cy="480" r="1.2" fill="#f28a34"/>
<circle cx="159" cy="491" r="1.3" fill="#56e44c"/>
<circle cx="163" cy="493" r="1" fill="#56e44c"/>
<circle cx="574.5" cy="368.5" r="2.4" fill="#56e44c"/>
<circle cx="560.6" cy="364" r="2" fill="#56e44c"/>
<circle cx="552" cy="396.6" r="2" fill="#f28a34"/>
<circle cx="545" cy="399" r="1.5" fill="#f28a34"/>
<circle cx="548" cy="386" r="1.2" fill="#f28a34"/>
<circle cx="540" cy="374" r="1" fill="#f28a34"/>
<circle cx="551" cy="358" r="1" fill="#9a9a9a"/>
<circle cx="530" cy="357" r="0.9" fill="#9a9a9a"/>
<circle cx="513" cy="425" r="2" fill="#56e44c"/>
<circle cx="514.5" cy="439" r="2" fill="#56e44c"/>
<circle cx="524" cy="418.5" r="1.8" fill="#56e44c"/>
<circle cx="496.6" cy="429.6" r="1.5" fill="#f28a34"/>
<circle cx="501.5" cy="437" r="1.5" fill="#f28a34"/>
<circle cx="469.5" cy="463.5" r="2.2" fill="#56e44c"/>
<circle cx="474.5" cy="478" r="2.6" fill="#56e44c"/>
<circle cx="484" cy="483" r="2.4" fill="#56e44c"/>
<circle cx="453.5" cy="500" r="3" fill="#f28a34"/>
<circle cx="463" cy="503" r="2.5" fill="#f28a34"/>
<circle cx="466" cy="498" r="2" fill="#56e44c"/>
<circle cx="461" cy="455" r="1.2" fill="#9a9a9a"/>
<circle cx="475" cy="457.5" r="1.4" fill="#9a9a9a"/>
<circle cx="446" cy="469.5" r="1.2" fill="#f28a34"/>
<circle cx="346.3" cy="506.8" r="2.6999999999999997" fill="#f6b070" stroke="#ea8a3c" stroke-width="1.2"/>
<circle cx="328" cy="555.3" r="2.6999999999999997" fill="#f6b070" stroke="#ea8a3c" stroke-width="1.2"/>
<circle cx="344.2" cy="561.8" r="2.1999999999999997" fill="#f6b070" stroke="#ea8a3c" stroke-width="1.2"/>
<circle cx="363.5" cy="561.8" r="1.9" fill="#f6b070" stroke="#ea8a3c" stroke-width="1.2"/>
<circle cx="357" cy="556.4" r="1.4" fill="#f28a34"/>
<circle cx="331" cy="522" r="1.6999999999999997" fill="#f6b070" stroke="#ea8a3c" stroke-width="1.2"/>
<circle cx="406.6" cy="515.5" r="3.3" fill="#56e44c"/>
<circle cx="425" cy="525" r="2.4" fill="#56e44c"/>
<circle cx="435.7" cy="552" r="2.4" fill="#56e44c"/>
</g>
<g fill="none" stroke-linecap="round">
<path d="M376 527 Q384 521 394 521 Q406 522 413 529 Q416 532 419 533" stroke="#56e44c" stroke-width="2.4"/>
<path d="M378 544 Q392 541 406 539.5" stroke="#56e44c" stroke-width="3"/>
<path d="M349 525 Q362 529 372 530" stroke="#f28a34" stroke-width="2"/>
<path d="M405 518 Q408 514 410 513" stroke="#56e44c" stroke-width="2"/>
</g>
<path d="M374 530 Q381 533 383 540 Q384 546 380 549 Q384 552 387 554 Q391 557 389 560 Q386 563 383 560 Q381 556 378 552 L374 549 Z" fill="#56e44c"/>
<path d="M371 518 Q369 514 370 510 Q372 507 375.5 508 Q378 510 377 514 Q376 517 377 519 Z" fill="#f28a34"/>

<!-- percent labels -->
<g font-size="16" fill="#ee8e36" stroke="#ee8e36" stroke-width="0.55">
  <text x="159.6" y="385.4" textLength="26.5" lengthAdjust="spacingAndGlyphs">90<tspan font-size="14" fill-opacity="0.6" stroke-opacity="0.3">%</tspan></text>
  <text x="283.8" y="385.4" textLength="22.5" lengthAdjust="spacingAndGlyphs">10<tspan font-size="14" fill-opacity="0.6" stroke-opacity="0.3">%</tspan></text>
  <text x="156.5" y="435.5" textLength="25.5" lengthAdjust="spacingAndGlyphs">50<tspan font-size="14" fill-opacity="0.6" stroke-opacity="0.3">%</tspan></text>
  <text x="432" y="385.5" textLength="26.5" lengthAdjust="spacingAndGlyphs">70<tspan font-size="14" fill-opacity="0.6" stroke-opacity="0.3">%</tspan></text>
  <text x="434.6" y="435.5" textLength="26" lengthAdjust="spacingAndGlyphs">50<tspan font-size="14" fill-opacity="0.6" stroke-opacity="0.3">%</tspan></text>
  <text x="431.5" y="485.8" textLength="26" lengthAdjust="spacingAndGlyphs">30<tspan font-size="14" fill-opacity="0.6" stroke-opacity="0.3">%</tspan></text>
</g>
<g font-size="16" fill="#88de54" stroke="#88de54" stroke-width="0.55">
  <text x="283.6" y="435.5" textLength="26.2" lengthAdjust="spacingAndGlyphs">50<tspan font-size="14" fill-opacity="0.7" stroke-opacity="0.4">%</tspan></text>
  <text x="160.5" y="486.9" textLength="23.5" lengthAdjust="spacingAndGlyphs">10<tspan font-size="14" fill-opacity="0.7" stroke-opacity="0.4">%</tspan></text>
  <text x="280.5" y="486" textLength="26.8" lengthAdjust="spacingAndGlyphs">90<tspan font-size="14" fill-opacity="0.7" stroke-opacity="0.4">%</tspan></text>
  <text x="558" y="386" textLength="28.5" lengthAdjust="spacingAndGlyphs">30<tspan font-size="14" fill-opacity="0.7" stroke-opacity="0.4">%</tspan></text>
  <text x="557" y="435.5" textLength="26.8" lengthAdjust="spacingAndGlyphs">50<tspan font-size="14" fill-opacity="0.7" stroke-opacity="0.4">%</tspan></text>
  <text x="559" y="485.8" textLength="27" lengthAdjust="spacingAndGlyphs">70<tspan font-size="14" fill-opacity="0.7" stroke-opacity="0.4">%</tspan></text>
</g>
<text x="209.6" y="541" font-size="21.5" fill="#f0903c" textLength="110.4" lengthAdjust="spacingAndGlyphs">Грейпфрут</text>
<text x="434.2" y="541.5" font-size="21.5" fill="#8ed65a" textLength="127.8" lengthAdjust="spacingAndGlyphs">Лимон Лайм</text>

<!-- A ? B -->
<g font-size="27.5" font-weight="bold" stroke-width="1">
  <text x="348.4" y="390.8" fill="#5ad84a" stroke="#5ad84a" textLength="14.6" lengthAdjust="spacingAndGlyphs">A</text>
  <text x="379.8" y="390.8" fill="#f5903a" stroke="#f5903a" textLength="13.8" lengthAdjust="spacingAndGlyphs">B</text>
  <text x="348.4" y="440.8" fill="#5ad84a" stroke="#5ad84a" textLength="14.6" lengthAdjust="spacingAndGlyphs">A</text>
  <text x="379.8" y="440.8" fill="#f5903a" stroke="#f5903a" textLength="13.8" lengthAdjust="spacingAndGlyphs">B</text>
  <text x="348.4" y="491" fill="#5ad84a" stroke="#5ad84a" textLength="14.6" lengthAdjust="spacingAndGlyphs">A</text>
  <text x="379.8" y="491" fill="#f5903a" stroke="#f5903a" textLength="13.8" lengthAdjust="spacingAndGlyphs">B</text>
</g>
<g fill="none" stroke="#4a4a4a" stroke-width="2.1">
  <polyline points="366,376.2 376.5,381.2 366,386.2"/>
  <line x1="365.5" y1="427.5" x2="377" y2="427.5"/>
  <line x1="365.5" y1="434" x2="377" y2="434"/>
  <polyline points="376.5,477.6 366,482.8 376.5,488"/>
</g>
</svg>
</body></html>
